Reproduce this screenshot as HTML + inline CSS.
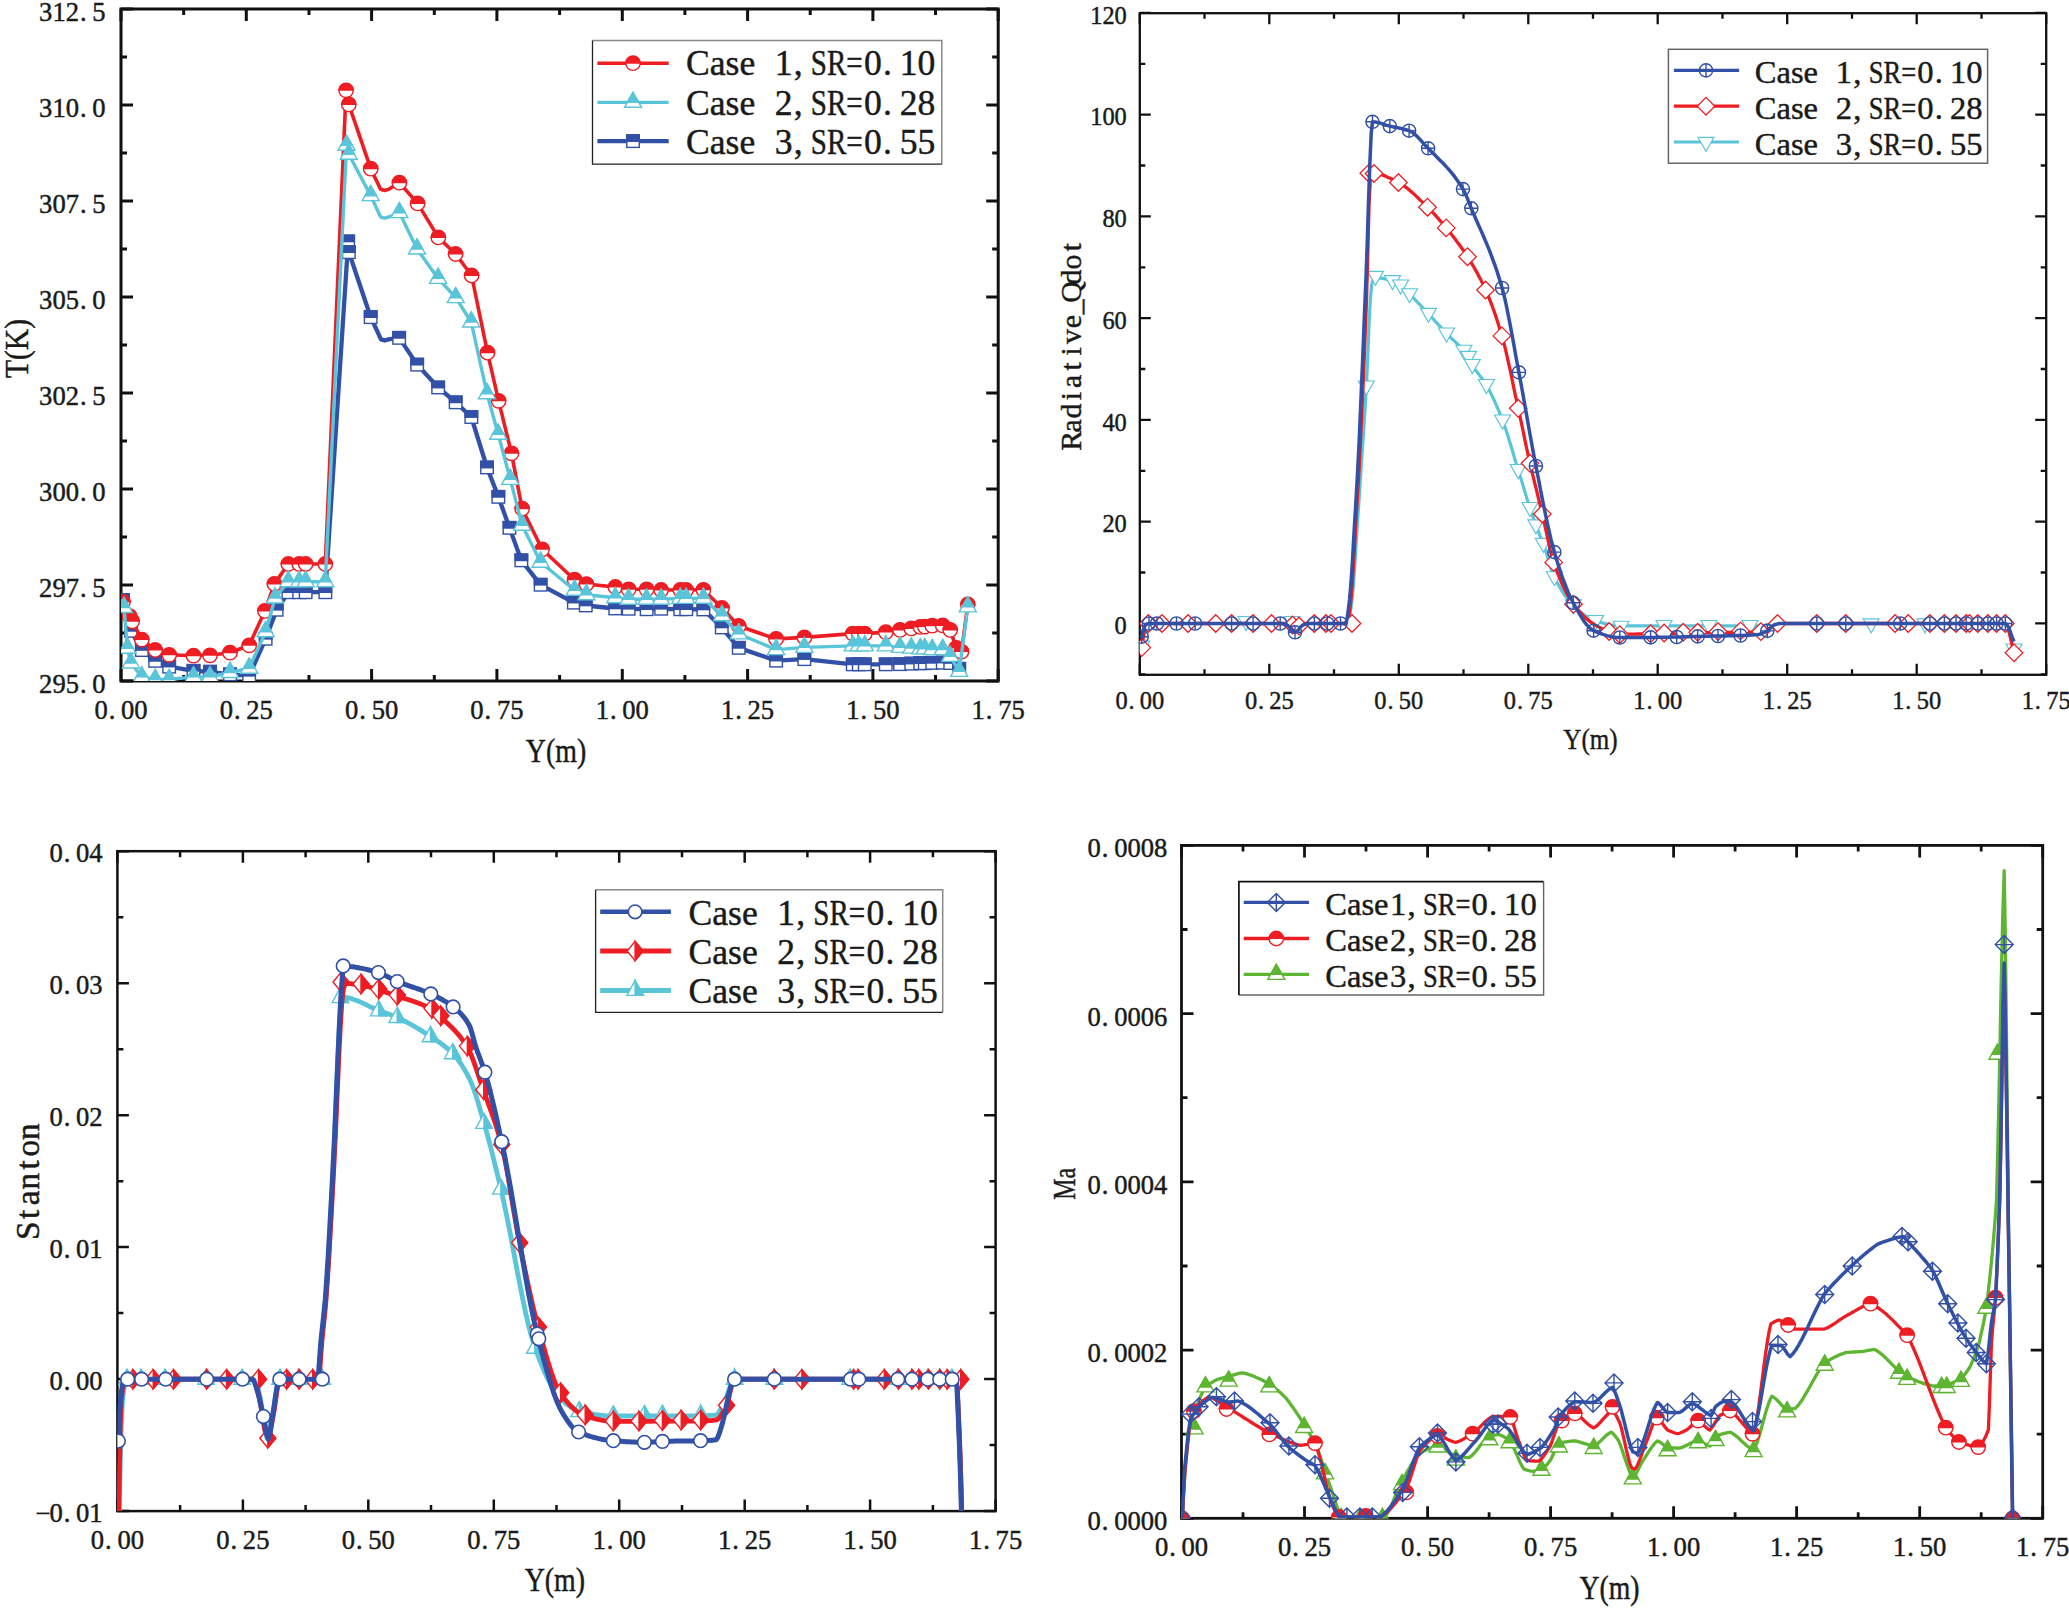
<!DOCTYPE html>
<html lang="en"><head><meta charset="utf-8"><title>Figure</title>
<style>html,body{margin:0;padding:0;background:#fff}svg{display:block}text{stroke:#1a1a1a;stroke-width:.45px}</style></head>
<body>
<svg width="2069" height="1623" viewBox="0 0 2069 1623" font-family='"Liberation Serif", serif' fill="#1a1a1a">
<rect width="2069" height="1623" fill="#fff"/>
<defs>
<clipPath id="c1"><rect x="121" y="9" width="877.2" height="672"/></clipPath>
<clipPath id="c2"><rect x="1139.8" y="13.2" width="906.4" height="661.6"/></clipPath>
<clipPath id="c3"><rect x="117.4" y="851.2" width="878.2" height="659.9"/></clipPath>
<clipPath id="c4"><rect x="1181.5" y="845.4" width="861.2" height="672.9"/></clipPath>
</defs>
<path d="M121,681 v-12 M121,9 v12 M183.7,681 v-6 M183.7,9 v6 M246.3,681 v-12 M246.3,9 v12 M309,681 v-6 M309,9 v6 M371.6,681 v-12 M371.6,9 v12 M434.3,681 v-6 M434.3,9 v6 M496.9,681 v-12 M496.9,9 v12 M559.6,681 v-6 M559.6,9 v6 M622.3,681 v-12 M622.3,9 v12 M684.9,681 v-6 M684.9,9 v6 M747.6,681 v-12 M747.6,9 v12 M810.2,681 v-6 M810.2,9 v6 M872.9,681 v-12 M872.9,9 v12 M935.5,681 v-6 M935.5,9 v6 M998.2,681 v-12 M998.2,9 v12 M121,681 h12 M998.2,681 h-12 M121,633 h6 M998.2,633 h-6 M121,585 h12 M998.2,585 h-12 M121,537 h6 M998.2,537 h-6 M121,489 h12 M998.2,489 h-12 M121,441 h6 M998.2,441 h-6 M121,393 h12 M998.2,393 h-12 M121,345 h6 M998.2,345 h-6 M121,297 h12 M998.2,297 h-12 M121,249 h6 M998.2,249 h-6 M121,201 h12 M998.2,201 h-12 M121,153 h6 M998.2,153 h-6 M121,105 h12 M998.2,105 h-12 M121,57 h6 M998.2,57 h-6 M121,9 h12 M998.2,9 h-12" stroke="#111" stroke-width="3" fill="none"/>
<rect x="121" y="9" width="877.2" height="672" fill="none" stroke="#111" stroke-width="3"/>
<text font-size="26.60" text-anchor="middle" x="101.05 111.96 127.65 140.95" y="718.60">0.00</text>
<text font-size="26.60" text-anchor="middle" x="226.36 237.27 252.96 266.26" y="718.60">0.25</text>
<text font-size="26.60" text-anchor="middle" x="351.68 362.58 378.28 391.58" y="718.60">0.50</text>
<text font-size="26.60" text-anchor="middle" x="476.99 487.90 503.59 516.89" y="718.60">0.75</text>
<text font-size="26.60" text-anchor="middle" x="602.31 613.21 628.91 642.21" y="718.60">1.00</text>
<text font-size="26.60" text-anchor="middle" x="727.62 738.53 754.22 767.52" y="718.60">1.25</text>
<text font-size="26.60" text-anchor="middle" x="852.94 863.84 879.54 892.84" y="718.60">1.50</text>
<text font-size="26.60" text-anchor="middle" x="978.25 989.16 1004.85 1018.15" y="718.60">1.75</text>
<text font-size="26.60" text-anchor="middle" x="45.75 59.05 72.35 83.26 98.95" y="693.00">295.0</text>
<text font-size="26.60" text-anchor="middle" x="45.75 59.05 72.35 83.26 98.95" y="597.00">297.5</text>
<text font-size="26.60" text-anchor="middle" x="45.75 59.05 72.35 83.26 98.95" y="501.00">300.0</text>
<text font-size="26.60" text-anchor="middle" x="45.75 59.05 72.35 83.26 98.95" y="405.00">302.5</text>
<text font-size="26.60" text-anchor="middle" x="45.75 59.05 72.35 83.26 98.95" y="309.00">305.0</text>
<text font-size="26.60" text-anchor="middle" x="45.75 59.05 72.35 83.26 98.95" y="213.00">307.5</text>
<text font-size="26.60" text-anchor="middle" x="45.75 59.05 72.35 83.26 98.95" y="117.00">310.0</text>
<text font-size="26.60" text-anchor="middle" x="45.75 59.05 72.35 83.26 98.95" y="21.00">312.5</text>
<g clip-path="url(#c1)">
<path d="M121,597 L123,600 L130.9,630.9 L141.8,650 L155.2,660.9 L169.2,666.6 L193.5,670.9 L210,671.8 L230,674.4 L249.2,675.7 L265.7,638.7 L276.7,609.8 L288.3,592.2 L299.2,592.2 L305.7,592.2 L325.3,592.2 L348.2,241.4 L348.9,252.2 L370.7,317.2 L381,339.4 L384.7,340.5 L388.4,339.4 L399.2,337.9 L417.2,364.6 L438.2,387.5 L455.7,402.3 L471.3,417 L487,467.5 L498.4,496.8 L509.5,527.9 L521.4,560.4 L540.6,584.8 L573.9,602.6 L585.7,605.5 L615.3,608.5 L628.6,608.8 L646.6,609.2 L661.1,608.8 L680.3,609.2 L686.2,609.2 L703.4,609.5 L721.7,627.5 L738.7,647.9 L776.1,660.6 L804.4,659.1 L852.8,664.4 L858.8,664.4 L864.8,664.4 L885.8,664.4 L900,664.1 L911.3,663.6 L920.3,663.2 L924.8,663.2 L932.2,662.9 L942.7,662.6 L950.2,663 L959.2,668.9" fill="none" stroke="#3150a6" stroke-width="4.3" stroke-linejoin="round" stroke-linecap="butt"/>
<rect x="116.8" y="593.8" width="12.5" height="12.5" fill="#fff" stroke="#3150a6" stroke-width="1.4"/>
<rect x="116" y="593" width="13.9" height="7.824999999999999" fill="#3150a6"/>
<rect x="124.7" y="624.6" width="12.5" height="12.5" fill="#fff" stroke="#3150a6" stroke-width="1.4"/>
<rect x="124" y="623.9" width="13.9" height="7.824999999999999" fill="#3150a6"/>
<rect x="135.6" y="643.8" width="12.5" height="12.5" fill="#fff" stroke="#3150a6" stroke-width="1.4"/>
<rect x="134.9" y="643" width="13.9" height="7.824999999999999" fill="#3150a6"/>
<rect x="148.9" y="654.6" width="12.5" height="12.5" fill="#fff" stroke="#3150a6" stroke-width="1.4"/>
<rect x="148.2" y="653.9" width="13.9" height="7.824999999999999" fill="#3150a6"/>
<rect x="162.9" y="660.4" width="12.5" height="12.5" fill="#fff" stroke="#3150a6" stroke-width="1.4"/>
<rect x="162.2" y="659.6" width="13.9" height="7.824999999999999" fill="#3150a6"/>
<rect x="187.2" y="664.6" width="12.5" height="12.5" fill="#fff" stroke="#3150a6" stroke-width="1.4"/>
<rect x="186.6" y="663.9" width="13.9" height="7.824999999999999" fill="#3150a6"/>
<rect x="203.8" y="665.5" width="12.5" height="12.5" fill="#fff" stroke="#3150a6" stroke-width="1.4"/>
<rect x="203.1" y="664.8" width="13.9" height="7.824999999999999" fill="#3150a6"/>
<rect x="223.8" y="668.1" width="12.5" height="12.5" fill="#fff" stroke="#3150a6" stroke-width="1.4"/>
<rect x="223.1" y="667.4" width="13.9" height="7.824999999999999" fill="#3150a6"/>
<rect x="242.9" y="669.5" width="12.5" height="12.5" fill="#fff" stroke="#3150a6" stroke-width="1.4"/>
<rect x="242.2" y="668.8" width="13.9" height="7.824999999999999" fill="#3150a6"/>
<rect x="259.4" y="632.5" width="12.5" height="12.5" fill="#fff" stroke="#3150a6" stroke-width="1.4"/>
<rect x="258.8" y="631.8" width="13.9" height="7.824999999999999" fill="#3150a6"/>
<rect x="270.4" y="603.5" width="12.5" height="12.5" fill="#fff" stroke="#3150a6" stroke-width="1.4"/>
<rect x="269.8" y="602.8" width="13.9" height="7.824999999999999" fill="#3150a6"/>
<rect x="282.1" y="586" width="12.5" height="12.5" fill="#fff" stroke="#3150a6" stroke-width="1.4"/>
<rect x="281.4" y="585.2" width="13.9" height="7.824999999999999" fill="#3150a6"/>
<rect x="292.9" y="586" width="12.5" height="12.5" fill="#fff" stroke="#3150a6" stroke-width="1.4"/>
<rect x="292.2" y="585.2" width="13.9" height="7.824999999999999" fill="#3150a6"/>
<rect x="299.4" y="586" width="12.5" height="12.5" fill="#fff" stroke="#3150a6" stroke-width="1.4"/>
<rect x="298.8" y="585.2" width="13.9" height="7.824999999999999" fill="#3150a6"/>
<rect x="319.1" y="586" width="12.5" height="12.5" fill="#fff" stroke="#3150a6" stroke-width="1.4"/>
<rect x="318.4" y="585.2" width="13.9" height="7.824999999999999" fill="#3150a6"/>
<rect x="341.9" y="235.2" width="12.5" height="12.5" fill="#fff" stroke="#3150a6" stroke-width="1.4"/>
<rect x="341.2" y="234.5" width="13.9" height="7.824999999999999" fill="#3150a6"/>
<rect x="342.6" y="245.9" width="12.5" height="12.5" fill="#fff" stroke="#3150a6" stroke-width="1.4"/>
<rect x="341.9" y="245.2" width="13.9" height="7.824999999999999" fill="#3150a6"/>
<rect x="364.4" y="310.9" width="12.5" height="12.5" fill="#fff" stroke="#3150a6" stroke-width="1.4"/>
<rect x="363.8" y="310.2" width="13.9" height="7.824999999999999" fill="#3150a6"/>
<rect x="392.9" y="331.6" width="12.5" height="12.5" fill="#fff" stroke="#3150a6" stroke-width="1.4"/>
<rect x="392.2" y="330.9" width="13.9" height="7.824999999999999" fill="#3150a6"/>
<rect x="410.9" y="358.4" width="12.5" height="12.5" fill="#fff" stroke="#3150a6" stroke-width="1.4"/>
<rect x="410.2" y="357.7" width="13.9" height="7.824999999999999" fill="#3150a6"/>
<rect x="431.9" y="381.2" width="12.5" height="12.5" fill="#fff" stroke="#3150a6" stroke-width="1.4"/>
<rect x="431.2" y="380.6" width="13.9" height="7.824999999999999" fill="#3150a6"/>
<rect x="449.4" y="396.1" width="12.5" height="12.5" fill="#fff" stroke="#3150a6" stroke-width="1.4"/>
<rect x="448.8" y="395.4" width="13.9" height="7.824999999999999" fill="#3150a6"/>
<rect x="465.1" y="410.8" width="12.5" height="12.5" fill="#fff" stroke="#3150a6" stroke-width="1.4"/>
<rect x="464.4" y="410.1" width="13.9" height="7.824999999999999" fill="#3150a6"/>
<rect x="480.8" y="461.2" width="12.5" height="12.5" fill="#fff" stroke="#3150a6" stroke-width="1.4"/>
<rect x="480.1" y="460.6" width="13.9" height="7.824999999999999" fill="#3150a6"/>
<rect x="492.1" y="490.6" width="12.5" height="12.5" fill="#fff" stroke="#3150a6" stroke-width="1.4"/>
<rect x="491.4" y="489.9" width="13.9" height="7.824999999999999" fill="#3150a6"/>
<rect x="503.2" y="521.6" width="12.5" height="12.5" fill="#fff" stroke="#3150a6" stroke-width="1.4"/>
<rect x="502.6" y="520.9" width="13.9" height="7.824999999999999" fill="#3150a6"/>
<rect x="515.1" y="554.1" width="12.5" height="12.5" fill="#fff" stroke="#3150a6" stroke-width="1.4"/>
<rect x="514.4" y="553.4" width="13.9" height="7.824999999999999" fill="#3150a6"/>
<rect x="534.4" y="578.5" width="12.5" height="12.5" fill="#fff" stroke="#3150a6" stroke-width="1.4"/>
<rect x="533.6" y="577.8" width="13.9" height="7.824999999999999" fill="#3150a6"/>
<rect x="567.6" y="596.4" width="12.5" height="12.5" fill="#fff" stroke="#3150a6" stroke-width="1.4"/>
<rect x="566.9" y="595.6" width="13.9" height="7.824999999999999" fill="#3150a6"/>
<rect x="579.5" y="599.2" width="12.5" height="12.5" fill="#fff" stroke="#3150a6" stroke-width="1.4"/>
<rect x="578.8" y="598.5" width="13.9" height="7.824999999999999" fill="#3150a6"/>
<rect x="609" y="602.2" width="12.5" height="12.5" fill="#fff" stroke="#3150a6" stroke-width="1.4"/>
<rect x="608.3" y="601.5" width="13.9" height="7.824999999999999" fill="#3150a6"/>
<rect x="622.4" y="602.5" width="12.5" height="12.5" fill="#fff" stroke="#3150a6" stroke-width="1.4"/>
<rect x="621.6" y="601.8" width="13.9" height="7.824999999999999" fill="#3150a6"/>
<rect x="640.4" y="603" width="12.5" height="12.5" fill="#fff" stroke="#3150a6" stroke-width="1.4"/>
<rect x="639.6" y="602.2" width="13.9" height="7.824999999999999" fill="#3150a6"/>
<rect x="654.9" y="602.5" width="12.5" height="12.5" fill="#fff" stroke="#3150a6" stroke-width="1.4"/>
<rect x="654.1" y="601.8" width="13.9" height="7.824999999999999" fill="#3150a6"/>
<rect x="674" y="603" width="12.5" height="12.5" fill="#fff" stroke="#3150a6" stroke-width="1.4"/>
<rect x="673.3" y="602.2" width="13.9" height="7.824999999999999" fill="#3150a6"/>
<rect x="680" y="603" width="12.5" height="12.5" fill="#fff" stroke="#3150a6" stroke-width="1.4"/>
<rect x="679.2" y="602.2" width="13.9" height="7.824999999999999" fill="#3150a6"/>
<rect x="697.1" y="603.2" width="12.5" height="12.5" fill="#fff" stroke="#3150a6" stroke-width="1.4"/>
<rect x="696.4" y="602.5" width="13.9" height="7.824999999999999" fill="#3150a6"/>
<rect x="715.5" y="621.2" width="12.5" height="12.5" fill="#fff" stroke="#3150a6" stroke-width="1.4"/>
<rect x="714.8" y="620.5" width="13.9" height="7.824999999999999" fill="#3150a6"/>
<rect x="732.5" y="641.6" width="12.5" height="12.5" fill="#fff" stroke="#3150a6" stroke-width="1.4"/>
<rect x="731.8" y="640.9" width="13.9" height="7.824999999999999" fill="#3150a6"/>
<rect x="769.9" y="654.4" width="12.5" height="12.5" fill="#fff" stroke="#3150a6" stroke-width="1.4"/>
<rect x="769.1" y="653.6" width="13.9" height="7.824999999999999" fill="#3150a6"/>
<rect x="798.1" y="652.9" width="12.5" height="12.5" fill="#fff" stroke="#3150a6" stroke-width="1.4"/>
<rect x="797.4" y="652.1" width="13.9" height="7.824999999999999" fill="#3150a6"/>
<rect x="846.5" y="658.1" width="12.5" height="12.5" fill="#fff" stroke="#3150a6" stroke-width="1.4"/>
<rect x="845.8" y="657.4" width="13.9" height="7.824999999999999" fill="#3150a6"/>
<rect x="852.5" y="658.1" width="12.5" height="12.5" fill="#fff" stroke="#3150a6" stroke-width="1.4"/>
<rect x="851.8" y="657.4" width="13.9" height="7.824999999999999" fill="#3150a6"/>
<rect x="858.5" y="658.1" width="12.5" height="12.5" fill="#fff" stroke="#3150a6" stroke-width="1.4"/>
<rect x="857.8" y="657.4" width="13.9" height="7.824999999999999" fill="#3150a6"/>
<rect x="879.5" y="658.1" width="12.5" height="12.5" fill="#fff" stroke="#3150a6" stroke-width="1.4"/>
<rect x="878.8" y="657.4" width="13.9" height="7.824999999999999" fill="#3150a6"/>
<rect x="893.8" y="657.9" width="12.5" height="12.5" fill="#fff" stroke="#3150a6" stroke-width="1.4"/>
<rect x="893" y="657.1" width="13.9" height="7.824999999999999" fill="#3150a6"/>
<rect x="905" y="657.4" width="12.5" height="12.5" fill="#fff" stroke="#3150a6" stroke-width="1.4"/>
<rect x="904.3" y="656.6" width="13.9" height="7.824999999999999" fill="#3150a6"/>
<rect x="914" y="657" width="12.5" height="12.5" fill="#fff" stroke="#3150a6" stroke-width="1.4"/>
<rect x="913.3" y="656.2" width="13.9" height="7.824999999999999" fill="#3150a6"/>
<rect x="918.5" y="657" width="12.5" height="12.5" fill="#fff" stroke="#3150a6" stroke-width="1.4"/>
<rect x="917.8" y="656.2" width="13.9" height="7.824999999999999" fill="#3150a6"/>
<rect x="926" y="656.6" width="12.5" height="12.5" fill="#fff" stroke="#3150a6" stroke-width="1.4"/>
<rect x="925.2" y="655.9" width="13.9" height="7.824999999999999" fill="#3150a6"/>
<rect x="936.5" y="656.4" width="12.5" height="12.5" fill="#fff" stroke="#3150a6" stroke-width="1.4"/>
<rect x="935.8" y="655.6" width="13.9" height="7.824999999999999" fill="#3150a6"/>
<rect x="944" y="656.8" width="12.5" height="12.5" fill="#fff" stroke="#3150a6" stroke-width="1.4"/>
<rect x="943.2" y="656" width="13.9" height="7.824999999999999" fill="#3150a6"/>
<rect x="953" y="662.6" width="12.5" height="12.5" fill="#fff" stroke="#3150a6" stroke-width="1.4"/>
<rect x="952.2" y="661.9" width="13.9" height="7.824999999999999" fill="#3150a6"/>
<path d="M121,597 L123,602 L129.6,616.1 L132.2,621.3 L141.8,639.6 L155.2,650 L169.2,654.8 L193.5,655.7 L210,655.3 L230,652.7 L249.2,645.3 L264.9,610.9 L274.4,583.9 L288.3,564 L299.2,564 L305.7,564 L325.3,564 L346.1,90.3 L348.8,104.4 L370.7,168.7 L380.6,189.3 L384.6,190.4 L388.7,189.3 L399.4,182.7 L417.6,203.4 L438.3,237.4 L455.6,254 L471.6,275.5 L487.5,352.7 L498.6,400.8 L511.5,453.3 L522.1,508.7 L542.1,549.3 L574.6,579.7 L586.4,584.1 L615.3,587 L628.6,589.3 L646.6,589.3 L661.1,590 L680.3,590 L686.2,590 L703.4,589.8 L722,608 L738.7,626 L776.1,638.9 L804.4,637.4 L852.8,633.6 L858.8,633.6 L864.8,633.6 L885.8,632.1 L900,629.9 L911.3,628.4 L920.3,626.9 L924.8,626.6 L932.2,625.7 L942.7,625.4 L950.2,629.9 L956.2,647.9 L961.5,651.6 L967.8,604.4" fill="none" stroke="#ee1d23" stroke-width="3.6" stroke-linejoin="round" stroke-linecap="butt"/>
<circle cx="123" cy="602" r="7.2" fill="#fff" stroke="#ee1d23" stroke-width="1.4"/>
<path d="M115.2,602.5 a7.8,7.8 0 0 1 15.6,0 z" fill="#ee1d23"/>
<circle cx="129.6" cy="616.1" r="7.2" fill="#fff" stroke="#ee1d23" stroke-width="1.4"/>
<path d="M121.8,616.6 a7.8,7.8 0 0 1 15.6,0 z" fill="#ee1d23"/>
<circle cx="132.2" cy="621.3" r="7.2" fill="#fff" stroke="#ee1d23" stroke-width="1.4"/>
<path d="M124.4,621.8 a7.8,7.8 0 0 1 15.6,0 z" fill="#ee1d23"/>
<circle cx="141.8" cy="639.6" r="7.2" fill="#fff" stroke="#ee1d23" stroke-width="1.4"/>
<path d="M134,640.1 a7.8,7.8 0 0 1 15.6,0 z" fill="#ee1d23"/>
<circle cx="155.2" cy="650" r="7.2" fill="#fff" stroke="#ee1d23" stroke-width="1.4"/>
<path d="M147.4,650.5 a7.8,7.8 0 0 1 15.6,0 z" fill="#ee1d23"/>
<circle cx="169.2" cy="654.8" r="7.2" fill="#fff" stroke="#ee1d23" stroke-width="1.4"/>
<path d="M161.4,655.3 a7.8,7.8 0 0 1 15.6,0 z" fill="#ee1d23"/>
<circle cx="193.5" cy="655.7" r="7.2" fill="#fff" stroke="#ee1d23" stroke-width="1.4"/>
<path d="M185.7,656.2 a7.8,7.8 0 0 1 15.6,0 z" fill="#ee1d23"/>
<circle cx="210" cy="655.3" r="7.2" fill="#fff" stroke="#ee1d23" stroke-width="1.4"/>
<path d="M202.2,655.8 a7.8,7.8 0 0 1 15.6,0 z" fill="#ee1d23"/>
<circle cx="230" cy="652.7" r="7.2" fill="#fff" stroke="#ee1d23" stroke-width="1.4"/>
<path d="M222.2,653.2 a7.8,7.8 0 0 1 15.6,0 z" fill="#ee1d23"/>
<circle cx="249.2" cy="645.3" r="7.2" fill="#fff" stroke="#ee1d23" stroke-width="1.4"/>
<path d="M241.4,645.8 a7.8,7.8 0 0 1 15.6,0 z" fill="#ee1d23"/>
<circle cx="264.9" cy="610.9" r="7.2" fill="#fff" stroke="#ee1d23" stroke-width="1.4"/>
<path d="M257.1,611.4 a7.8,7.8 0 0 1 15.6,0 z" fill="#ee1d23"/>
<circle cx="274.4" cy="583.9" r="7.2" fill="#fff" stroke="#ee1d23" stroke-width="1.4"/>
<path d="M266.6,584.4 a7.8,7.8 0 0 1 15.6,0 z" fill="#ee1d23"/>
<circle cx="288.3" cy="564" r="7.2" fill="#fff" stroke="#ee1d23" stroke-width="1.4"/>
<path d="M280.5,564.5 a7.8,7.8 0 0 1 15.6,0 z" fill="#ee1d23"/>
<circle cx="299.2" cy="564" r="7.2" fill="#fff" stroke="#ee1d23" stroke-width="1.4"/>
<path d="M291.4,564.5 a7.8,7.8 0 0 1 15.6,0 z" fill="#ee1d23"/>
<circle cx="305.7" cy="564" r="7.2" fill="#fff" stroke="#ee1d23" stroke-width="1.4"/>
<path d="M297.9,564.5 a7.8,7.8 0 0 1 15.6,0 z" fill="#ee1d23"/>
<circle cx="325.3" cy="564" r="7.2" fill="#fff" stroke="#ee1d23" stroke-width="1.4"/>
<path d="M317.5,564.5 a7.8,7.8 0 0 1 15.6,0 z" fill="#ee1d23"/>
<circle cx="346.1" cy="90.3" r="7.2" fill="#fff" stroke="#ee1d23" stroke-width="1.4"/>
<path d="M338.3,90.8 a7.8,7.8 0 0 1 15.6,0 z" fill="#ee1d23"/>
<circle cx="348.8" cy="104.4" r="7.2" fill="#fff" stroke="#ee1d23" stroke-width="1.4"/>
<path d="M341,104.9 a7.8,7.8 0 0 1 15.6,0 z" fill="#ee1d23"/>
<circle cx="370.7" cy="168.7" r="7.2" fill="#fff" stroke="#ee1d23" stroke-width="1.4"/>
<path d="M362.9,169.2 a7.8,7.8 0 0 1 15.6,0 z" fill="#ee1d23"/>
<circle cx="399.4" cy="182.7" r="7.2" fill="#fff" stroke="#ee1d23" stroke-width="1.4"/>
<path d="M391.6,183.2 a7.8,7.8 0 0 1 15.6,0 z" fill="#ee1d23"/>
<circle cx="417.6" cy="203.4" r="7.2" fill="#fff" stroke="#ee1d23" stroke-width="1.4"/>
<path d="M409.8,203.9 a7.8,7.8 0 0 1 15.6,0 z" fill="#ee1d23"/>
<circle cx="438.3" cy="237.4" r="7.2" fill="#fff" stroke="#ee1d23" stroke-width="1.4"/>
<path d="M430.5,237.9 a7.8,7.8 0 0 1 15.6,0 z" fill="#ee1d23"/>
<circle cx="455.6" cy="254" r="7.2" fill="#fff" stroke="#ee1d23" stroke-width="1.4"/>
<path d="M447.8,254.5 a7.8,7.8 0 0 1 15.6,0 z" fill="#ee1d23"/>
<circle cx="471.6" cy="275.5" r="7.2" fill="#fff" stroke="#ee1d23" stroke-width="1.4"/>
<path d="M463.8,276 a7.8,7.8 0 0 1 15.6,0 z" fill="#ee1d23"/>
<circle cx="487.5" cy="352.7" r="7.2" fill="#fff" stroke="#ee1d23" stroke-width="1.4"/>
<path d="M479.7,353.2 a7.8,7.8 0 0 1 15.6,0 z" fill="#ee1d23"/>
<circle cx="498.6" cy="400.8" r="7.2" fill="#fff" stroke="#ee1d23" stroke-width="1.4"/>
<path d="M490.8,401.3 a7.8,7.8 0 0 1 15.6,0 z" fill="#ee1d23"/>
<circle cx="511.5" cy="453.3" r="7.2" fill="#fff" stroke="#ee1d23" stroke-width="1.4"/>
<path d="M503.7,453.8 a7.8,7.8 0 0 1 15.6,0 z" fill="#ee1d23"/>
<circle cx="522.1" cy="508.7" r="7.2" fill="#fff" stroke="#ee1d23" stroke-width="1.4"/>
<path d="M514.3,509.2 a7.8,7.8 0 0 1 15.6,0 z" fill="#ee1d23"/>
<circle cx="542.1" cy="549.3" r="7.2" fill="#fff" stroke="#ee1d23" stroke-width="1.4"/>
<path d="M534.3,549.8 a7.8,7.8 0 0 1 15.6,0 z" fill="#ee1d23"/>
<circle cx="574.6" cy="579.7" r="7.2" fill="#fff" stroke="#ee1d23" stroke-width="1.4"/>
<path d="M566.8,580.2 a7.8,7.8 0 0 1 15.6,0 z" fill="#ee1d23"/>
<circle cx="586.4" cy="584.1" r="7.2" fill="#fff" stroke="#ee1d23" stroke-width="1.4"/>
<path d="M578.6,584.6 a7.8,7.8 0 0 1 15.6,0 z" fill="#ee1d23"/>
<circle cx="615.3" cy="587" r="7.2" fill="#fff" stroke="#ee1d23" stroke-width="1.4"/>
<path d="M607.5,587.5 a7.8,7.8 0 0 1 15.6,0 z" fill="#ee1d23"/>
<circle cx="628.6" cy="589.3" r="7.2" fill="#fff" stroke="#ee1d23" stroke-width="1.4"/>
<path d="M620.8,589.8 a7.8,7.8 0 0 1 15.6,0 z" fill="#ee1d23"/>
<circle cx="646.6" cy="589.3" r="7.2" fill="#fff" stroke="#ee1d23" stroke-width="1.4"/>
<path d="M638.8,589.8 a7.8,7.8 0 0 1 15.6,0 z" fill="#ee1d23"/>
<circle cx="661.1" cy="590" r="7.2" fill="#fff" stroke="#ee1d23" stroke-width="1.4"/>
<path d="M653.3,590.5 a7.8,7.8 0 0 1 15.6,0 z" fill="#ee1d23"/>
<circle cx="680.3" cy="590" r="7.2" fill="#fff" stroke="#ee1d23" stroke-width="1.4"/>
<path d="M672.5,590.5 a7.8,7.8 0 0 1 15.6,0 z" fill="#ee1d23"/>
<circle cx="686.2" cy="590" r="7.2" fill="#fff" stroke="#ee1d23" stroke-width="1.4"/>
<path d="M678.4,590.5 a7.8,7.8 0 0 1 15.6,0 z" fill="#ee1d23"/>
<circle cx="703.4" cy="589.8" r="7.2" fill="#fff" stroke="#ee1d23" stroke-width="1.4"/>
<path d="M695.6,590.3 a7.8,7.8 0 0 1 15.6,0 z" fill="#ee1d23"/>
<circle cx="722" cy="608" r="7.2" fill="#fff" stroke="#ee1d23" stroke-width="1.4"/>
<path d="M714.2,608.5 a7.8,7.8 0 0 1 15.6,0 z" fill="#ee1d23"/>
<circle cx="738.7" cy="626" r="7.2" fill="#fff" stroke="#ee1d23" stroke-width="1.4"/>
<path d="M730.9,626.5 a7.8,7.8 0 0 1 15.6,0 z" fill="#ee1d23"/>
<circle cx="776.1" cy="638.9" r="7.2" fill="#fff" stroke="#ee1d23" stroke-width="1.4"/>
<path d="M768.3,639.4 a7.8,7.8 0 0 1 15.6,0 z" fill="#ee1d23"/>
<circle cx="804.4" cy="637.4" r="7.2" fill="#fff" stroke="#ee1d23" stroke-width="1.4"/>
<path d="M796.6,637.9 a7.8,7.8 0 0 1 15.6,0 z" fill="#ee1d23"/>
<circle cx="852.8" cy="633.6" r="7.2" fill="#fff" stroke="#ee1d23" stroke-width="1.4"/>
<path d="M845,634.1 a7.8,7.8 0 0 1 15.6,0 z" fill="#ee1d23"/>
<circle cx="858.8" cy="633.6" r="7.2" fill="#fff" stroke="#ee1d23" stroke-width="1.4"/>
<path d="M851,634.1 a7.8,7.8 0 0 1 15.6,0 z" fill="#ee1d23"/>
<circle cx="864.8" cy="633.6" r="7.2" fill="#fff" stroke="#ee1d23" stroke-width="1.4"/>
<path d="M857,634.1 a7.8,7.8 0 0 1 15.6,0 z" fill="#ee1d23"/>
<circle cx="885.8" cy="632.1" r="7.2" fill="#fff" stroke="#ee1d23" stroke-width="1.4"/>
<path d="M878,632.6 a7.8,7.8 0 0 1 15.6,0 z" fill="#ee1d23"/>
<circle cx="900" cy="629.9" r="7.2" fill="#fff" stroke="#ee1d23" stroke-width="1.4"/>
<path d="M892.2,630.4 a7.8,7.8 0 0 1 15.6,0 z" fill="#ee1d23"/>
<circle cx="911.3" cy="628.4" r="7.2" fill="#fff" stroke="#ee1d23" stroke-width="1.4"/>
<path d="M903.5,628.9 a7.8,7.8 0 0 1 15.6,0 z" fill="#ee1d23"/>
<circle cx="920.3" cy="626.9" r="7.2" fill="#fff" stroke="#ee1d23" stroke-width="1.4"/>
<path d="M912.5,627.4 a7.8,7.8 0 0 1 15.6,0 z" fill="#ee1d23"/>
<circle cx="924.8" cy="626.6" r="7.2" fill="#fff" stroke="#ee1d23" stroke-width="1.4"/>
<path d="M917,627.1 a7.8,7.8 0 0 1 15.6,0 z" fill="#ee1d23"/>
<circle cx="932.2" cy="625.7" r="7.2" fill="#fff" stroke="#ee1d23" stroke-width="1.4"/>
<path d="M924.4,626.2 a7.8,7.8 0 0 1 15.6,0 z" fill="#ee1d23"/>
<circle cx="942.7" cy="625.4" r="7.2" fill="#fff" stroke="#ee1d23" stroke-width="1.4"/>
<path d="M934.9,625.9 a7.8,7.8 0 0 1 15.6,0 z" fill="#ee1d23"/>
<circle cx="950.2" cy="629.9" r="7.2" fill="#fff" stroke="#ee1d23" stroke-width="1.4"/>
<path d="M942.4,630.4 a7.8,7.8 0 0 1 15.6,0 z" fill="#ee1d23"/>
<circle cx="956.2" cy="647.9" r="7.2" fill="#fff" stroke="#ee1d23" stroke-width="1.4"/>
<path d="M948.4,648.4 a7.8,7.8 0 0 1 15.6,0 z" fill="#ee1d23"/>
<circle cx="961.5" cy="651.6" r="7.2" fill="#fff" stroke="#ee1d23" stroke-width="1.4"/>
<path d="M953.7,652.1 a7.8,7.8 0 0 1 15.6,0 z" fill="#ee1d23"/>
<circle cx="967.8" cy="604.4" r="7.2" fill="#fff" stroke="#ee1d23" stroke-width="1.4"/>
<path d="M960,604.9 a7.8,7.8 0 0 1 15.6,0 z" fill="#ee1d23"/>
<path d="M121,599.5 L124,607.5 L127.4,648.2 L130.9,663 L141.8,676.9 L155.2,679.5 L169.2,679.5 L193.5,676.9 L210,676.9 L230,672.5 L249.2,668.2 L265.7,631.7 L275,598 L288.3,581.7 L299.2,581.7 L305.7,581.7 L325.3,581.7 L346.6,145.3 L348.8,154.2 L370.7,195.6 L380.6,217 L384.6,218.1 L388.7,217 L399.4,212.6 L417,249 L438.1,278.4 L455.7,297.6 L471.2,322 L487,393.7 L498.2,434.3 L510.3,479.4 L522.1,525.2 L540.6,562.2 L574.6,590.3 L586.4,594.7 L615.3,597.7 L628.6,599.2 L646.6,599.2 L661.1,599.2 L680.3,598.4 L686.2,598.4 L703.4,598.2 L722,615.7 L738.7,633.9 L776.1,649.6 L804.4,647.4 L852.8,645.9 L858.8,645.9 L864.8,645.9 L885.8,645.9 L900,647.4 L911.3,648.1 L920.3,648.9 L924.8,648.9 L932.2,649.6 L942.7,649.6 L950.2,656.4 L959.2,671.4 L967.8,606.9" fill="none" stroke="#5ac4d9" stroke-width="3.4" stroke-linejoin="round" stroke-linecap="butt"/>
<path d="M124,597.5 L115.5,612.5 L132.5,612.5 z" fill="#fff" stroke="#5ac4d9" stroke-width="1.4"/>
<path d="M124,597.5 L118.3,607.5 L129.7,607.5 z" fill="#5ac4d9" stroke="#5ac4d9" stroke-width="1.4"/>
<path d="M127.4,638.2 L118.9,653.2 L135.9,653.2 z" fill="#fff" stroke="#5ac4d9" stroke-width="1.4"/>
<path d="M127.4,638.2 L121.7,648.2 L133.1,648.2 z" fill="#5ac4d9" stroke="#5ac4d9" stroke-width="1.4"/>
<path d="M130.9,653 L122.4,668 L139.4,668 z" fill="#fff" stroke="#5ac4d9" stroke-width="1.4"/>
<path d="M130.9,653 L125.2,663 L136.6,663 z" fill="#5ac4d9" stroke="#5ac4d9" stroke-width="1.4"/>
<path d="M141.8,666.9 L133.3,681.9 L150.3,681.9 z" fill="#fff" stroke="#5ac4d9" stroke-width="1.4"/>
<path d="M141.8,666.9 L136.1,676.9 L147.5,676.9 z" fill="#5ac4d9" stroke="#5ac4d9" stroke-width="1.4"/>
<path d="M155.2,669.5 L146.7,684.5 L163.7,684.5 z" fill="#fff" stroke="#5ac4d9" stroke-width="1.4"/>
<path d="M155.2,669.5 L149.5,679.5 L160.9,679.5 z" fill="#5ac4d9" stroke="#5ac4d9" stroke-width="1.4"/>
<path d="M169.2,669.5 L160.7,684.5 L177.7,684.5 z" fill="#fff" stroke="#5ac4d9" stroke-width="1.4"/>
<path d="M169.2,669.5 L163.5,679.5 L174.9,679.5 z" fill="#5ac4d9" stroke="#5ac4d9" stroke-width="1.4"/>
<path d="M193.5,666.9 L185,681.9 L202,681.9 z" fill="#fff" stroke="#5ac4d9" stroke-width="1.4"/>
<path d="M193.5,666.9 L187.8,676.9 L199.2,676.9 z" fill="#5ac4d9" stroke="#5ac4d9" stroke-width="1.4"/>
<path d="M210,666.9 L201.5,681.9 L218.5,681.9 z" fill="#fff" stroke="#5ac4d9" stroke-width="1.4"/>
<path d="M210,666.9 L204.3,676.9 L215.7,676.9 z" fill="#5ac4d9" stroke="#5ac4d9" stroke-width="1.4"/>
<path d="M230,662.5 L221.5,677.5 L238.5,677.5 z" fill="#fff" stroke="#5ac4d9" stroke-width="1.4"/>
<path d="M230,662.5 L224.3,672.5 L235.7,672.5 z" fill="#5ac4d9" stroke="#5ac4d9" stroke-width="1.4"/>
<path d="M249.2,658.2 L240.7,673.2 L257.7,673.2 z" fill="#fff" stroke="#5ac4d9" stroke-width="1.4"/>
<path d="M249.2,658.2 L243.5,668.2 L254.9,668.2 z" fill="#5ac4d9" stroke="#5ac4d9" stroke-width="1.4"/>
<path d="M265.7,621.7 L257.2,636.7 L274.2,636.7 z" fill="#fff" stroke="#5ac4d9" stroke-width="1.4"/>
<path d="M265.7,621.7 L260,631.8 L271.4,631.8 z" fill="#5ac4d9" stroke="#5ac4d9" stroke-width="1.4"/>
<path d="M275,588 L266.5,603 L283.5,603 z" fill="#fff" stroke="#5ac4d9" stroke-width="1.4"/>
<path d="M275,588 L269.3,598 L280.7,598 z" fill="#5ac4d9" stroke="#5ac4d9" stroke-width="1.4"/>
<path d="M288.3,571.7 L279.8,586.7 L296.8,586.7 z" fill="#fff" stroke="#5ac4d9" stroke-width="1.4"/>
<path d="M288.3,571.7 L282.6,581.8 L294,581.8 z" fill="#5ac4d9" stroke="#5ac4d9" stroke-width="1.4"/>
<path d="M299.2,571.7 L290.7,586.7 L307.7,586.7 z" fill="#fff" stroke="#5ac4d9" stroke-width="1.4"/>
<path d="M299.2,571.7 L293.5,581.8 L304.9,581.8 z" fill="#5ac4d9" stroke="#5ac4d9" stroke-width="1.4"/>
<path d="M305.7,571.7 L297.2,586.7 L314.2,586.7 z" fill="#fff" stroke="#5ac4d9" stroke-width="1.4"/>
<path d="M305.7,571.7 L300,581.8 L311.4,581.8 z" fill="#5ac4d9" stroke="#5ac4d9" stroke-width="1.4"/>
<path d="M325.3,571.7 L316.8,586.7 L333.8,586.7 z" fill="#fff" stroke="#5ac4d9" stroke-width="1.4"/>
<path d="M325.3,571.7 L319.6,581.8 L331,581.8 z" fill="#5ac4d9" stroke="#5ac4d9" stroke-width="1.4"/>
<path d="M346.6,135.3 L338.1,150.3 L355.1,150.3 z" fill="#fff" stroke="#5ac4d9" stroke-width="1.4"/>
<path d="M346.6,135.3 L340.9,145.4 L352.3,145.4 z" fill="#5ac4d9" stroke="#5ac4d9" stroke-width="1.4"/>
<path d="M348.8,144.2 L340.3,159.2 L357.3,159.2 z" fill="#fff" stroke="#5ac4d9" stroke-width="1.4"/>
<path d="M348.8,144.2 L343.1,154.2 L354.5,154.2 z" fill="#5ac4d9" stroke="#5ac4d9" stroke-width="1.4"/>
<path d="M370.7,185.6 L362.2,200.6 L379.2,200.6 z" fill="#fff" stroke="#5ac4d9" stroke-width="1.4"/>
<path d="M370.7,185.6 L365,195.7 L376.4,195.7 z" fill="#5ac4d9" stroke="#5ac4d9" stroke-width="1.4"/>
<path d="M399.4,202.6 L390.9,217.6 L407.9,217.6 z" fill="#fff" stroke="#5ac4d9" stroke-width="1.4"/>
<path d="M399.4,202.6 L393.7,212.7 L405.1,212.7 z" fill="#5ac4d9" stroke="#5ac4d9" stroke-width="1.4"/>
<path d="M417,239 L408.5,254 L425.5,254 z" fill="#fff" stroke="#5ac4d9" stroke-width="1.4"/>
<path d="M417,239 L411.3,249.1 L422.7,249.1 z" fill="#5ac4d9" stroke="#5ac4d9" stroke-width="1.4"/>
<path d="M438.1,268.4 L429.6,283.4 L446.6,283.4 z" fill="#fff" stroke="#5ac4d9" stroke-width="1.4"/>
<path d="M438.1,268.4 L432.4,278.4 L443.8,278.4 z" fill="#5ac4d9" stroke="#5ac4d9" stroke-width="1.4"/>
<path d="M455.7,287.6 L447.2,302.6 L464.2,302.6 z" fill="#fff" stroke="#5ac4d9" stroke-width="1.4"/>
<path d="M455.7,287.6 L450,297.7 L461.4,297.7 z" fill="#5ac4d9" stroke="#5ac4d9" stroke-width="1.4"/>
<path d="M471.2,312 L462.7,327 L479.7,327 z" fill="#fff" stroke="#5ac4d9" stroke-width="1.4"/>
<path d="M471.2,312 L465.5,322.1 L476.9,322.1 z" fill="#5ac4d9" stroke="#5ac4d9" stroke-width="1.4"/>
<path d="M487,383.7 L478.5,398.7 L495.5,398.7 z" fill="#fff" stroke="#5ac4d9" stroke-width="1.4"/>
<path d="M487,383.7 L481.3,393.8 L492.7,393.8 z" fill="#5ac4d9" stroke="#5ac4d9" stroke-width="1.4"/>
<path d="M498.2,424.3 L489.7,439.3 L506.7,439.3 z" fill="#fff" stroke="#5ac4d9" stroke-width="1.4"/>
<path d="M498.2,424.3 L492.5,434.4 L503.9,434.4 z" fill="#5ac4d9" stroke="#5ac4d9" stroke-width="1.4"/>
<path d="M510.3,469.4 L501.8,484.4 L518.8,484.4 z" fill="#fff" stroke="#5ac4d9" stroke-width="1.4"/>
<path d="M510.3,469.4 L504.6,479.4 L516,479.4 z" fill="#5ac4d9" stroke="#5ac4d9" stroke-width="1.4"/>
<path d="M522.1,515.2 L513.6,530.2 L530.6,530.2 z" fill="#fff" stroke="#5ac4d9" stroke-width="1.4"/>
<path d="M522.1,515.2 L516.4,525.2 L527.8,525.2 z" fill="#5ac4d9" stroke="#5ac4d9" stroke-width="1.4"/>
<path d="M540.6,552.2 L532.1,567.2 L549.1,567.2 z" fill="#fff" stroke="#5ac4d9" stroke-width="1.4"/>
<path d="M540.6,552.2 L534.9,562.2 L546.3,562.2 z" fill="#5ac4d9" stroke="#5ac4d9" stroke-width="1.4"/>
<path d="M574.6,580.3 L566.1,595.3 L583.1,595.3 z" fill="#fff" stroke="#5ac4d9" stroke-width="1.4"/>
<path d="M574.6,580.3 L568.9,590.3 L580.3,590.3 z" fill="#5ac4d9" stroke="#5ac4d9" stroke-width="1.4"/>
<path d="M586.4,584.7 L577.9,599.7 L594.9,599.7 z" fill="#fff" stroke="#5ac4d9" stroke-width="1.4"/>
<path d="M586.4,584.7 L580.7,594.8 L592.1,594.8 z" fill="#5ac4d9" stroke="#5ac4d9" stroke-width="1.4"/>
<path d="M615.3,587.7 L606.8,602.7 L623.8,602.7 z" fill="#fff" stroke="#5ac4d9" stroke-width="1.4"/>
<path d="M615.3,587.7 L609.6,597.8 L621,597.8 z" fill="#5ac4d9" stroke="#5ac4d9" stroke-width="1.4"/>
<path d="M628.6,589.2 L620.1,604.2 L637.1,604.2 z" fill="#fff" stroke="#5ac4d9" stroke-width="1.4"/>
<path d="M628.6,589.2 L622.9,599.2 L634.3,599.2 z" fill="#5ac4d9" stroke="#5ac4d9" stroke-width="1.4"/>
<path d="M646.6,589.2 L638.1,604.2 L655.1,604.2 z" fill="#fff" stroke="#5ac4d9" stroke-width="1.4"/>
<path d="M646.6,589.2 L640.9,599.2 L652.3,599.2 z" fill="#5ac4d9" stroke="#5ac4d9" stroke-width="1.4"/>
<path d="M661.1,589.2 L652.6,604.2 L669.6,604.2 z" fill="#fff" stroke="#5ac4d9" stroke-width="1.4"/>
<path d="M661.1,589.2 L655.4,599.2 L666.8,599.2 z" fill="#5ac4d9" stroke="#5ac4d9" stroke-width="1.4"/>
<path d="M680.3,588.4 L671.8,603.4 L688.8,603.4 z" fill="#fff" stroke="#5ac4d9" stroke-width="1.4"/>
<path d="M680.3,588.4 L674.6,598.4 L686,598.4 z" fill="#5ac4d9" stroke="#5ac4d9" stroke-width="1.4"/>
<path d="M686.2,588.4 L677.7,603.4 L694.7,603.4 z" fill="#fff" stroke="#5ac4d9" stroke-width="1.4"/>
<path d="M686.2,588.4 L680.5,598.4 L691.9,598.4 z" fill="#5ac4d9" stroke="#5ac4d9" stroke-width="1.4"/>
<path d="M703.4,588.2 L694.9,603.2 L711.9,603.2 z" fill="#fff" stroke="#5ac4d9" stroke-width="1.4"/>
<path d="M703.4,588.2 L697.7,598.2 L709.1,598.2 z" fill="#5ac4d9" stroke="#5ac4d9" stroke-width="1.4"/>
<path d="M722,605.7 L713.5,620.7 L730.5,620.7 z" fill="#fff" stroke="#5ac4d9" stroke-width="1.4"/>
<path d="M722,605.7 L716.3,615.8 L727.7,615.8 z" fill="#5ac4d9" stroke="#5ac4d9" stroke-width="1.4"/>
<path d="M738.7,623.9 L730.2,638.9 L747.2,638.9 z" fill="#fff" stroke="#5ac4d9" stroke-width="1.4"/>
<path d="M738.7,623.9 L733,633.9 L744.4,633.9 z" fill="#5ac4d9" stroke="#5ac4d9" stroke-width="1.4"/>
<path d="M776.1,639.6 L767.6,654.6 L784.6,654.6 z" fill="#fff" stroke="#5ac4d9" stroke-width="1.4"/>
<path d="M776.1,639.6 L770.4,649.6 L781.8,649.6 z" fill="#5ac4d9" stroke="#5ac4d9" stroke-width="1.4"/>
<path d="M804.4,637.4 L795.9,652.4 L812.9,652.4 z" fill="#fff" stroke="#5ac4d9" stroke-width="1.4"/>
<path d="M804.4,637.4 L798.7,647.4 L810.1,647.4 z" fill="#5ac4d9" stroke="#5ac4d9" stroke-width="1.4"/>
<path d="M852.8,635.9 L844.3,650.9 L861.3,650.9 z" fill="#fff" stroke="#5ac4d9" stroke-width="1.4"/>
<path d="M852.8,635.9 L847.1,645.9 L858.5,645.9 z" fill="#5ac4d9" stroke="#5ac4d9" stroke-width="1.4"/>
<path d="M858.8,635.9 L850.3,650.9 L867.3,650.9 z" fill="#fff" stroke="#5ac4d9" stroke-width="1.4"/>
<path d="M858.8,635.9 L853.1,645.9 L864.5,645.9 z" fill="#5ac4d9" stroke="#5ac4d9" stroke-width="1.4"/>
<path d="M864.8,635.9 L856.3,650.9 L873.3,650.9 z" fill="#fff" stroke="#5ac4d9" stroke-width="1.4"/>
<path d="M864.8,635.9 L859.1,645.9 L870.5,645.9 z" fill="#5ac4d9" stroke="#5ac4d9" stroke-width="1.4"/>
<path d="M885.8,635.9 L877.3,650.9 L894.3,650.9 z" fill="#fff" stroke="#5ac4d9" stroke-width="1.4"/>
<path d="M885.8,635.9 L880.1,645.9 L891.5,645.9 z" fill="#5ac4d9" stroke="#5ac4d9" stroke-width="1.4"/>
<path d="M900,637.4 L891.5,652.4 L908.5,652.4 z" fill="#fff" stroke="#5ac4d9" stroke-width="1.4"/>
<path d="M900,637.4 L894.3,647.4 L905.7,647.4 z" fill="#5ac4d9" stroke="#5ac4d9" stroke-width="1.4"/>
<path d="M911.3,638.1 L902.8,653.1 L919.8,653.1 z" fill="#fff" stroke="#5ac4d9" stroke-width="1.4"/>
<path d="M911.3,638.1 L905.6,648.1 L917,648.1 z" fill="#5ac4d9" stroke="#5ac4d9" stroke-width="1.4"/>
<path d="M920.3,638.9 L911.8,653.9 L928.8,653.9 z" fill="#fff" stroke="#5ac4d9" stroke-width="1.4"/>
<path d="M920.3,638.9 L914.6,648.9 L926,648.9 z" fill="#5ac4d9" stroke="#5ac4d9" stroke-width="1.4"/>
<path d="M924.8,638.9 L916.3,653.9 L933.3,653.9 z" fill="#fff" stroke="#5ac4d9" stroke-width="1.4"/>
<path d="M924.8,638.9 L919.1,648.9 L930.5,648.9 z" fill="#5ac4d9" stroke="#5ac4d9" stroke-width="1.4"/>
<path d="M932.2,639.6 L923.7,654.6 L940.7,654.6 z" fill="#fff" stroke="#5ac4d9" stroke-width="1.4"/>
<path d="M932.2,639.6 L926.5,649.6 L937.9,649.6 z" fill="#5ac4d9" stroke="#5ac4d9" stroke-width="1.4"/>
<path d="M942.7,639.6 L934.2,654.6 L951.2,654.6 z" fill="#fff" stroke="#5ac4d9" stroke-width="1.4"/>
<path d="M942.7,639.6 L937,649.6 L948.4,649.6 z" fill="#5ac4d9" stroke="#5ac4d9" stroke-width="1.4"/>
<path d="M950.2,646.4 L941.7,661.4 L958.7,661.4 z" fill="#fff" stroke="#5ac4d9" stroke-width="1.4"/>
<path d="M950.2,646.4 L944.5,656.4 L955.9,656.4 z" fill="#5ac4d9" stroke="#5ac4d9" stroke-width="1.4"/>
<path d="M959.2,661.4 L950.7,676.4 L967.7,676.4 z" fill="#fff" stroke="#5ac4d9" stroke-width="1.4"/>
<path d="M959.2,661.4 L953.5,671.4 L964.9,671.4 z" fill="#5ac4d9" stroke="#5ac4d9" stroke-width="1.4"/>
<path d="M967.8,596.9 L959.3,611.9 L976.3,611.9 z" fill="#fff" stroke="#5ac4d9" stroke-width="1.4"/>
<path d="M967.8,596.9 L962.1,606.9 L973.5,606.9 z" fill="#5ac4d9" stroke="#5ac4d9" stroke-width="1.4"/>
</g>
<text font-size="33.30" text-anchor="middle" y="761.50"><tspan x="525.77" text-anchor="start" textLength="60.42" lengthAdjust="spacingAndGlyphs">Y(m)</tspan></text>
<text transform="translate(28.10,378.20) rotate(-90)" font-size="33.30" text-anchor="middle" y="0"><tspan x="0.17" text-anchor="start" textLength="59.10" lengthAdjust="spacingAndGlyphs">T(K)</tspan></text>
<rect x="592.5" y="40.6" width="349.3" height="123.6" fill="#fff" stroke="none"/>
<path d="M592.5,40.6 H941.8 V164.2" fill="none" stroke="#888" stroke-width="1.5"/><path d="M592.5,40.6 V164.2 H941.8" fill="none" stroke="#222" stroke-width="1.3"/>
<path d="M597.4,63.2 H668.7" stroke="#ee1d23" stroke-width="3.4"/>
<circle cx="633" cy="63.2" r="7.2" fill="#fff" stroke="#ee1d23" stroke-width="1.4"/>
<path d="M625.2,63.7 a7.8,7.8 0 0 1 15.6,0 z" fill="#ee1d23"/>
<text font-size="35.60" text-anchor="middle" y="75.10"><tspan x="686.04" text-anchor="start" textLength="69.26" lengthAdjust="spacingAndGlyphs">Case</tspan><tspan x="765.83 783.67 798.32"> 1,</tspan><tspan x="810.81" text-anchor="start" textLength="51.94" lengthAdjust="spacingAndGlyphs">SR=</tspan><tspan x="872.92 887.57 908.62 926.48">0.10</tspan></text>
<path d="M597.4,102.3 H668.7" stroke="#5ac4d9" stroke-width="3.3"/>
<path d="M633,92.3 L624.5,107.3 L641.5,107.3 z" fill="#fff" stroke="#5ac4d9" stroke-width="1.4"/>
<path d="M633,92.3 L627.3,102.3 L638.7,102.3 z" fill="#5ac4d9" stroke="#5ac4d9" stroke-width="1.4"/>
<text font-size="35.60" text-anchor="middle" y="114.60"><tspan x="686.04" text-anchor="start" textLength="69.26" lengthAdjust="spacingAndGlyphs">Case</tspan><tspan x="765.83 783.67 798.32"> 2,</tspan><tspan x="810.81" text-anchor="start" textLength="51.94" lengthAdjust="spacingAndGlyphs">SR=</tspan><tspan x="872.92 887.57 908.62 926.48">0.28</tspan></text>
<path d="M597.4,141.2 H668.7" stroke="#3150a6" stroke-width="4.3"/>
<rect x="626.8" y="134.9" width="12.5" height="12.5" fill="#fff" stroke="#3150a6" stroke-width="1.4"/>
<rect x="626" y="134.2" width="13.9" height="7.824999999999999" fill="#3150a6"/>
<text font-size="35.60" text-anchor="middle" y="153.70"><tspan x="686.04" text-anchor="start" textLength="69.26" lengthAdjust="spacingAndGlyphs">Case</tspan><tspan x="765.83 783.67 798.32"> 3,</tspan><tspan x="810.81" text-anchor="start" textLength="51.94" lengthAdjust="spacingAndGlyphs">SR=</tspan><tspan x="872.92 887.57 908.62 926.48">0.55</tspan></text>
<path d="M1139.8,674.8 v-11 M1139.8,13.2 v11 M1204.5,674.8 v-5.5 M1204.5,13.2 v5.5 M1269.3,674.8 v-11 M1269.3,13.2 v11 M1334,674.8 v-5.5 M1334,13.2 v5.5 M1398.8,674.8 v-11 M1398.8,13.2 v11 M1463.5,674.8 v-5.5 M1463.5,13.2 v5.5 M1528.3,674.8 v-11 M1528.3,13.2 v11 M1593,674.8 v-5.5 M1593,13.2 v5.5 M1657.7,674.8 v-11 M1657.7,13.2 v11 M1722.5,674.8 v-5.5 M1722.5,13.2 v5.5 M1787.2,674.8 v-11 M1787.2,13.2 v11 M1852,674.8 v-5.5 M1852,13.2 v5.5 M1916.7,674.8 v-11 M1916.7,13.2 v11 M1981.5,674.8 v-5.5 M1981.5,13.2 v5.5 M2046.2,674.8 v-11 M2046.2,13.2 v11 M1139.8,674.3 h5.5 M2046.2,674.3 h-5.5 M1139.8,623.4 h11 M2046.2,623.4 h-11 M1139.8,572.5 h5.5 M2046.2,572.5 h-5.5 M1139.8,521.6 h11 M2046.2,521.6 h-11 M1139.8,470.8 h5.5 M2046.2,470.8 h-5.5 M1139.8,419.9 h11 M2046.2,419.9 h-11 M1139.8,369 h5.5 M2046.2,369 h-5.5 M1139.8,318.1 h11 M2046.2,318.1 h-11 M1139.8,267.3 h5.5 M2046.2,267.3 h-5.5 M1139.8,216.4 h11 M2046.2,216.4 h-11 M1139.8,165.5 h5.5 M2046.2,165.5 h-5.5 M1139.8,114.6 h11 M2046.2,114.6 h-11 M1139.8,63.8 h5.5 M2046.2,63.8 h-5.5 M1139.8,12.9 h11 M2046.2,12.9 h-11" stroke="#111" stroke-width="2.3" fill="none"/>
<rect x="1139.8" y="13.2" width="906.4" height="661.6" fill="none" stroke="#111" stroke-width="2.3"/>
<text font-size="24.40" text-anchor="middle" x="1121.50 1131.50 1145.90 1158.10" y="708.50">0.00</text>
<text font-size="24.40" text-anchor="middle" x="1250.99 1260.99 1275.39 1287.59" y="708.50">0.25</text>
<text font-size="24.40" text-anchor="middle" x="1380.47 1390.48 1404.87 1417.07" y="708.50">0.50</text>
<text font-size="24.40" text-anchor="middle" x="1509.96 1519.96 1534.36 1546.56" y="708.50">0.75</text>
<text font-size="24.40" text-anchor="middle" x="1639.44 1649.45 1663.84 1676.04" y="708.50">1.00</text>
<text font-size="24.40" text-anchor="middle" x="1768.93 1778.93 1793.33 1805.53" y="708.50">1.25</text>
<text font-size="24.40" text-anchor="middle" x="1898.41 1908.42 1922.81 1935.01" y="708.50">1.50</text>
<text font-size="24.40" text-anchor="middle" x="2027.90 2037.90 2052.30 2064.50" y="708.50">1.75</text>
<text font-size="24.40" text-anchor="middle" x="1120.70" y="634.00">0</text>
<text font-size="24.40" text-anchor="middle" x="1108.50 1120.70" y="532.25">20</text>
<text font-size="24.40" text-anchor="middle" x="1108.50 1120.70" y="430.50">40</text>
<text font-size="24.40" text-anchor="middle" x="1108.50 1120.70" y="328.75">60</text>
<text font-size="24.40" text-anchor="middle" x="1108.50 1120.70" y="227.00">80</text>
<text font-size="24.40" text-anchor="middle" x="1096.30 1108.50 1120.70" y="125.25">100</text>
<text font-size="24.40" text-anchor="middle" x="1096.30 1108.50 1120.70" y="23.50">120</text>
<g clip-path="url(#c2)">
<path d="M1141.7,648 L1142.9,639.7 L1144.1,632.6 L1145.3,627.4 L1146.5,625 L1147.5,624.4 L1148.5,623.9 L1149.5,623.6 L1150.5,623.5 L1166.9,623.5 L1183.3,623.5 L1199.8,623.5 L1216.2,623.5 L1232.6,623.5 L1249,623.5 L1265.4,623.5 L1281.8,623.5 L1298.2,623.5 L1314.7,623.5 L1331.1,623.5 L1347.5,623.5 L1348.6,621.4 L1349.8,616 L1350.9,608.4 L1352,600 L1353.4,585.3 L1354.8,564.8 L1356.3,541.8 L1357.7,519.5 L1358.8,503.3 L1359.9,486.7 L1361,470 L1362.3,450.1 L1363.7,430.3 L1365,409.9 L1366.3,388 L1367.6,360.1 L1368.9,327.9 L1370.3,300 L1371.6,285 L1372.6,281.2 L1373.5,278.5 L1374.5,277.5 L1376.1,277.5 L1377.8,277.7 L1379.4,277.8 L1381,278.1 L1382.7,278.4 L1384.3,278.7 L1386,279.1 L1387.6,279.6 L1389.2,280 L1390.9,280.5 L1392.5,281 L1393.8,281.5 L1395.2,282.1 L1396.5,282.8 L1397.9,283.7 L1399.2,284.6 L1400.6,285.5 L1402.1,286.7 L1403.6,288 L1405,289.5 L1406.5,291.1 L1408,292.7 L1409.5,294.2 L1411.2,295.9 L1413,297.7 L1414.7,299.4 L1416.4,301.2 L1418.1,303 L1419.9,304.7 L1421.6,306.5 L1423.3,308.3 L1425,310.1 L1426.8,312 L1428.5,313.8 L1430.1,315.6 L1431.8,317.3 L1433.4,319.1 L1435,321 L1436.7,322.8 L1438.3,324.6 L1440,326.4 L1441.6,328.2 L1443.2,330 L1444.9,331.8 L1446.5,333.5 L1448.2,335.3 L1450,336.9 L1451.7,338.6 L1453.5,340.2 L1455.2,341.8 L1456.9,343.4 L1458.7,345.1 L1460.4,346.9 L1462.2,348.7 L1463.9,350.7 L1465.1,352.1 L1466.2,353.6 L1467.4,355.2 L1468.6,357 L1469.8,359.5 L1471.1,362.4 L1472.3,365 L1473.9,367.6 L1475.4,370 L1477,372.1 L1478.6,374.1 L1480.1,376.1 L1481.7,378.1 L1483.3,380.2 L1484.8,382.5 L1486.4,385 L1488,387.9 L1489.6,390.9 L1491.3,394.1 L1492.9,397.5 L1494.5,401 L1496.1,404.6 L1497.7,408.4 L1499.4,412.3 L1501,416.4 L1502.6,420.5 L1504.3,425.2 L1506.1,430.3 L1507.8,435.6 L1509.5,441.2 L1511.3,447 L1513,452.8 L1514.7,458.6 L1516.5,464.4 L1518.2,470 L1519.9,475.4 L1521.6,480.9 L1523.3,486.4 L1524.9,491.9 L1526.6,497.4 L1528.3,502.8 L1530,508 L1531.5,512.5 L1533,517 L1534.4,521.3 L1535.9,525.4 L1537.4,529.3 L1538.9,532.9 L1540.3,536.5 L1541.8,540.1 L1543.3,544 L1544.9,548.6 L1546.5,553.7 L1548.1,558.9 L1549.6,564.1 L1551.2,569.1 L1552.8,573.5 L1554.4,577.2 L1556.1,580.6 L1557.8,583.9 L1559.6,586.9 L1561.3,589.8 L1563,592.5 L1564.7,595.1 L1566.4,597.4 L1568.1,599.6 L1569.9,601.7 L1571.6,603.6 L1573.3,605.3 L1575.2,607.1 L1577,608.8 L1578.9,610.5 L1580.7,612.1 L1582.6,613.6 L1584.4,615 L1586.3,616.3 L1588.2,617.5 L1590,618.6 L1591.9,619.6 L1593.7,620.4 L1595.6,621 L1597.7,621.6 L1599.8,622.2 L1601.9,622.8 L1604.1,623.4 L1606.2,623.9 L1608.3,624.4 L1610.4,624.8 L1612.5,625.1 L1614.7,625.4 L1616.8,625.6 L1618.9,625.8 L1621,625.8 L1623.4,625.8 L1625.8,625.8 L1628.2,625.8 L1630.7,625.8 L1633.1,625.8 L1635.5,625.8 L1637.9,625.8 L1640.3,625.8 L1642.8,625.8 L1645.2,625.8 L1647.6,625.8 L1650,625.8 L1659.2,625.8 L1668.3,625.8 L1677.5,625.8 L1686.7,625.8 L1695.8,625.8 L1705,625.8 L1714.2,625.8 L1723.3,625.8 L1732.5,625.8 L1741.7,625.8 L1750.8,625.8 L1760,625.8 L1761.7,625.7 L1763.3,625.5 L1765,625.2 L1766.7,624.8 L1768.3,624.5 L1770,624.1 L1771.7,623.8 L1773.3,623.6 L1775,623.5 L1794.2,623.5 L1813.4,623.5 L1832.6,623.5 L1851.8,623.5 L1871,623.5 L1890.2,623.5 L1909.3,623.5 L1928.5,623.5 L1947.7,623.5 L1966.9,623.5 L1986.1,623.5 L2005.3,623.5 L2006.8,624.9 L2008.2,628.5 L2009.7,633.7 L2011.1,639.6 L2012.5,645.7 L2014,651" fill="none" stroke="#5ac4d9" stroke-width="3.2" stroke-linejoin="round" stroke-linecap="butt"/>
<path d="M1133.7,641 L1149.7,641 L1141.7,655 z" fill="#fff" stroke="#5ac4d9" stroke-width="1.15"/>
<path d="M1238,616.5 L1254,616.5 L1246,630.5 z" fill="#fff" stroke="#5ac4d9" stroke-width="1.15"/>
<path d="M1284,616.5 L1300,616.5 L1292,630.5 z" fill="#fff" stroke="#5ac4d9" stroke-width="1.15"/>
<path d="M1358.3,381 L1374.3,381 L1366.3,395 z" fill="#fff" stroke="#5ac4d9" stroke-width="1.15"/>
<path d="M1367.5,271.4 L1383.5,271.4 L1375.5,285.4 z" fill="#fff" stroke="#5ac4d9" stroke-width="1.15"/>
<path d="M1384.5,275.6 L1400.5,275.6 L1392.5,289.6 z" fill="#fff" stroke="#5ac4d9" stroke-width="1.15"/>
<path d="M1392.6,280 L1408.6,280 L1400.6,294 z" fill="#fff" stroke="#5ac4d9" stroke-width="1.15"/>
<path d="M1401.5,288.7 L1417.5,288.7 L1409.5,302.7 z" fill="#fff" stroke="#5ac4d9" stroke-width="1.15"/>
<path d="M1420.5,308.3 L1436.5,308.3 L1428.5,322.3 z" fill="#fff" stroke="#5ac4d9" stroke-width="1.15"/>
<path d="M1438.5,328 L1454.5,328 L1446.5,342 z" fill="#fff" stroke="#5ac4d9" stroke-width="1.15"/>
<path d="M1455.9,345.2 L1471.9,345.2 L1463.9,359.2 z" fill="#fff" stroke="#5ac4d9" stroke-width="1.15"/>
<path d="M1460.6,351.4 L1476.6,351.4 L1468.6,365.4 z" fill="#fff" stroke="#5ac4d9" stroke-width="1.15"/>
<path d="M1464.3,359.5 L1480.3,359.5 L1472.3,373.5 z" fill="#fff" stroke="#5ac4d9" stroke-width="1.15"/>
<path d="M1478.4,379.5 L1494.4,379.5 L1486.4,393.5 z" fill="#fff" stroke="#5ac4d9" stroke-width="1.15"/>
<path d="M1494.6,415 L1510.6,415 L1502.6,429 z" fill="#fff" stroke="#5ac4d9" stroke-width="1.15"/>
<path d="M1510.2,464.5 L1526.2,464.5 L1518.2,478.5 z" fill="#fff" stroke="#5ac4d9" stroke-width="1.15"/>
<path d="M1522,502.5 L1538,502.5 L1530,516.5 z" fill="#fff" stroke="#5ac4d9" stroke-width="1.15"/>
<path d="M1527.9,519.9 L1543.9,519.9 L1535.9,533.9 z" fill="#fff" stroke="#5ac4d9" stroke-width="1.15"/>
<path d="M1535.3,538.4 L1551.3,538.4 L1543.3,552.4 z" fill="#fff" stroke="#5ac4d9" stroke-width="1.15"/>
<path d="M1546.4,571.7 L1562.4,571.7 L1554.4,585.7 z" fill="#fff" stroke="#5ac4d9" stroke-width="1.15"/>
<path d="M1565.3,599.8 L1581.3,599.8 L1573.3,613.8 z" fill="#fff" stroke="#5ac4d9" stroke-width="1.15"/>
<path d="M1587.6,615.5 L1603.6,615.5 L1595.6,629.5 z" fill="#fff" stroke="#5ac4d9" stroke-width="1.15"/>
<path d="M1613,621.2 L1629,621.2 L1621,635.2 z" fill="#fff" stroke="#5ac4d9" stroke-width="1.15"/>
<path d="M1656,620.5 L1672,620.5 L1664,634.5 z" fill="#fff" stroke="#5ac4d9" stroke-width="1.15"/>
<path d="M1701,620.5 L1717,620.5 L1709,634.5 z" fill="#fff" stroke="#5ac4d9" stroke-width="1.15"/>
<path d="M1742,620.5 L1758,620.5 L1750,634.5 z" fill="#fff" stroke="#5ac4d9" stroke-width="1.15"/>
<path d="M1863.2,618.8 L1879.2,618.8 L1871.2,632.8 z" fill="#fff" stroke="#5ac4d9" stroke-width="1.15"/>
<path d="M1916.9,618.8 L1932.9,618.8 L1924.9,632.8 z" fill="#fff" stroke="#5ac4d9" stroke-width="1.15"/>
<path d="M2006,644 L2022,644 L2014,658 z" fill="#fff" stroke="#5ac4d9" stroke-width="1.15"/>
<path d="M1141.7,647.6 L1142.9,639.4 L1144.1,632.5 L1145.3,627.4 L1146.5,625 L1147.5,624.4 L1148.5,623.9 L1149.5,623.6 L1150.5,623.5 L1166.9,623.5 L1183.2,623.5 L1199.6,623.5 L1216,623.5 L1232.4,623.5 L1248.8,623.5 L1265.1,623.5 L1281.5,623.5 L1297.9,623.5 L1314.2,623.5 L1330.6,623.5 L1347,623.5 L1348,621.4 L1349,616 L1350,608.4 L1351,600 L1352.2,585.3 L1353.5,564.7 L1354.8,541.6 L1356,519.5 L1357,503.6 L1358,487.5 L1359,470 L1360.5,440.8 L1362,409.3 L1363.5,375.4 L1365,339 L1366.5,300 L1367.8,254.7 L1369,205.4 L1370.3,180 L1371.5,176.5 L1372.8,174.3 L1374,173.5 L1376,173.6 L1378.1,173.9 L1380.1,174.3 L1382.1,174.9 L1384.2,175.6 L1386.2,176.4 L1388.2,177.4 L1390.3,178.3 L1392.3,179.3 L1394.3,180.4 L1396.4,181.5 L1398.4,182.5 L1400.8,183.8 L1403.2,185.4 L1405.7,187.1 L1408.1,189 L1410.5,191 L1413,193.2 L1415.4,195.4 L1417.8,197.7 L1420.2,200.1 L1422.7,202.4 L1425.1,204.8 L1427.5,207.2 L1429.2,208.9 L1430.9,210.6 L1432.6,212.4 L1434.3,214.2 L1436,216 L1437.7,217.9 L1439.4,219.9 L1441.1,221.8 L1442.8,223.8 L1444.5,225.8 L1446.2,227.9 L1448,230.1 L1449.8,232.3 L1451.5,234.5 L1453.3,236.7 L1455.1,239 L1456.8,241.4 L1458.6,243.8 L1460.4,246.2 L1462.2,248.7 L1464,251.3 L1465.7,254 L1467.5,256.7 L1469.1,259.3 L1470.8,262 L1472.4,264.7 L1474.1,267.5 L1475.7,270.4 L1477.4,273.3 L1479,276.4 L1480.7,279.6 L1482.3,282.9 L1484,286.4 L1485.6,290 L1487.2,293.7 L1488.9,297.6 L1490.5,301.7 L1492.1,306 L1493.8,310.5 L1495.4,315.1 L1497,320 L1498.6,325.1 L1500.3,330.4 L1501.9,335.9 L1503.5,341.8 L1505.2,348.2 L1506.8,355.1 L1508.4,362.3 L1510.1,369.8 L1511.7,377.5 L1513.3,385.3 L1514.9,393.1 L1516.6,400.8 L1518.2,408.3 L1519.9,416.1 L1521.6,424 L1523.3,432 L1524.9,440.1 L1526.6,448 L1528.3,455.8 L1530,463.3 L1531.5,469.9 L1533.1,476.4 L1534.6,482.7 L1536.2,488.9 L1537.7,495.2 L1539.2,501.4 L1540.8,507.6 L1542.3,514 L1543.9,521.1 L1545.6,528.6 L1547.2,536.2 L1548.8,543.7 L1550.4,550.7 L1552.1,557.1 L1553.7,562.4 L1555.5,567.5 L1557.3,572.4 L1559.1,576.9 L1560.9,581.2 L1562.7,585.3 L1564.5,589.1 L1566.3,592.6 L1568.1,595.9 L1569.9,599 L1571.7,601.8 L1573.5,604.3 L1575.2,606.5 L1576.8,608.6 L1578.5,610.6 L1580.2,612.4 L1581.9,614.2 L1583.5,615.9 L1585.2,617.5 L1586.9,619 L1588.6,620.4 L1590.2,621.7 L1591.9,622.9 L1593.6,624 L1595.3,625.1 L1597,626.1 L1598.8,627 L1600.5,627.9 L1602.2,628.8 L1603.9,629.5 L1605.7,630.3 L1607.4,630.9 L1609.1,631.5 L1610.6,632 L1612.2,632.5 L1613.7,633 L1615.2,633.5 L1616.7,633.9 L1618.3,634.1 L1619.8,634.2 L1622.4,634.2 L1624.9,634.2 L1627.5,634.2 L1630.1,634.1 L1632.6,634.1 L1635.2,634.1 L1637.8,634 L1640.3,634 L1642.9,633.9 L1645.5,633.9 L1648,633.8 L1650.6,633.8 L1654.5,633.7 L1658.4,633.7 L1662.4,633.6 L1666.3,633.5 L1670.2,633.4 L1674.2,633.3 L1678.1,633.2 L1682,633.1 L1685.9,633 L1689.8,632.9 L1693.8,632.9 L1697.7,632.8 L1701.3,632.8 L1704.8,632.7 L1708.4,632.7 L1712,632.6 L1715.5,632.6 L1719.1,632.6 L1722.7,632.5 L1726.2,632.5 L1729.8,632.5 L1733.4,632.4 L1736.9,632.4 L1740.5,632.3 L1742.2,632.3 L1743.9,632.2 L1745.6,632.2 L1747.3,632.2 L1749,632.1 L1750.7,632.1 L1752.3,632 L1754,632 L1755.7,631.9 L1757.4,631.8 L1759.1,631.7 L1760.8,631.6 L1762.2,631.4 L1763.5,631 L1764.9,630.4 L1766.3,629.8 L1767.6,629.2 L1769,628.5 L1770.4,627.7 L1771.8,626.6 L1773.2,625.5 L1774.7,624.5 L1776.1,623.8 L1777.5,623.5 L1796.5,623.5 L1815.5,623.5 L1834.5,623.5 L1853.4,623.5 L1872.4,623.5 L1891.4,623.5 L1910.4,623.5 L1929.4,623.5 L1948.3,623.5 L1967.3,623.5 L1986.3,623.5 L2005.3,623.5 L2006.8,625 L2008.2,628.8 L2009.7,634.4 L2011.1,640.7 L2012.5,647.1 L2014,652.8" fill="none" stroke="#ee1d23" stroke-width="3.3" stroke-linejoin="round" stroke-linecap="butt"/>
<path d="M1141.7,638.8 L1150.5,647.6 L1141.7,656.4 L1132.9,647.6 z" fill="#fff" stroke="#ee1d23" stroke-width="1.25"/>
<path d="M1148.3,614.7 L1157.1,623.5 L1148.3,632.3 L1139.5,623.5 z" fill="#fff" stroke="#ee1d23" stroke-width="1.25"/>
<path d="M1162,614.7 L1170.8,623.5 L1162,632.3 L1153.2,623.5 z" fill="#fff" stroke="#ee1d23" stroke-width="1.25"/>
<path d="M1188.1,614.7 L1196.9,623.5 L1188.1,632.3 L1179.3,623.5 z" fill="#fff" stroke="#ee1d23" stroke-width="1.25"/>
<path d="M1215.7,614.7 L1224.5,623.5 L1215.7,632.3 L1206.9,623.5 z" fill="#fff" stroke="#ee1d23" stroke-width="1.25"/>
<path d="M1231.6,614.7 L1240.4,623.5 L1231.6,632.3 L1222.8,623.5 z" fill="#fff" stroke="#ee1d23" stroke-width="1.25"/>
<path d="M1253.1,614.7 L1261.9,623.5 L1253.1,632.3 L1244.3,623.5 z" fill="#fff" stroke="#ee1d23" stroke-width="1.25"/>
<path d="M1271.5,614.7 L1280.3,623.5 L1271.5,632.3 L1262.7,623.5 z" fill="#fff" stroke="#ee1d23" stroke-width="1.25"/>
<path d="M1292.5,616.2 L1301.3,625 L1292.5,633.8 L1283.7,625 z" fill="#fff" stroke="#ee1d23" stroke-width="1.25"/>
<path d="M1299,617.2 L1307.8,626 L1299,634.8 L1290.2,626 z" fill="#fff" stroke="#ee1d23" stroke-width="1.25"/>
<path d="M1314.3,614.7 L1323.1,623.5 L1314.3,632.3 L1305.5,623.5 z" fill="#fff" stroke="#ee1d23" stroke-width="1.25"/>
<path d="M1325.9,614.7 L1334.7,623.5 L1325.9,632.3 L1317.1,623.5 z" fill="#fff" stroke="#ee1d23" stroke-width="1.25"/>
<path d="M1331,614.7 L1339.8,623.5 L1331,632.3 L1322.2,623.5 z" fill="#fff" stroke="#ee1d23" stroke-width="1.25"/>
<path d="M1352,614.7 L1360.8,623.5 L1352,632.3 L1343.2,623.5 z" fill="#fff" stroke="#ee1d23" stroke-width="1.25"/>
<path d="M1368.8,164.4 L1377.6,173.2 L1368.8,182 L1360,173.2 z" fill="#fff" stroke="#ee1d23" stroke-width="1.25"/>
<path d="M1374,164.7 L1382.8,173.5 L1374,182.3 L1365.2,173.5 z" fill="#fff" stroke="#ee1d23" stroke-width="1.25"/>
<path d="M1398.4,173.7 L1407.2,182.5 L1398.4,191.3 L1389.6,182.5 z" fill="#fff" stroke="#ee1d23" stroke-width="1.25"/>
<path d="M1427.5,198.4 L1436.3,207.2 L1427.5,216 L1418.7,207.2 z" fill="#fff" stroke="#ee1d23" stroke-width="1.25"/>
<path d="M1446.2,219.1 L1455,227.9 L1446.2,236.7 L1437.4,227.9 z" fill="#fff" stroke="#ee1d23" stroke-width="1.25"/>
<path d="M1467.5,247.9 L1476.3,256.7 L1467.5,265.5 L1458.7,256.7 z" fill="#fff" stroke="#ee1d23" stroke-width="1.25"/>
<path d="M1485.6,281.2 L1494.4,290 L1485.6,298.8 L1476.8,290 z" fill="#fff" stroke="#ee1d23" stroke-width="1.25"/>
<path d="M1501.9,327.1 L1510.7,335.9 L1501.9,344.7 L1493.1,335.9 z" fill="#fff" stroke="#ee1d23" stroke-width="1.25"/>
<path d="M1518.2,399.5 L1527,408.3 L1518.2,417.1 L1509.4,408.3 z" fill="#fff" stroke="#ee1d23" stroke-width="1.25"/>
<path d="M1530,454.5 L1538.8,463.3 L1530,472.1 L1521.2,463.3 z" fill="#fff" stroke="#ee1d23" stroke-width="1.25"/>
<path d="M1542.3,505.2 L1551.1,514 L1542.3,522.8 L1533.5,514 z" fill="#fff" stroke="#ee1d23" stroke-width="1.25"/>
<path d="M1553.7,553.6 L1562.5,562.4 L1553.7,571.2 L1544.9,562.4 z" fill="#fff" stroke="#ee1d23" stroke-width="1.25"/>
<path d="M1573.5,595.5 L1582.3,604.3 L1573.5,613.1 L1564.7,604.3 z" fill="#fff" stroke="#ee1d23" stroke-width="1.25"/>
<path d="M1609.1,622.7 L1617.9,631.5 L1609.1,640.3 L1600.3,631.5 z" fill="#fff" stroke="#ee1d23" stroke-width="1.25"/>
<path d="M1619.8,625.9 L1628.6,634.7 L1619.8,643.5 L1611,634.7 z" fill="#fff" stroke="#ee1d23" stroke-width="1.25"/>
<path d="M1650.6,625 L1659.4,633.8 L1650.6,642.6 L1641.8,633.8 z" fill="#fff" stroke="#ee1d23" stroke-width="1.25"/>
<path d="M1664.1,624.2 L1672.9,633 L1664.1,641.8 L1655.3,633 z" fill="#fff" stroke="#ee1d23" stroke-width="1.25"/>
<path d="M1683.2,623.5 L1692,632.3 L1683.2,641.1 L1674.4,632.3 z" fill="#fff" stroke="#ee1d23" stroke-width="1.25"/>
<path d="M1697.7,623.5 L1706.5,632.3 L1697.7,641.1 L1688.9,632.3 z" fill="#fff" stroke="#ee1d23" stroke-width="1.25"/>
<path d="M1718,622.8 L1726.8,631.6 L1718,640.4 L1709.2,631.6 z" fill="#fff" stroke="#ee1d23" stroke-width="1.25"/>
<path d="M1740.5,622.1 L1749.3,630.9 L1740.5,639.7 L1731.7,630.9 z" fill="#fff" stroke="#ee1d23" stroke-width="1.25"/>
<path d="M1760.8,622.8 L1769.6,631.6 L1760.8,640.4 L1752,631.6 z" fill="#fff" stroke="#ee1d23" stroke-width="1.25"/>
<path d="M1777.5,614.7 L1786.3,623.5 L1777.5,632.3 L1768.7,623.5 z" fill="#fff" stroke="#ee1d23" stroke-width="1.25"/>
<path d="M1816.8,614.7 L1825.6,623.5 L1816.8,632.3 L1808,623.5 z" fill="#fff" stroke="#ee1d23" stroke-width="1.25"/>
<path d="M1845.8,614.7 L1854.6,623.5 L1845.8,632.3 L1837,623.5 z" fill="#fff" stroke="#ee1d23" stroke-width="1.25"/>
<path d="M1895.1,614.7 L1903.9,623.5 L1895.1,632.3 L1886.3,623.5 z" fill="#fff" stroke="#ee1d23" stroke-width="1.25"/>
<path d="M1908.2,614.7 L1917,623.5 L1908.2,632.3 L1899.4,623.5 z" fill="#fff" stroke="#ee1d23" stroke-width="1.25"/>
<path d="M1929.9,614.7 L1938.7,623.5 L1929.9,632.3 L1921.1,623.5 z" fill="#fff" stroke="#ee1d23" stroke-width="1.25"/>
<path d="M1944.4,614.7 L1953.2,623.5 L1944.4,632.3 L1935.6,623.5 z" fill="#fff" stroke="#ee1d23" stroke-width="1.25"/>
<path d="M1956,614.7 L1964.8,623.5 L1956,632.3 L1947.2,623.5 z" fill="#fff" stroke="#ee1d23" stroke-width="1.25"/>
<path d="M1966.2,614.7 L1975,623.5 L1966.2,632.3 L1957.4,623.5 z" fill="#fff" stroke="#ee1d23" stroke-width="1.25"/>
<path d="M1969.5,614.7 L1978.3,623.5 L1969.5,632.3 L1960.7,623.5 z" fill="#fff" stroke="#ee1d23" stroke-width="1.25"/>
<path d="M1977.8,614.7 L1986.6,623.5 L1977.8,632.3 L1969,623.5 z" fill="#fff" stroke="#ee1d23" stroke-width="1.25"/>
<path d="M1987.9,614.7 L1996.7,623.5 L1987.9,632.3 L1979.1,623.5 z" fill="#fff" stroke="#ee1d23" stroke-width="1.25"/>
<path d="M1996.6,614.7 L2005.4,623.5 L1996.6,632.3 L1987.8,623.5 z" fill="#fff" stroke="#ee1d23" stroke-width="1.25"/>
<path d="M2005.3,614.7 L2014.1,623.5 L2005.3,632.3 L1996.5,623.5 z" fill="#fff" stroke="#ee1d23" stroke-width="1.25"/>
<path d="M2014,644 L2022.8,652.8 L2014,661.6 L2005.2,652.8 z" fill="#fff" stroke="#ee1d23" stroke-width="1.25"/>
<path d="M1141.7,636.7 L1142.8,632.4 L1143.8,628.6 L1144.9,625.8 L1146,624.5 L1147,624.1 L1148,623.8 L1149,623.6 L1150,623.5 L1160.8,623.5 L1171.7,623.5 L1182.5,623.5 L1193.4,623.5 L1204.2,623.5 L1215.1,623.5 L1226,623.5 L1236.8,623.5 L1247.7,623.5 L1258.5,623.5 L1269.4,623.5 L1280.2,623.5 L1281.6,623.6 L1282.9,623.8 L1284.3,624.1 L1285.6,624.5 L1287,625 L1288.3,625.9 L1289.7,627.3 L1291,629 L1292.3,630.6 L1293.7,631.8 L1295,632.3 L1296.3,631.8 L1297.7,630.6 L1299,629 L1300.3,627.3 L1301.7,625.9 L1303,625 L1304.4,624.5 L1305.8,624.1 L1307.2,623.8 L1308.6,623.6 L1310,623.5 L1313,623.5 L1315.9,623.5 L1318.9,623.5 L1321.8,623.5 L1324.8,623.5 L1327.8,623.5 L1330.7,623.5 L1333.7,623.5 L1336.6,623.5 L1339.6,623.5 L1342.5,623.5 L1345.5,623.5 L1346.5,621.4 L1347.5,615.9 L1348.5,608.3 L1349.5,600 L1350.8,585.3 L1352.2,565 L1353.5,542.1 L1354.8,519.5 L1355.8,503.8 L1356.7,487.6 L1357.7,470 L1359.1,442.2 L1360.4,411.7 L1361.8,379.5 L1363.2,346.2 L1364.5,312.8 L1365.9,280 L1367.2,243.6 L1368.5,201.9 L1369.9,162.5 L1371.2,133.3 L1372.5,121.8 L1374.2,121.9 L1376,122.1 L1377.7,122.5 L1379.4,122.9 L1381.2,123.4 L1382.9,124 L1384.6,124.6 L1386.3,125.1 L1388.1,125.6 L1389.8,126.1 L1391.6,126.5 L1393.3,126.9 L1395.1,127.2 L1396.8,127.6 L1398.6,127.9 L1400.3,128.3 L1402.1,128.6 L1403.8,129.1 L1405.6,129.5 L1407.3,130.1 L1409.1,130.7 L1410.8,131.5 L1412.6,132.6 L1414.3,133.9 L1416,135.4 L1417.7,137.1 L1419.5,138.9 L1421.2,140.8 L1422.9,142.7 L1424.6,144.6 L1426.4,146.5 L1428.1,148.3 L1431,151.2 L1433.9,154.1 L1436.8,157 L1439.7,159.9 L1442.6,162.8 L1445.5,165.9 L1448.5,169.1 L1451.4,172.6 L1454.3,176.2 L1457.2,180.2 L1460.1,184.5 L1463,189.1 L1464.4,191.7 L1465.8,194.6 L1467.2,197.9 L1468.5,201.4 L1469.9,204.9 L1471.3,208.3 L1473.9,214.4 L1476.4,220.3 L1479,226.1 L1481.6,231.9 L1484.1,237.8 L1486.7,243.9 L1489.3,250.2 L1491.8,256.8 L1494.4,263.8 L1497,271.2 L1499.5,279.3 L1502.1,288 L1503.8,294.4 L1505.5,301.5 L1507.1,309.4 L1508.8,317.8 L1510.5,326.6 L1512.2,335.7 L1513.9,344.9 L1515.5,354.2 L1517.2,363.4 L1518.9,372.4 L1520.6,381.5 L1522.3,390.8 L1524,400.3 L1525.7,410 L1527.4,419.6 L1529.1,429.3 L1530.8,438.8 L1532.5,448.1 L1534.2,457.2 L1535.9,466 L1537.6,474.5 L1539.3,483.2 L1540.9,491.8 L1542.6,500.3 L1544.3,508.7 L1546,516.9 L1547.7,524.8 L1549.4,532.3 L1551,539.4 L1552.7,546 L1554.4,552.1 L1556.1,557.9 L1557.8,563.4 L1559.5,568.8 L1561.2,573.9 L1562.9,578.8 L1564.7,583.5 L1566.4,587.9 L1568.1,592.1 L1569.8,595.9 L1571.5,599.5 L1573.2,602.8 L1574.9,605.9 L1576.6,609 L1578.3,612 L1580,614.9 L1581.7,617.6 L1583.4,620.3 L1585.1,622.7 L1586.8,624.9 L1588.5,626.8 L1590.2,628.4 L1591.9,629.7 L1593.6,630.7 L1595.8,631.7 L1598,632.6 L1600.1,633.4 L1602.3,634.2 L1604.5,634.9 L1606.7,635.6 L1608.9,636.1 L1611.1,636.6 L1613.2,637 L1615.4,637.3 L1617.6,637.4 L1619.8,637.5 L1622.4,637.5 L1624.9,637.5 L1627.5,637.5 L1630.1,637.5 L1632.6,637.5 L1635.2,637.5 L1637.8,637.5 L1640.3,637.5 L1642.9,637.4 L1645.5,637.4 L1648,637.4 L1650.6,637.4 L1652.8,637.4 L1654.9,637.4 L1657.1,637.3 L1659.3,637.3 L1661.5,637.3 L1663.7,637.2 L1665.8,637.2 L1668,637.2 L1670.2,637.1 L1672.3,637.1 L1674.5,637 L1676.7,637 L1678.5,637 L1680.2,636.9 L1682,636.9 L1683.7,636.8 L1685.5,636.8 L1687.2,636.7 L1689,636.7 L1690.7,636.6 L1692.5,636.5 L1694.2,636.5 L1696,636.4 L1697.7,636.4 L1699.4,636.4 L1701.1,636.3 L1702.8,636.3 L1704.5,636.3 L1706.2,636.2 L1707.8,636.2 L1709.5,636.2 L1711.2,636.1 L1712.9,636.1 L1714.6,636.1 L1716.3,636 L1718,636 L1719.9,636 L1721.8,635.9 L1723.6,635.9 L1725.5,635.9 L1727.4,635.8 L1729.2,635.8 L1731.1,635.7 L1733,635.7 L1734.9,635.7 L1736.8,635.6 L1738.6,635.6 L1740.5,635.5 L1742.2,635.4 L1744,635.4 L1745.8,635.3 L1747.5,635.2 L1749.2,635.2 L1751,635.1 L1752.8,635 L1754.5,634.8 L1756.2,634.7 L1758,634.5 L1759.5,634.2 L1761.1,633.8 L1762.7,633.2 L1764.2,632.5 L1765.8,631.7 L1767.3,630.9 L1768.6,629.9 L1770,628.5 L1771.3,627.1 L1772.7,625.8 L1774,625 L1775.4,624.5 L1776.8,624.1 L1778.2,623.8 L1779.6,623.6 L1781,623.5 L1799.7,623.5 L1818.4,623.5 L1837.1,623.5 L1855.8,623.5 L1874.5,623.5 L1893.2,623.5 L1911.8,623.5 L1930.5,623.5 L1949.2,623.5 L1967.9,623.5 L1986.6,623.5 L2005.3,623.5 L2006.8,624.4 L2008.2,626.8 L2009.7,630.2 L2011.1,634.1 L2012.5,638 L2014,641.5" fill="none" stroke="#3150a6" stroke-width="3.5" stroke-linejoin="round" stroke-linecap="butt"/>
<circle cx="1141.7" cy="636.7" r="6.6" fill="none" stroke="#3150a6" stroke-width="1.4"/>
<path d="M1135.1,636.7 h13.2 M1141.7,630.1 v13.2" stroke="#3150a6" stroke-width="1.4" fill="none"/>
<circle cx="1149" cy="623.5" r="6.6" fill="none" stroke="#3150a6" stroke-width="1.4"/>
<path d="M1142.4,623.5 h13.2 M1149,616.9 v13.2" stroke="#3150a6" stroke-width="1.4" fill="none"/>
<circle cx="1157" cy="623.5" r="6.6" fill="none" stroke="#3150a6" stroke-width="1.4"/>
<path d="M1150.4,623.5 h13.2 M1157,616.9 v13.2" stroke="#3150a6" stroke-width="1.4" fill="none"/>
<circle cx="1176.5" cy="623.5" r="6.6" fill="none" stroke="#3150a6" stroke-width="1.4"/>
<path d="M1169.9,623.5 h13.2 M1176.5,616.9 v13.2" stroke="#3150a6" stroke-width="1.4" fill="none"/>
<circle cx="1195.1" cy="623.5" r="6.6" fill="none" stroke="#3150a6" stroke-width="1.4"/>
<path d="M1188.5,623.5 h13.2 M1195.1,616.9 v13.2" stroke="#3150a6" stroke-width="1.4" fill="none"/>
<circle cx="1231.6" cy="623.5" r="6.6" fill="none" stroke="#3150a6" stroke-width="1.4"/>
<path d="M1225,623.5 h13.2 M1231.6,616.9 v13.2" stroke="#3150a6" stroke-width="1.4" fill="none"/>
<circle cx="1253.1" cy="623.5" r="6.6" fill="none" stroke="#3150a6" stroke-width="1.4"/>
<path d="M1246.5,623.5 h13.2 M1253.1,616.9 v13.2" stroke="#3150a6" stroke-width="1.4" fill="none"/>
<circle cx="1280.2" cy="623.5" r="6.6" fill="none" stroke="#3150a6" stroke-width="1.4"/>
<path d="M1273.6,623.5 h13.2 M1280.2,616.9 v13.2" stroke="#3150a6" stroke-width="1.4" fill="none"/>
<circle cx="1295" cy="632.3" r="6.6" fill="none" stroke="#3150a6" stroke-width="1.4"/>
<path d="M1288.4,632.3 h13.2 M1295,625.7 v13.2" stroke="#3150a6" stroke-width="1.4" fill="none"/>
<circle cx="1314.3" cy="623.5" r="6.6" fill="none" stroke="#3150a6" stroke-width="1.4"/>
<path d="M1307.7,623.5 h13.2 M1314.3,616.9 v13.2" stroke="#3150a6" stroke-width="1.4" fill="none"/>
<circle cx="1327.3" cy="623.5" r="6.6" fill="none" stroke="#3150a6" stroke-width="1.4"/>
<path d="M1320.7,623.5 h13.2 M1327.3,616.9 v13.2" stroke="#3150a6" stroke-width="1.4" fill="none"/>
<circle cx="1340.5" cy="623.5" r="6.6" fill="none" stroke="#3150a6" stroke-width="1.4"/>
<path d="M1333.9,623.5 h13.2 M1340.5,616.9 v13.2" stroke="#3150a6" stroke-width="1.4" fill="none"/>
<circle cx="1372.5" cy="121.8" r="6.6" fill="none" stroke="#3150a6" stroke-width="1.4"/>
<path d="M1365.9,121.8 h13.2 M1372.5,115.2 v13.2" stroke="#3150a6" stroke-width="1.4" fill="none"/>
<circle cx="1389.8" cy="126.1" r="6.6" fill="none" stroke="#3150a6" stroke-width="1.4"/>
<path d="M1383.2,126.1 h13.2 M1389.8,119.5 v13.2" stroke="#3150a6" stroke-width="1.4" fill="none"/>
<circle cx="1409.1" cy="130.7" r="6.6" fill="none" stroke="#3150a6" stroke-width="1.4"/>
<path d="M1402.5,130.7 h13.2 M1409.1,124.1 v13.2" stroke="#3150a6" stroke-width="1.4" fill="none"/>
<circle cx="1428.1" cy="148.3" r="6.6" fill="none" stroke="#3150a6" stroke-width="1.4"/>
<path d="M1421.5,148.3 h13.2 M1428.1,141.7 v13.2" stroke="#3150a6" stroke-width="1.4" fill="none"/>
<circle cx="1463" cy="189.1" r="6.6" fill="none" stroke="#3150a6" stroke-width="1.4"/>
<path d="M1456.4,189.1 h13.2 M1463,182.5 v13.2" stroke="#3150a6" stroke-width="1.4" fill="none"/>
<circle cx="1471.3" cy="208.3" r="6.6" fill="none" stroke="#3150a6" stroke-width="1.4"/>
<path d="M1464.7,208.3 h13.2 M1471.3,201.7 v13.2" stroke="#3150a6" stroke-width="1.4" fill="none"/>
<circle cx="1502.1" cy="288" r="6.6" fill="none" stroke="#3150a6" stroke-width="1.4"/>
<path d="M1495.5,288 h13.2 M1502.1,281.4 v13.2" stroke="#3150a6" stroke-width="1.4" fill="none"/>
<circle cx="1518.9" cy="372.4" r="6.6" fill="none" stroke="#3150a6" stroke-width="1.4"/>
<path d="M1512.3,372.4 h13.2 M1518.9,365.8 v13.2" stroke="#3150a6" stroke-width="1.4" fill="none"/>
<circle cx="1535.9" cy="466" r="6.6" fill="none" stroke="#3150a6" stroke-width="1.4"/>
<path d="M1529.3,466 h13.2 M1535.9,459.4 v13.2" stroke="#3150a6" stroke-width="1.4" fill="none"/>
<circle cx="1554.4" cy="552.1" r="6.6" fill="none" stroke="#3150a6" stroke-width="1.4"/>
<path d="M1547.8,552.1 h13.2 M1554.4,545.5 v13.2" stroke="#3150a6" stroke-width="1.4" fill="none"/>
<circle cx="1573.2" cy="602.8" r="6.6" fill="none" stroke="#3150a6" stroke-width="1.4"/>
<path d="M1566.6,602.8 h13.2 M1573.2,596.2 v13.2" stroke="#3150a6" stroke-width="1.4" fill="none"/>
<circle cx="1593.6" cy="630.7" r="6.6" fill="none" stroke="#3150a6" stroke-width="1.4"/>
<path d="M1587,630.7 h13.2 M1593.6,624.1 v13.2" stroke="#3150a6" stroke-width="1.4" fill="none"/>
<circle cx="1619.8" cy="637.5" r="6.6" fill="none" stroke="#3150a6" stroke-width="1.4"/>
<path d="M1613.2,637.5 h13.2 M1619.8,630.9 v13.2" stroke="#3150a6" stroke-width="1.4" fill="none"/>
<circle cx="1650.6" cy="637.4" r="6.6" fill="none" stroke="#3150a6" stroke-width="1.4"/>
<path d="M1644,637.4 h13.2 M1650.6,630.8 v13.2" stroke="#3150a6" stroke-width="1.4" fill="none"/>
<circle cx="1676.7" cy="637" r="6.6" fill="none" stroke="#3150a6" stroke-width="1.4"/>
<path d="M1670.1,637 h13.2 M1676.7,630.4 v13.2" stroke="#3150a6" stroke-width="1.4" fill="none"/>
<circle cx="1697.7" cy="636.4" r="6.6" fill="none" stroke="#3150a6" stroke-width="1.4"/>
<path d="M1691.1,636.4 h13.2 M1697.7,629.8 v13.2" stroke="#3150a6" stroke-width="1.4" fill="none"/>
<circle cx="1718" cy="636" r="6.6" fill="none" stroke="#3150a6" stroke-width="1.4"/>
<path d="M1711.4,636 h13.2 M1718,629.4 v13.2" stroke="#3150a6" stroke-width="1.4" fill="none"/>
<circle cx="1740.5" cy="635.5" r="6.6" fill="none" stroke="#3150a6" stroke-width="1.4"/>
<path d="M1733.9,635.5 h13.2 M1740.5,628.9 v13.2" stroke="#3150a6" stroke-width="1.4" fill="none"/>
<circle cx="1767.3" cy="630.9" r="6.6" fill="none" stroke="#3150a6" stroke-width="1.4"/>
<path d="M1760.7,630.9 h13.2 M1767.3,624.3 v13.2" stroke="#3150a6" stroke-width="1.4" fill="none"/>
<circle cx="1816.8" cy="623.5" r="6.6" fill="none" stroke="#3150a6" stroke-width="1.4"/>
<path d="M1810.2,623.5 h13.2 M1816.8,616.9 v13.2" stroke="#3150a6" stroke-width="1.4" fill="none"/>
<circle cx="1845.8" cy="623.5" r="6.6" fill="none" stroke="#3150a6" stroke-width="1.4"/>
<path d="M1839.2,623.5 h13.2 M1845.8,616.9 v13.2" stroke="#3150a6" stroke-width="1.4" fill="none"/>
<circle cx="1900.2" cy="623.5" r="6.6" fill="none" stroke="#3150a6" stroke-width="1.4"/>
<path d="M1893.6,623.5 h13.2 M1900.2,616.9 v13.2" stroke="#3150a6" stroke-width="1.4" fill="none"/>
<circle cx="1929.9" cy="623.5" r="6.6" fill="none" stroke="#3150a6" stroke-width="1.4"/>
<path d="M1923.3,623.5 h13.2 M1929.9,616.9 v13.2" stroke="#3150a6" stroke-width="1.4" fill="none"/>
<circle cx="1944.4" cy="623.5" r="6.6" fill="none" stroke="#3150a6" stroke-width="1.4"/>
<path d="M1937.8,623.5 h13.2 M1944.4,616.9 v13.2" stroke="#3150a6" stroke-width="1.4" fill="none"/>
<circle cx="1956" cy="623.5" r="6.6" fill="none" stroke="#3150a6" stroke-width="1.4"/>
<path d="M1949.4,623.5 h13.2 M1956,616.9 v13.2" stroke="#3150a6" stroke-width="1.4" fill="none"/>
<circle cx="1966.2" cy="623.5" r="6.6" fill="none" stroke="#3150a6" stroke-width="1.4"/>
<path d="M1959.6,623.5 h13.2 M1966.2,616.9 v13.2" stroke="#3150a6" stroke-width="1.4" fill="none"/>
<circle cx="1977.8" cy="623.5" r="6.6" fill="none" stroke="#3150a6" stroke-width="1.4"/>
<path d="M1971.2,623.5 h13.2 M1977.8,616.9 v13.2" stroke="#3150a6" stroke-width="1.4" fill="none"/>
<circle cx="1987.9" cy="623.5" r="6.6" fill="none" stroke="#3150a6" stroke-width="1.4"/>
<path d="M1981.3,623.5 h13.2 M1987.9,616.9 v13.2" stroke="#3150a6" stroke-width="1.4" fill="none"/>
<circle cx="1996.6" cy="623.5" r="6.6" fill="none" stroke="#3150a6" stroke-width="1.4"/>
<path d="M1990,623.5 h13.2 M1996.6,616.9 v13.2" stroke="#3150a6" stroke-width="1.4" fill="none"/>
<circle cx="2005.3" cy="623.5" r="6.6" fill="none" stroke="#3150a6" stroke-width="1.4"/>
<path d="M1998.7,623.5 h13.2 M2005.3,616.9 v13.2" stroke="#3150a6" stroke-width="1.4" fill="none"/>
</g>
<text font-size="29.80" text-anchor="middle" y="748.60"><tspan x="1563.35" text-anchor="start" textLength="54.24" lengthAdjust="spacingAndGlyphs">Y(m)</tspan></text>
<text transform="translate(1080.80,448.30) rotate(-90)" font-size="29.80" text-anchor="middle" x="7.45 22.35 37.25 52.15 67.05 81.95 96.85 111.75 126.65 141.55 156.45 171.35 186.25 201.15" y="0">Radiative_Qdot</text>
<rect x="1668.4" y="49.3" width="319.2" height="113.9" fill="#fff" stroke="none"/>
<rect x="1668.4" y="49.3" width="319.2" height="113.9" fill="none" stroke="#666" stroke-width="1.5"/>
<path d="M1673.9,70.4 H1739.1" stroke="#3150a6" stroke-width="3.4"/>
<circle cx="1706" cy="70.4" r="6.6" fill="none" stroke="#3150a6" stroke-width="1.4"/>
<path d="M1699.4,70.4 h13.2 M1706,63.8 v13.2" stroke="#3150a6" stroke-width="1.4" fill="none"/>
<text font-size="32.60" text-anchor="middle" y="83.30"><tspan x="1754.79" text-anchor="start" textLength="63.24" lengthAdjust="spacingAndGlyphs">Case</tspan><tspan x="1827.65 1843.95 1857.32"> 1,</tspan><tspan x="1868.73" text-anchor="start" textLength="47.43" lengthAdjust="spacingAndGlyphs">SR=</tspan><tspan x="1925.45 1938.82 1958.05 1974.35">0.10</tspan></text>
<path d="M1673.9,106.2 H1739.1" stroke="#ee1d23" stroke-width="3.3"/>
<path d="M1706,97.4 L1714.8,106.2 L1706,115 L1697.2,106.2 z" fill="#fff" stroke="#ee1d23" stroke-width="1.25"/>
<text font-size="32.60" text-anchor="middle" y="119.10"><tspan x="1754.79" text-anchor="start" textLength="63.24" lengthAdjust="spacingAndGlyphs">Case</tspan><tspan x="1827.65 1843.95 1857.32"> 2,</tspan><tspan x="1868.73" text-anchor="start" textLength="47.43" lengthAdjust="spacingAndGlyphs">SR=</tspan><tspan x="1925.45 1938.82 1958.05 1974.35">0.28</tspan></text>
<path d="M1673.9,142 H1739.1" stroke="#5ac4d9" stroke-width="3.2"/>
<path d="M1698,137.3 L1714,137.3 L1706,151.3 z" fill="#fff" stroke="#5ac4d9" stroke-width="1.15"/>
<text font-size="32.60" text-anchor="middle" y="154.90"><tspan x="1754.79" text-anchor="start" textLength="63.24" lengthAdjust="spacingAndGlyphs">Case</tspan><tspan x="1827.65 1843.95 1857.32"> 3,</tspan><tspan x="1868.73" text-anchor="start" textLength="47.43" lengthAdjust="spacingAndGlyphs">SR=</tspan><tspan x="1925.45 1938.82 1958.05 1974.35">0.55</tspan></text>
<path d="M117.4,1511.1 v-11.5 M117.4,851.2 v11.5 M180.1,1511.1 v-6 M180.1,851.2 v6 M242.9,1511.1 v-11.5 M242.9,851.2 v11.5 M305.6,1511.1 v-6 M305.6,851.2 v6 M368.3,1511.1 v-11.5 M368.3,851.2 v11.5 M431,1511.1 v-6 M431,851.2 v6 M493.8,1511.1 v-11.5 M493.8,851.2 v11.5 M556.5,1511.1 v-6 M556.5,851.2 v6 M619.2,1511.1 v-11.5 M619.2,851.2 v11.5 M682,1511.1 v-6 M682,851.2 v6 M744.7,1511.1 v-11.5 M744.7,851.2 v11.5 M807.4,1511.1 v-6 M807.4,851.2 v6 M870.1,1511.1 v-11.5 M870.1,851.2 v11.5 M932.9,1511.1 v-6 M932.9,851.2 v6 M995.6,1511.1 v-11.5 M995.6,851.2 v11.5 M117.4,851.2 h11.5 M995.6,851.2 h-11.5 M117.4,917.2 h6 M995.6,917.2 h-6 M117.4,983.2 h11.5 M995.6,983.2 h-11.5 M117.4,1049.2 h6 M995.6,1049.2 h-6 M117.4,1115.2 h11.5 M995.6,1115.2 h-11.5 M117.4,1181.2 h6 M995.6,1181.2 h-6 M117.4,1247.1 h11.5 M995.6,1247.1 h-11.5 M117.4,1313.1 h6 M995.6,1313.1 h-6 M117.4,1379.1 h11.5 M995.6,1379.1 h-11.5 M117.4,1445.1 h6 M995.6,1445.1 h-6 M117.4,1511.1 h11.5 M995.6,1511.1 h-11.5" stroke="#111" stroke-width="2.5" fill="none"/>
<rect x="117.4" y="851.2" width="878.2" height="659.9" fill="none" stroke="#111" stroke-width="2.5"/>
<text font-size="26.60" text-anchor="middle" x="97.45 108.36 124.05 137.35" y="1548.60">0.00</text>
<text font-size="26.60" text-anchor="middle" x="222.91 233.81 249.51 262.81" y="1548.60">0.25</text>
<text font-size="26.60" text-anchor="middle" x="348.36 359.27 374.96 388.26" y="1548.60">0.50</text>
<text font-size="26.60" text-anchor="middle" x="473.82 484.73 500.42 513.72" y="1548.60">0.75</text>
<text font-size="26.60" text-anchor="middle" x="599.28 610.18 625.88 639.18" y="1548.60">1.00</text>
<text font-size="26.60" text-anchor="middle" x="724.74 735.64 751.34 764.64" y="1548.60">1.25</text>
<text font-size="26.60" text-anchor="middle" x="850.19 861.10 876.79 890.09" y="1548.60">1.50</text>
<text font-size="26.60" text-anchor="middle" x="975.65 986.56 1002.25 1015.55" y="1548.60">1.75</text>
<text font-size="26.60" text-anchor="middle" x="56.05 66.96 82.65 95.95" y="862.00">0.04</text>
<text font-size="26.60" text-anchor="middle" x="56.05 66.96 82.65 95.95" y="993.98">0.03</text>
<text font-size="26.60" text-anchor="middle" x="56.05 66.96 82.65 95.95" y="1125.96">0.02</text>
<text font-size="26.60" text-anchor="middle" x="56.05 66.96 82.65 95.95" y="1257.94">0.01</text>
<text font-size="26.60" text-anchor="middle" x="56.05 66.96 82.65 95.95" y="1389.92">0.00</text>
<text font-size="26.60" text-anchor="middle" x="42.75 56.05 66.96 82.65 95.95" y="1521.90">−0.01</text>
<g clip-path="url(#c3)">
<path d="M119,1520 L120.2,1466 L121.3,1423.2 L122.5,1400 L123.7,1390.7 L124.8,1384.4 L126,1381.5 L127.2,1380.5 L128.5,1379.8 L129.8,1379.4 L131,1379.2 L141.2,1379.2 L151.5,1379.2 L161.8,1379.2 L172,1379.2 L182.2,1379.2 L192.5,1379.2 L202.8,1379.2 L213,1379.2 L223.2,1379.2 L233.5,1379.2 L243.8,1379.2 L254,1379.2 L255.2,1380.4 L256.5,1383.5 L257.8,1387.7 L259,1392 L260.3,1398 L261.7,1406.3 L263,1415.3 L264.3,1423.6 L265.7,1429.6 L267,1432 L268.2,1430.5 L269.5,1426.8 L270.8,1422 L272,1417 L273.4,1410.1 L274.8,1401 L276.2,1391.8 L277.6,1384.5 L279,1381 L280.2,1380.3 L281.5,1379.7 L282.8,1379.3 L284,1379.2 L286.8,1379.2 L289.7,1379.2 L292.5,1379.2 L295.3,1379.2 L298.2,1379.2 L301,1379.2 L303.8,1379.2 L306.7,1379.2 L309.5,1379.2 L312.3,1379.2 L315.2,1379.2 L318,1379.2 L319.2,1371.7 L320.3,1355.5 L321.5,1340 L322.6,1330 L323.6,1320.8 L324.6,1311.3 L325.7,1300 L327.2,1279.3 L328.7,1254.6 L330.3,1227.1 L331.8,1198.3 L333.3,1169.5 L334.7,1140.3 L336,1106.3 L337.4,1071.5 L338.8,1040 L340.1,1015.8 L341.5,1003 L342.2,1000.3 L342.8,998.3 L343.5,997.5 L346.4,997.7 L349.4,998.2 L352.3,998.9 L355.2,999.9 L358.2,1001.1 L361.1,1002.4 L364,1003.7 L367,1005.2 L369.9,1006.6 L372.8,1008 L375.8,1009.3 L378.7,1010.5 L380.4,1011.1 L382.1,1011.7 L383.7,1012.3 L385.4,1012.9 L387.1,1013.5 L388.8,1014.1 L390.5,1014.8 L392.2,1015.4 L393.8,1016.1 L395.5,1016.8 L397.2,1017.5 L400,1018.8 L402.8,1020.1 L405.5,1021.5 L408.3,1023 L411.1,1024.5 L413.9,1026.1 L416.6,1027.7 L419.4,1029.4 L422.2,1031.1 L424.9,1032.9 L427.7,1034.7 L430.5,1036.5 L432.4,1037.7 L434.2,1038.9 L436.1,1040.1 L437.9,1041.4 L439.8,1042.6 L441.6,1044 L443.4,1045.3 L445.3,1046.8 L447.1,1048.3 L449,1049.9 L450.8,1051.6 L452.7,1053.5 L454.4,1055.4 L456.2,1057.4 L457.9,1059.6 L459.6,1062 L461.4,1064.5 L463.1,1067.2 L464.8,1070.1 L466.5,1073.2 L468.3,1076.5 L470,1080 L471.6,1083.5 L473.1,1087.5 L474.7,1091.9 L476.2,1096.6 L477.8,1101.7 L479.3,1106.9 L480.9,1112.2 L482.4,1117.6 L484,1123 L485.7,1128.9 L487.4,1135 L489.1,1141.3 L490.8,1147.7 L492.4,1154.3 L494.1,1161.1 L495.8,1167.9 L497.5,1174.9 L499.2,1181.9 L500.9,1189 L503.7,1201.5 L506.5,1215 L509.4,1229.3 L512.2,1244.1 L515,1259.2 L517.8,1274.1 L520.7,1288.7 L523.5,1302.7 L526.3,1315.8 L529.1,1327.7 L532,1338.2 L534.8,1347 L536.9,1352.7 L539,1358.3 L541.1,1363.6 L543.2,1368.7 L545.3,1373.6 L547.4,1378.1 L549.5,1382.3 L551.6,1386.3 L553.7,1389.8 L555.8,1393 L557.9,1395.7 L560,1398 L561.8,1399.7 L563.5,1401.3 L565.3,1402.9 L567,1404.3 L568.8,1405.6 L570.5,1406.9 L572.3,1408 L574,1408.9 L575.8,1409.8 L577.5,1410.5 L579.3,1411 L582.1,1411.7 L585,1412.4 L587.8,1413 L590.6,1413.6 L593.5,1414.1 L596.3,1414.6 L599.1,1415 L602,1415.3 L604.8,1415.6 L607.6,1415.8 L610.5,1416 L613.3,1416 L620.6,1416 L627.8,1416 L635.1,1416 L642.4,1416 L649.7,1416 L657,1415.9 L664.2,1415.9 L671.5,1415.9 L678.8,1415.8 L686,1415.8 L693.3,1415.8 L700.6,1415.7 L702.3,1415.7 L704,1415.7 L705.7,1415.6 L707.4,1415.6 L709.2,1415.5 L710.9,1415.4 L712.6,1415.3 L714.3,1415.2 L716,1415 L717.5,1414.2 L719,1412.2 L720.5,1409.5 L722,1406.3 L723.5,1403.1 L725,1400 L726.6,1396.4 L728.2,1391.9 L729.8,1387.3 L731.4,1383.3 L733,1380.3 L734.6,1379.2 L736,1379.2 L737.3,1379.2 L738.6,1379.2 L740,1379.2 L758,1379.2 L776.1,1379.2 L794.1,1379.2 L812.2,1379.2 L830.2,1379.2 L848.3,1379.2 L866.4,1379.2 L884.4,1379.2 L902.5,1379.2 L920.5,1379.2 L938.5,1379.2 L956.6,1379.2 L957.1,1384.7 L957.6,1395 L958.6,1417.4 L959.7,1444.7 L960.8,1477.1 L961.8,1515" fill="none" stroke="#5ac4d9" stroke-width="4.8" stroke-linejoin="round" stroke-linecap="butt"/>
<path d="M127,1369.2 L118.8,1384.2 L135.2,1384.2 z" fill="#fff" stroke="#5ac4d9" stroke-width="1.4"/>
<path d="M127,1369.2 L127,1384.2 L135.2,1384.2 z" fill="#5ac4d9" stroke="#5ac4d9" stroke-width="1.4"/>
<path d="M141,1369.2 L132.8,1384.2 L149.2,1384.2 z" fill="#fff" stroke="#5ac4d9" stroke-width="1.4"/>
<path d="M141,1369.2 L141,1384.2 L149.2,1384.2 z" fill="#5ac4d9" stroke="#5ac4d9" stroke-width="1.4"/>
<path d="M165,1369.2 L156.8,1384.2 L173.2,1384.2 z" fill="#fff" stroke="#5ac4d9" stroke-width="1.4"/>
<path d="M165,1369.2 L165,1384.2 L173.2,1384.2 z" fill="#5ac4d9" stroke="#5ac4d9" stroke-width="1.4"/>
<path d="M206,1369.2 L197.8,1384.2 L214.2,1384.2 z" fill="#fff" stroke="#5ac4d9" stroke-width="1.4"/>
<path d="M206,1369.2 L206,1384.2 L214.2,1384.2 z" fill="#5ac4d9" stroke="#5ac4d9" stroke-width="1.4"/>
<path d="M242,1369.2 L233.8,1384.2 L250.2,1384.2 z" fill="#fff" stroke="#5ac4d9" stroke-width="1.4"/>
<path d="M242,1369.2 L242,1384.2 L250.2,1384.2 z" fill="#5ac4d9" stroke="#5ac4d9" stroke-width="1.4"/>
<path d="M280,1369.2 L271.8,1384.2 L288.2,1384.2 z" fill="#fff" stroke="#5ac4d9" stroke-width="1.4"/>
<path d="M280,1369.2 L280,1384.2 L288.2,1384.2 z" fill="#5ac4d9" stroke="#5ac4d9" stroke-width="1.4"/>
<path d="M299,1369.2 L290.8,1384.2 L307.2,1384.2 z" fill="#fff" stroke="#5ac4d9" stroke-width="1.4"/>
<path d="M299,1369.2 L299,1384.2 L307.2,1384.2 z" fill="#5ac4d9" stroke="#5ac4d9" stroke-width="1.4"/>
<path d="M322,1369.2 L313.8,1384.2 L330.2,1384.2 z" fill="#fff" stroke="#5ac4d9" stroke-width="1.4"/>
<path d="M322,1369.2 L322,1384.2 L330.2,1384.2 z" fill="#5ac4d9" stroke="#5ac4d9" stroke-width="1.4"/>
<path d="M340.3,987.6 L332.1,1002.6 L348.6,1002.6 z" fill="#fff" stroke="#5ac4d9" stroke-width="1.4"/>
<path d="M340.3,987.6 L340.3,1002.6 L348.6,1002.6 z" fill="#5ac4d9" stroke="#5ac4d9" stroke-width="1.4"/>
<path d="M378.7,1000.9 L370.4,1015.9 L386.9,1015.9 z" fill="#fff" stroke="#5ac4d9" stroke-width="1.4"/>
<path d="M378.7,1000.9 L378.7,1015.9 L386.9,1015.9 z" fill="#5ac4d9" stroke="#5ac4d9" stroke-width="1.4"/>
<path d="M397.2,1007.5 L388.9,1022.5 L405.4,1022.5 z" fill="#fff" stroke="#5ac4d9" stroke-width="1.4"/>
<path d="M397.2,1007.5 L397.2,1022.5 L405.4,1022.5 z" fill="#5ac4d9" stroke="#5ac4d9" stroke-width="1.4"/>
<path d="M430.5,1026.7 L422.2,1041.7 L438.8,1041.7 z" fill="#fff" stroke="#5ac4d9" stroke-width="1.4"/>
<path d="M430.5,1026.7 L430.5,1041.7 L438.8,1041.7 z" fill="#5ac4d9" stroke="#5ac4d9" stroke-width="1.4"/>
<path d="M452.7,1043.7 L444.4,1058.7 L460.9,1058.7 z" fill="#fff" stroke="#5ac4d9" stroke-width="1.4"/>
<path d="M452.7,1043.7 L452.7,1058.7 L460.9,1058.7 z" fill="#5ac4d9" stroke="#5ac4d9" stroke-width="1.4"/>
<path d="M484,1113.4 L475.8,1128.4 L492.2,1128.4 z" fill="#fff" stroke="#5ac4d9" stroke-width="1.4"/>
<path d="M484,1113.4 L484,1128.4 L492.2,1128.4 z" fill="#5ac4d9" stroke="#5ac4d9" stroke-width="1.4"/>
<path d="M500.9,1179.1 L492.6,1194.1 L509.1,1194.1 z" fill="#fff" stroke="#5ac4d9" stroke-width="1.4"/>
<path d="M500.9,1179.1 L500.9,1194.1 L509.1,1194.1 z" fill="#5ac4d9" stroke="#5ac4d9" stroke-width="1.4"/>
<path d="M534.8,1338.3 L526.5,1353.3 L543,1353.3 z" fill="#fff" stroke="#5ac4d9" stroke-width="1.4"/>
<path d="M534.8,1338.3 L534.8,1353.3 L543,1353.3 z" fill="#5ac4d9" stroke="#5ac4d9" stroke-width="1.4"/>
<path d="M579.3,1401.6 L571,1416.6 L587.5,1416.6 z" fill="#fff" stroke="#5ac4d9" stroke-width="1.4"/>
<path d="M579.3,1401.6 L579.3,1416.6 L587.5,1416.6 z" fill="#5ac4d9" stroke="#5ac4d9" stroke-width="1.4"/>
<path d="M613.3,1405.9 L605,1420.9 L621.5,1420.9 z" fill="#fff" stroke="#5ac4d9" stroke-width="1.4"/>
<path d="M613.3,1405.9 L613.3,1420.9 L621.5,1420.9 z" fill="#5ac4d9" stroke="#5ac4d9" stroke-width="1.4"/>
<path d="M644.4,1405.5 L636.1,1420.5 L652.6,1420.5 z" fill="#fff" stroke="#5ac4d9" stroke-width="1.4"/>
<path d="M644.4,1405.5 L644.4,1420.5 L652.6,1420.5 z" fill="#5ac4d9" stroke="#5ac4d9" stroke-width="1.4"/>
<path d="M662.4,1405.3 L654.1,1420.3 L670.6,1420.3 z" fill="#fff" stroke="#5ac4d9" stroke-width="1.4"/>
<path d="M662.4,1405.3 L662.4,1420.3 L670.6,1420.3 z" fill="#5ac4d9" stroke="#5ac4d9" stroke-width="1.4"/>
<path d="M700.6,1405.3 L692.4,1420.3 L708.9,1420.3 z" fill="#fff" stroke="#5ac4d9" stroke-width="1.4"/>
<path d="M700.6,1405.3 L700.6,1420.3 L708.9,1420.3 z" fill="#5ac4d9" stroke="#5ac4d9" stroke-width="1.4"/>
<path d="M734.6,1369.2 L726.4,1384.2 L742.9,1384.2 z" fill="#fff" stroke="#5ac4d9" stroke-width="1.4"/>
<path d="M734.6,1369.2 L734.6,1384.2 L742.9,1384.2 z" fill="#5ac4d9" stroke="#5ac4d9" stroke-width="1.4"/>
<path d="M774.3,1369.2 L766,1384.2 L782.5,1384.2 z" fill="#fff" stroke="#5ac4d9" stroke-width="1.4"/>
<path d="M774.3,1369.2 L774.3,1384.2 L782.5,1384.2 z" fill="#5ac4d9" stroke="#5ac4d9" stroke-width="1.4"/>
<path d="M850,1369.2 L841.8,1384.2 L858.2,1384.2 z" fill="#fff" stroke="#5ac4d9" stroke-width="1.4"/>
<path d="M850,1369.2 L850,1384.2 L858.2,1384.2 z" fill="#5ac4d9" stroke="#5ac4d9" stroke-width="1.4"/>
<path d="M898,1369.2 L889.8,1384.2 L906.2,1384.2 z" fill="#fff" stroke="#5ac4d9" stroke-width="1.4"/>
<path d="M898,1369.2 L898,1384.2 L906.2,1384.2 z" fill="#5ac4d9" stroke="#5ac4d9" stroke-width="1.4"/>
<path d="M912,1369.2 L903.8,1384.2 L920.2,1384.2 z" fill="#fff" stroke="#5ac4d9" stroke-width="1.4"/>
<path d="M912,1369.2 L912,1384.2 L920.2,1384.2 z" fill="#5ac4d9" stroke="#5ac4d9" stroke-width="1.4"/>
<path d="M928,1369.2 L919.8,1384.2 L936.2,1384.2 z" fill="#fff" stroke="#5ac4d9" stroke-width="1.4"/>
<path d="M928,1369.2 L928,1384.2 L936.2,1384.2 z" fill="#5ac4d9" stroke="#5ac4d9" stroke-width="1.4"/>
<path d="M940,1369.2 L931.8,1384.2 L948.2,1384.2 z" fill="#fff" stroke="#5ac4d9" stroke-width="1.4"/>
<path d="M940,1369.2 L940,1384.2 L948.2,1384.2 z" fill="#5ac4d9" stroke="#5ac4d9" stroke-width="1.4"/>
<path d="M952,1369.2 L943.8,1384.2 L960.2,1384.2 z" fill="#fff" stroke="#5ac4d9" stroke-width="1.4"/>
<path d="M952,1369.2 L952,1384.2 L960.2,1384.2 z" fill="#5ac4d9" stroke="#5ac4d9" stroke-width="1.4"/>
<path d="M118.6,1520 L119.5,1466.1 L120.4,1422.9 L121.3,1400 L122.4,1390.4 L123.4,1384.2 L124.5,1381.5 L125.9,1380.5 L127.2,1379.8 L128.6,1379.3 L130,1379.2 L140.3,1379.2 L150.6,1379.2 L160.9,1379.2 L171.2,1379.2 L181.5,1379.2 L191.8,1379.2 L202,1379.2 L212.3,1379.2 L222.6,1379.2 L232.9,1379.2 L243.2,1379.2 L253.5,1379.2 L254.6,1380.5 L255.8,1383.7 L256.9,1387.8 L258,1392 L259.6,1399.3 L261.3,1409 L262.9,1419.3 L264.5,1428.7 L266.2,1435.6 L267.8,1438.2 L269.1,1436 L270.4,1430.6 L271.7,1423.7 L273,1417 L274.3,1409.5 L275.6,1400.4 L276.9,1391.4 L278.2,1384.4 L279.5,1381 L280.6,1380.3 L281.8,1379.7 L282.9,1379.3 L284,1379.2 L286.9,1379.2 L289.8,1379.2 L292.6,1379.2 L295.5,1379.2 L298.4,1379.2 L301.2,1379.2 L304.1,1379.2 L307,1379.2 L309.9,1379.2 L312.8,1379.2 L315.6,1379.2 L318.5,1379.2 L319.7,1371.8 L320.8,1355.6 L322,1340 L323,1330.1 L324,1320.8 L325,1311.2 L326,1300 L327.5,1278.7 L329.1,1253.6 L330.6,1226.1 L332.2,1197.5 L333.7,1169.5 L335.3,1137.5 L336.9,1100.9 L338.5,1063.8 L340.1,1030.2 L341.7,1004.3 L343.3,990 L344,986.9 L344.8,984.5 L345.5,983.5 L347.2,983.5 L348.9,983.6 L350.7,983.7 L352.4,983.9 L354.1,984.1 L355.8,984.3 L357.6,984.5 L359.3,984.8 L361,985 L362.8,985.3 L364.5,985.7 L366.3,986.1 L368.1,986.6 L369.9,987.1 L371.6,987.7 L373.4,988.3 L375.2,988.9 L376.9,989.5 L378.7,990 L380.4,990.5 L382.1,991 L383.7,991.6 L385.4,992.1 L387.1,992.6 L388.8,993.2 L390.5,993.7 L392.2,994.3 L393.8,994.8 L395.5,995.4 L397.2,996 L400.1,997 L403,997.9 L405.9,998.9 L408.8,999.8 L411.7,1000.8 L414.6,1001.8 L417.5,1002.8 L420.4,1003.9 L423.3,1005.1 L426.2,1006.5 L429.1,1007.9 L432,1009.5 L433.5,1010.4 L434.9,1011.6 L436.4,1012.8 L437.9,1014.2 L439.3,1015.6 L440.8,1017 L443,1019.1 L445.2,1021.2 L447.4,1023.2 L449.7,1025.4 L451.9,1027.5 L454.1,1029.8 L456.3,1032.2 L458.5,1034.8 L460.8,1037.6 L463,1040.6 L465.2,1043.8 L467.4,1047.3 L469,1050.3 L470.7,1053.8 L472.3,1057.8 L473.9,1062.1 L475.5,1066.7 L477.2,1071.5 L478.8,1076.4 L480.4,1081.3 L482.1,1086.2 L483.7,1090.9 L485.3,1095.5 L487,1100 L488.6,1104.4 L490.2,1108.9 L491.9,1113.5 L493.5,1118.2 L495.2,1123 L496.8,1128.2 L498.4,1133.6 L500.1,1139.3 L501.7,1145.5 L503.5,1153.1 L505.3,1161.8 L507.1,1171.4 L508.9,1181.6 L510.6,1192.2 L512.4,1203 L514.2,1213.7 L516,1224.2 L517.8,1234.2 L519.6,1243.5 L521.3,1251.9 L523,1260.2 L524.7,1268.5 L526.4,1276.7 L528.1,1284.7 L529.8,1292.5 L531.5,1300.1 L533.2,1307.5 L534.9,1314.5 L536.6,1321.2 L538.3,1327.5 L540.2,1334.2 L542,1340.9 L543.9,1347.6 L545.7,1354.2 L547.6,1360.5 L549.5,1366.6 L551.3,1372.3 L553.2,1377.7 L555,1382.5 L556.9,1386.8 L558.7,1390.5 L560.6,1393.5 L562.6,1396.3 L564.7,1399 L566.8,1401.5 L568.8,1403.8 L570.9,1406 L572.9,1408 L575,1409.9 L577,1411.5 L579.1,1412.9 L581.1,1414.1 L583.2,1415.1 L585.2,1415.9 L587.5,1416.6 L589.9,1417.3 L592.2,1418 L594.6,1418.6 L596.9,1419.2 L599.2,1419.7 L601.6,1420.2 L603.9,1420.6 L606.3,1420.9 L608.6,1421.1 L611,1421.3 L613.3,1421.3 L620.6,1421.3 L627.8,1421.3 L635.1,1421.3 L642.4,1421.3 L649.7,1421.3 L657,1421.2 L664.2,1421.2 L671.5,1421.2 L678.8,1421.1 L686,1421.1 L693.3,1421.1 L700.6,1421 L702.3,1421 L704,1420.9 L705.7,1420.9 L707.4,1420.8 L709.2,1420.7 L710.9,1420.6 L712.6,1420.4 L714.3,1420.2 L716,1420 L717.5,1419.4 L719,1418.1 L720.5,1416.2 L722,1413.8 L723.5,1411.1 L725,1408.2 L726.5,1405.2 L727.9,1401.4 L729.2,1396.1 L730.5,1390.2 L731.9,1384.7 L733.2,1380.8 L734.6,1379.2 L736,1379.2 L737.3,1379.2 L738.6,1379.2 L740,1379.2 L758,1379.2 L776.1,1379.2 L794.1,1379.2 L812.2,1379.2 L830.2,1379.2 L848.3,1379.2 L866.4,1379.2 L884.4,1379.2 L902.5,1379.2 L920.5,1379.2 L938.5,1379.2 L956.6,1379.2 L957.1,1384.7 L957.6,1395 L958.6,1417.4 L959.7,1444.7 L960.8,1477.1 L961.8,1515" fill="none" stroke="#ee1d23" stroke-width="4.8" stroke-linejoin="round" stroke-linecap="butt"/>
<path d="M132.9,1369.6 L140.9,1379.2 L132.9,1388.8 L124.9,1379.2 z" fill="#fff" stroke="#ee1d23" stroke-width="1.4"/>
<path d="M132.9,1369.6 L140.9,1379.2 L132.9,1388.8 z" fill="#ee1d23" stroke="#ee1d23" stroke-width="1.4"/>
<path d="M153.2,1369.6 L161.2,1379.2 L153.2,1388.8 L145.2,1379.2 z" fill="#fff" stroke="#ee1d23" stroke-width="1.4"/>
<path d="M153.2,1369.6 L161.2,1379.2 L153.2,1388.8 z" fill="#ee1d23" stroke="#ee1d23" stroke-width="1.4"/>
<path d="M173.5,1369.6 L181.5,1379.2 L173.5,1388.8 L165.5,1379.2 z" fill="#fff" stroke="#ee1d23" stroke-width="1.4"/>
<path d="M173.5,1369.6 L181.5,1379.2 L173.5,1388.8 z" fill="#ee1d23" stroke="#ee1d23" stroke-width="1.4"/>
<path d="M206.7,1369.6 L214.7,1379.2 L206.7,1388.8 L198.7,1379.2 z" fill="#fff" stroke="#ee1d23" stroke-width="1.4"/>
<path d="M206.7,1369.6 L214.7,1379.2 L206.7,1388.8 z" fill="#ee1d23" stroke="#ee1d23" stroke-width="1.4"/>
<path d="M226.6,1369.6 L234.6,1379.2 L226.6,1388.8 L218.6,1379.2 z" fill="#fff" stroke="#ee1d23" stroke-width="1.4"/>
<path d="M226.6,1369.6 L234.6,1379.2 L226.6,1388.8 z" fill="#ee1d23" stroke="#ee1d23" stroke-width="1.4"/>
<path d="M258.5,1369.6 L266.5,1379.2 L258.5,1388.8 L250.5,1379.2 z" fill="#fff" stroke="#ee1d23" stroke-width="1.4"/>
<path d="M258.5,1369.6 L266.5,1379.2 L258.5,1388.8 z" fill="#ee1d23" stroke="#ee1d23" stroke-width="1.4"/>
<path d="M267.8,1428.6 L275.8,1438.2 L267.8,1447.8 L259.8,1438.2 z" fill="#fff" stroke="#ee1d23" stroke-width="1.4"/>
<path d="M267.8,1428.6 L275.8,1438.2 L267.8,1447.8 z" fill="#ee1d23" stroke="#ee1d23" stroke-width="1.4"/>
<path d="M286.6,1369.6 L294.6,1379.2 L286.6,1388.8 L278.6,1379.2 z" fill="#fff" stroke="#ee1d23" stroke-width="1.4"/>
<path d="M286.6,1369.6 L294.6,1379.2 L286.6,1388.8 z" fill="#ee1d23" stroke="#ee1d23" stroke-width="1.4"/>
<path d="M299.1,1369.6 L307.1,1379.2 L299.1,1388.8 L291.1,1379.2 z" fill="#fff" stroke="#ee1d23" stroke-width="1.4"/>
<path d="M299.1,1369.6 L307.1,1379.2 L299.1,1388.8 z" fill="#ee1d23" stroke="#ee1d23" stroke-width="1.4"/>
<path d="M312.7,1369.6 L320.7,1379.2 L312.7,1388.8 L304.7,1379.2 z" fill="#fff" stroke="#ee1d23" stroke-width="1.4"/>
<path d="M312.7,1369.6 L320.7,1379.2 L312.7,1388.8 z" fill="#ee1d23" stroke="#ee1d23" stroke-width="1.4"/>
<path d="M341,972.4 L349,982 L341,991.6 L333,982 z" fill="#fff" stroke="#ee1d23" stroke-width="1.4"/>
<path d="M341,972.4 L349,982 L341,991.6 z" fill="#ee1d23" stroke="#ee1d23" stroke-width="1.4"/>
<path d="M361,974.4 L369,984 L361,993.6 L353,984 z" fill="#fff" stroke="#ee1d23" stroke-width="1.4"/>
<path d="M361,974.4 L369,984 L361,993.6 z" fill="#ee1d23" stroke="#ee1d23" stroke-width="1.4"/>
<path d="M378.7,979.5 L386.7,989.1 L378.7,998.7 L370.7,989.1 z" fill="#fff" stroke="#ee1d23" stroke-width="1.4"/>
<path d="M378.7,979.5 L386.7,989.1 L378.7,998.7 z" fill="#ee1d23" stroke="#ee1d23" stroke-width="1.4"/>
<path d="M397.2,985.5 L405.2,995.1 L397.2,1004.7 L389.2,995.1 z" fill="#fff" stroke="#ee1d23" stroke-width="1.4"/>
<path d="M397.2,985.5 L405.2,995.1 L397.2,1004.7 z" fill="#ee1d23" stroke="#ee1d23" stroke-width="1.4"/>
<path d="M432,998.8 L440,1008.4 L432,1018 L424,1008.4 z" fill="#fff" stroke="#ee1d23" stroke-width="1.4"/>
<path d="M432,998.8 L440,1008.4 L432,1018 z" fill="#ee1d23" stroke="#ee1d23" stroke-width="1.4"/>
<path d="M440.8,1006.2 L448.8,1015.8 L440.8,1025.4 L432.8,1015.8 z" fill="#fff" stroke="#ee1d23" stroke-width="1.4"/>
<path d="M440.8,1006.2 L448.8,1015.8 L440.8,1025.4 z" fill="#ee1d23" stroke="#ee1d23" stroke-width="1.4"/>
<path d="M467.4,1036.5 L475.4,1046.1 L467.4,1055.7 L459.4,1046.1 z" fill="#fff" stroke="#ee1d23" stroke-width="1.4"/>
<path d="M467.4,1036.5 L475.4,1046.1 L467.4,1055.7 z" fill="#ee1d23" stroke="#ee1d23" stroke-width="1.4"/>
<path d="M483.7,1080.1 L491.7,1089.7 L483.7,1099.3 L475.7,1089.7 z" fill="#fff" stroke="#ee1d23" stroke-width="1.4"/>
<path d="M483.7,1080.1 L491.7,1089.7 L483.7,1099.3 z" fill="#ee1d23" stroke="#ee1d23" stroke-width="1.4"/>
<path d="M501.7,1134.8 L509.7,1144.4 L501.7,1154 L493.7,1144.4 z" fill="#fff" stroke="#ee1d23" stroke-width="1.4"/>
<path d="M501.7,1134.8 L509.7,1144.4 L501.7,1154 z" fill="#ee1d23" stroke="#ee1d23" stroke-width="1.4"/>
<path d="M519.6,1233.2 L527.6,1242.8 L519.6,1252.4 L511.6,1242.8 z" fill="#fff" stroke="#ee1d23" stroke-width="1.4"/>
<path d="M519.6,1233.2 L527.6,1242.8 L519.6,1252.4 z" fill="#ee1d23" stroke="#ee1d23" stroke-width="1.4"/>
<path d="M538.3,1317.5 L546.3,1327.1 L538.3,1336.7 L530.3,1327.1 z" fill="#fff" stroke="#ee1d23" stroke-width="1.4"/>
<path d="M538.3,1317.5 L546.3,1327.1 L538.3,1336.7 z" fill="#ee1d23" stroke="#ee1d23" stroke-width="1.4"/>
<path d="M560.6,1383.1 L568.6,1392.7 L560.6,1402.3 L552.6,1392.7 z" fill="#fff" stroke="#ee1d23" stroke-width="1.4"/>
<path d="M560.6,1383.1 L568.6,1392.7 L560.6,1402.3 z" fill="#ee1d23" stroke="#ee1d23" stroke-width="1.4"/>
<path d="M585.2,1405.3 L593.2,1414.9 L585.2,1424.5 L577.2,1414.9 z" fill="#fff" stroke="#ee1d23" stroke-width="1.4"/>
<path d="M585.2,1405.3 L593.2,1414.9 L585.2,1424.5 z" fill="#ee1d23" stroke="#ee1d23" stroke-width="1.4"/>
<path d="M613.3,1411.4 L621.3,1421 L613.3,1430.6 L605.3,1421 z" fill="#fff" stroke="#ee1d23" stroke-width="1.4"/>
<path d="M613.3,1411.4 L621.3,1421 L613.3,1430.6 z" fill="#ee1d23" stroke="#ee1d23" stroke-width="1.4"/>
<path d="M639,1411.4 L647,1421 L639,1430.6 L631,1421 z" fill="#fff" stroke="#ee1d23" stroke-width="1.4"/>
<path d="M639,1411.4 L647,1421 L639,1430.6 z" fill="#ee1d23" stroke="#ee1d23" stroke-width="1.4"/>
<path d="M662.4,1410.9 L670.4,1420.5 L662.4,1430.1 L654.4,1420.5 z" fill="#fff" stroke="#ee1d23" stroke-width="1.4"/>
<path d="M662.4,1410.9 L670.4,1420.5 L662.4,1430.1 z" fill="#ee1d23" stroke="#ee1d23" stroke-width="1.4"/>
<path d="M681.2,1410.4 L689.2,1420 L681.2,1429.6 L673.2,1420 z" fill="#fff" stroke="#ee1d23" stroke-width="1.4"/>
<path d="M681.2,1410.4 L689.2,1420 L681.2,1429.6 z" fill="#ee1d23" stroke="#ee1d23" stroke-width="1.4"/>
<path d="M700.6,1410.4 L708.6,1420 L700.6,1429.6 L692.6,1420 z" fill="#fff" stroke="#ee1d23" stroke-width="1.4"/>
<path d="M700.6,1410.4 L708.6,1420 L700.6,1429.6 z" fill="#ee1d23" stroke="#ee1d23" stroke-width="1.4"/>
<path d="M726.5,1395.6 L734.5,1405.2 L726.5,1414.8 L718.5,1405.2 z" fill="#fff" stroke="#ee1d23" stroke-width="1.4"/>
<path d="M726.5,1395.6 L734.5,1405.2 L726.5,1414.8 z" fill="#ee1d23" stroke="#ee1d23" stroke-width="1.4"/>
<path d="M774.2,1369.6 L782.2,1379.2 L774.2,1388.8 L766.2,1379.2 z" fill="#fff" stroke="#ee1d23" stroke-width="1.4"/>
<path d="M774.2,1369.6 L782.2,1379.2 L774.2,1388.8 z" fill="#ee1d23" stroke="#ee1d23" stroke-width="1.4"/>
<path d="M801.9,1369.6 L809.9,1379.2 L801.9,1388.8 L793.9,1379.2 z" fill="#fff" stroke="#ee1d23" stroke-width="1.4"/>
<path d="M801.9,1369.6 L809.9,1379.2 L801.9,1388.8 z" fill="#ee1d23" stroke="#ee1d23" stroke-width="1.4"/>
<path d="M853.6,1369.6 L861.6,1379.2 L853.6,1388.8 L845.6,1379.2 z" fill="#fff" stroke="#ee1d23" stroke-width="1.4"/>
<path d="M853.6,1369.6 L861.6,1379.2 L853.6,1388.8 z" fill="#ee1d23" stroke="#ee1d23" stroke-width="1.4"/>
<path d="M858.1,1369.6 L866.1,1379.2 L858.1,1388.8 L850.1,1379.2 z" fill="#fff" stroke="#ee1d23" stroke-width="1.4"/>
<path d="M858.1,1369.6 L866.1,1379.2 L858.1,1388.8 z" fill="#ee1d23" stroke="#ee1d23" stroke-width="1.4"/>
<path d="M884.3,1369.6 L892.3,1379.2 L884.3,1388.8 L876.3,1379.2 z" fill="#fff" stroke="#ee1d23" stroke-width="1.4"/>
<path d="M884.3,1369.6 L892.3,1379.2 L884.3,1388.8 z" fill="#ee1d23" stroke="#ee1d23" stroke-width="1.4"/>
<path d="M898.5,1369.6 L906.5,1379.2 L898.5,1388.8 L890.5,1379.2 z" fill="#fff" stroke="#ee1d23" stroke-width="1.4"/>
<path d="M898.5,1369.6 L906.5,1379.2 L898.5,1388.8 z" fill="#ee1d23" stroke="#ee1d23" stroke-width="1.4"/>
<path d="M912,1369.6 L920,1379.2 L912,1388.8 L904,1379.2 z" fill="#fff" stroke="#ee1d23" stroke-width="1.4"/>
<path d="M912,1369.6 L920,1379.2 L912,1388.8 z" fill="#ee1d23" stroke="#ee1d23" stroke-width="1.4"/>
<path d="M918.8,1369.6 L926.8,1379.2 L918.8,1388.8 L910.8,1379.2 z" fill="#fff" stroke="#ee1d23" stroke-width="1.4"/>
<path d="M918.8,1369.6 L926.8,1379.2 L918.8,1388.8 z" fill="#ee1d23" stroke="#ee1d23" stroke-width="1.4"/>
<path d="M928.5,1369.6 L936.5,1379.2 L928.5,1388.8 L920.5,1379.2 z" fill="#fff" stroke="#ee1d23" stroke-width="1.4"/>
<path d="M928.5,1369.6 L936.5,1379.2 L928.5,1388.8 z" fill="#ee1d23" stroke="#ee1d23" stroke-width="1.4"/>
<path d="M939.7,1369.6 L947.7,1379.2 L939.7,1388.8 L931.7,1379.2 z" fill="#fff" stroke="#ee1d23" stroke-width="1.4"/>
<path d="M939.7,1369.6 L947.7,1379.2 L939.7,1388.8 z" fill="#ee1d23" stroke="#ee1d23" stroke-width="1.4"/>
<path d="M947.2,1369.6 L955.2,1379.2 L947.2,1388.8 L939.2,1379.2 z" fill="#fff" stroke="#ee1d23" stroke-width="1.4"/>
<path d="M947.2,1369.6 L955.2,1379.2 L947.2,1388.8 z" fill="#ee1d23" stroke="#ee1d23" stroke-width="1.4"/>
<path d="M960.7,1369.6 L968.7,1379.2 L960.7,1388.8 L952.7,1379.2 z" fill="#fff" stroke="#ee1d23" stroke-width="1.4"/>
<path d="M960.7,1369.6 L968.7,1379.2 L960.7,1388.8 z" fill="#ee1d23" stroke="#ee1d23" stroke-width="1.4"/>
<path d="M118.4,1441.1 L119.1,1424.1 L119.8,1409.8 L120.5,1400 L121.5,1391.1 L122.5,1384.6 L123.5,1381.5 L124.5,1380.5 L125.5,1379.8 L126.6,1379.4 L127.6,1379.2 L138,1379.2 L148.4,1379.2 L158.9,1379.2 L169.3,1379.2 L179.7,1379.2 L190.1,1379.2 L200.6,1379.2 L211,1379.2 L221.4,1379.2 L231.8,1379.2 L242.3,1379.2 L252.7,1379.2 L253.8,1380.3 L254.8,1382.9 L255.9,1386.4 L257,1390 L258.3,1394.4 L259.6,1399.5 L260.8,1405 L262.1,1410.8 L263.4,1416.6 L264.6,1423.1 L265.8,1430.6 L267,1436.7 L268.2,1439.2 L269.3,1436.8 L270.4,1431 L271.4,1423.7 L272.5,1417 L273.8,1409 L275,1399.9 L276.3,1391.1 L277.5,1384.3 L278.8,1381 L279.9,1380.3 L280.9,1379.7 L281.9,1379.3 L283,1379.2 L285.9,1379.2 L288.8,1379.2 L291.6,1379.2 L294.5,1379.2 L297.4,1379.2 L300.2,1379.2 L303.1,1379.2 L306,1379.2 L308.9,1379.2 L311.8,1379.2 L314.6,1379.2 L317.5,1379.2 L318.7,1371.7 L319.8,1355.5 L321,1340 L322.1,1330 L323.1,1320.8 L324.1,1311.2 L325.2,1300 L326.7,1279.3 L328.3,1254.5 L329.8,1227.1 L331.4,1198.3 L332.9,1169.5 L334.5,1136.8 L336.1,1099.8 L337.7,1061.9 L339.3,1026.1 L340.9,995.9 L342.5,974.4 L343.1,968.8 L343.6,965.9 L344.9,965.9 L346.2,966 L347.4,966.2 L348.7,966.3 L350,966.5 L352.4,966.8 L354.7,967.1 L357.1,967.5 L359.5,968 L361.8,968.4 L364.2,968.9 L366.6,969.4 L368.9,970 L371.3,970.6 L373.7,971.2 L376,971.9 L378.4,972.6 L380.1,973.2 L381.8,973.9 L383.5,974.6 L385.2,975.5 L386.9,976.3 L388.7,977.2 L390.4,978.1 L392.1,979 L393.8,979.9 L395.5,980.7 L397.2,981.5 L400,982.6 L402.8,983.7 L405.6,984.7 L408.4,985.7 L411.2,986.6 L414,987.5 L416.8,988.5 L419.6,989.4 L422.4,990.5 L425.2,991.5 L428,992.7 L430.8,993.9 L432.7,994.8 L434.5,995.6 L436.4,996.6 L438.2,997.5 L440.1,998.5 L442,999.5 L443.8,1000.6 L445.7,1001.7 L447.5,1002.9 L449.4,1004.2 L451.2,1005.5 L453.1,1006.9 L454.9,1008.3 L456.6,1009.7 L458.4,1011.3 L460.1,1012.9 L461.9,1014.8 L463.6,1016.8 L465.4,1019.1 L467.1,1021.7 L468.9,1024.6 L470.4,1028 L471.9,1032.7 L473.3,1038 L474.8,1043.4 L476.3,1048.3 L477.7,1052.4 L479.2,1056.2 L480.6,1060 L482,1063.8 L483.5,1067.8 L484.9,1072.2 L486.6,1077.9 L488.3,1083.9 L489.9,1090.4 L491.6,1097.1 L493.3,1104.1 L495,1111.3 L496.7,1118.7 L498.3,1126.3 L500,1134 L501.7,1141.7 L504.7,1156.1 L507.6,1171.7 L510.6,1188.3 L513.5,1205.5 L516.5,1223.2 L519.5,1241 L522.4,1258.6 L525.4,1275.7 L528.3,1292.1 L531.3,1307.5 L534.2,1321.6 L537.2,1334.1 L539.2,1342.1 L541.3,1350 L543.3,1357.7 L545.4,1365.3 L547.4,1372.6 L549.5,1379.5 L551.5,1386.1 L553.5,1392.3 L555.6,1397.9 L557.6,1403 L559.7,1407.6 L561.7,1411.4 L563.4,1414.3 L565.1,1417 L566.8,1419.6 L568.5,1422.1 L570.2,1424.4 L571.8,1426.4 L573.5,1428.3 L575.2,1429.8 L576.9,1431.1 L578.6,1432 L581.5,1433.2 L584.4,1434.4 L587.3,1435.4 L590.2,1436.4 L593.1,1437.2 L596,1437.9 L598.8,1438.6 L601.7,1439.2 L604.6,1439.7 L607.5,1440.1 L610.4,1440.4 L613.3,1440.7 L615.9,1440.9 L618.5,1441.1 L621.1,1441.3 L623.7,1441.5 L626.3,1441.7 L628.8,1441.8 L631.4,1442 L634,1442.1 L636.6,1442.2 L639.2,1442.2 L641.8,1442.3 L644.4,1442.3 L646,1442.3 L647.7,1442.2 L649.3,1442.2 L650.9,1442.1 L652.6,1442 L654.2,1441.9 L655.9,1441.7 L657.5,1441.6 L659.1,1441.5 L660.8,1441.5 L662.4,1441.4 L665.6,1441.3 L668.8,1441.2 L672,1441.2 L675.1,1441.1 L678.3,1441.1 L681.5,1441.1 L684.7,1441 L687.9,1441 L691,1440.9 L694.2,1440.9 L697.4,1440.8 L700.6,1440.7 L702.3,1440.7 L704,1440.6 L705.7,1440.6 L707.4,1440.5 L709.2,1440.4 L710.9,1440.3 L712.6,1440.2 L714.3,1440 L716,1439.8 L717.2,1438.5 L718.5,1435.5 L719.8,1431.8 L721,1428 L722.7,1422.3 L724.4,1415.1 L726.1,1407.1 L727.8,1398.9 L729.5,1391.3 L731.2,1385.1 L732.9,1380.8 L734.6,1379.2 L736,1379.2 L737.3,1379.2 L738.6,1379.2 L740,1379.2 L758,1379.2 L776,1379.2 L794.1,1379.2 L812.1,1379.2 L830.1,1379.2 L848.1,1379.2 L866.2,1379.2 L884.2,1379.2 L902.2,1379.2 L920.2,1379.2 L938.3,1379.2 L956.3,1379.2 L956.8,1384.7 L957.3,1395 L958.3,1417.4 L959.4,1444.7 L960.5,1477.1 L961.5,1515" fill="none" stroke="#3150a6" stroke-width="5" stroke-linejoin="round" stroke-linecap="butt"/>
<circle cx="118.4" cy="1441.1" r="6.8" fill="#fff" stroke="#3150a6" stroke-width="1.6"/>
<circle cx="127.6" cy="1379.2" r="6.8" fill="#fff" stroke="#3150a6" stroke-width="1.6"/>
<circle cx="141.6" cy="1379.2" r="6.8" fill="#fff" stroke="#3150a6" stroke-width="1.6"/>
<circle cx="165.7" cy="1379.2" r="6.8" fill="#fff" stroke="#3150a6" stroke-width="1.6"/>
<circle cx="206.7" cy="1379.2" r="6.8" fill="#fff" stroke="#3150a6" stroke-width="1.6"/>
<circle cx="242.5" cy="1379.2" r="6.8" fill="#fff" stroke="#3150a6" stroke-width="1.6"/>
<circle cx="263.4" cy="1416.6" r="6.8" fill="#fff" stroke="#3150a6" stroke-width="1.6"/>
<circle cx="279.8" cy="1379.2" r="6.8" fill="#fff" stroke="#3150a6" stroke-width="1.6"/>
<circle cx="299.1" cy="1379.2" r="6.8" fill="#fff" stroke="#3150a6" stroke-width="1.6"/>
<circle cx="322.3" cy="1379.2" r="6.8" fill="#fff" stroke="#3150a6" stroke-width="1.6"/>
<circle cx="343.2" cy="965.9" r="6.8" fill="#fff" stroke="#3150a6" stroke-width="1.6"/>
<circle cx="378.4" cy="972.6" r="6.8" fill="#fff" stroke="#3150a6" stroke-width="1.6"/>
<circle cx="397.2" cy="981.5" r="6.8" fill="#fff" stroke="#3150a6" stroke-width="1.6"/>
<circle cx="430.8" cy="993.9" r="6.8" fill="#fff" stroke="#3150a6" stroke-width="1.6"/>
<circle cx="453.1" cy="1006.9" r="6.8" fill="#fff" stroke="#3150a6" stroke-width="1.6"/>
<circle cx="484.9" cy="1072.2" r="6.8" fill="#fff" stroke="#3150a6" stroke-width="1.6"/>
<circle cx="501.7" cy="1141.7" r="6.8" fill="#fff" stroke="#3150a6" stroke-width="1.6"/>
<circle cx="537.2" cy="1334.1" r="6.8" fill="#fff" stroke="#3150a6" stroke-width="1.6"/>
<circle cx="538.8" cy="1338.8" r="6.8" fill="#fff" stroke="#3150a6" stroke-width="1.6"/>
<circle cx="578.6" cy="1432" r="6.8" fill="#fff" stroke="#3150a6" stroke-width="1.6"/>
<circle cx="613.3" cy="1440.7" r="6.8" fill="#fff" stroke="#3150a6" stroke-width="1.6"/>
<circle cx="644.4" cy="1442.3" r="6.8" fill="#fff" stroke="#3150a6" stroke-width="1.6"/>
<circle cx="662.4" cy="1441.4" r="6.8" fill="#fff" stroke="#3150a6" stroke-width="1.6"/>
<circle cx="700.6" cy="1440.7" r="6.8" fill="#fff" stroke="#3150a6" stroke-width="1.6"/>
<circle cx="734.6" cy="1379.2" r="6.8" fill="#fff" stroke="#3150a6" stroke-width="1.6"/>
<circle cx="774.3" cy="1379.2" r="6.8" fill="#fff" stroke="#3150a6" stroke-width="1.6"/>
<circle cx="850.6" cy="1379.2" r="6.8" fill="#fff" stroke="#3150a6" stroke-width="1.6"/>
<circle cx="858.8" cy="1379.2" r="6.8" fill="#fff" stroke="#3150a6" stroke-width="1.6"/>
<circle cx="897.8" cy="1379.2" r="6.8" fill="#fff" stroke="#3150a6" stroke-width="1.6"/>
<circle cx="912" cy="1379.2" r="6.8" fill="#fff" stroke="#3150a6" stroke-width="1.6"/>
<circle cx="927.7" cy="1379.2" r="6.8" fill="#fff" stroke="#3150a6" stroke-width="1.6"/>
<circle cx="939.7" cy="1379.2" r="6.8" fill="#fff" stroke="#3150a6" stroke-width="1.6"/>
<circle cx="952.2" cy="1379.2" r="6.8" fill="#fff" stroke="#3150a6" stroke-width="1.6"/>
</g>
<text font-size="33.30" text-anchor="middle" y="1590.60"><tspan x="524.67" text-anchor="start" textLength="60.42" lengthAdjust="spacingAndGlyphs">Y(m)</tspan></text>
<text transform="translate(39.30,1239.00) rotate(-90)" font-size="33.30" text-anchor="middle" x="8.25 24.75 41.25 57.75 74.25 90.75 107.25" y="0">Stanton</text>
<rect x="595.6" y="889.8" width="347.1" height="122.5" fill="#fff" stroke="none"/>
<path d="M595.6,889.8 H942.7 V1012.3" fill="none" stroke="#888" stroke-width="1.5"/><path d="M595.6,889.8 V1012.3 H942.7" fill="none" stroke="#222" stroke-width="1.3"/>
<path d="M600.2,911.8 H670.9" stroke="#3150a6" stroke-width="4.6"/>
<circle cx="635.1" cy="911.8" r="6.8" fill="#fff" stroke="#3150a6" stroke-width="1.6"/>
<text font-size="35.60" text-anchor="middle" y="925.10"><tspan x="688.54" text-anchor="start" textLength="69.26" lengthAdjust="spacingAndGlyphs">Case</tspan><tspan x="768.33 786.17 800.82"> 1,</tspan><tspan x="813.31" text-anchor="start" textLength="51.94" lengthAdjust="spacingAndGlyphs">SR=</tspan><tspan x="875.42 890.07 911.12 928.98">0.10</tspan></text>
<path d="M600.2,951 H670.9" stroke="#ee1d23" stroke-width="5"/>
<path d="M635.1,941.4 L643.1,951 L635.1,960.6 L627.1,951 z" fill="#fff" stroke="#ee1d23" stroke-width="1.4"/>
<path d="M635.1,941.4 L643.1,951 L635.1,960.6 z" fill="#ee1d23" stroke="#ee1d23" stroke-width="1.4"/>
<text font-size="35.60" text-anchor="middle" y="964.00"><tspan x="688.54" text-anchor="start" textLength="69.26" lengthAdjust="spacingAndGlyphs">Case</tspan><tspan x="768.33 786.17 800.82"> 2,</tspan><tspan x="813.31" text-anchor="start" textLength="51.94" lengthAdjust="spacingAndGlyphs">SR=</tspan><tspan x="875.42 890.07 911.12 928.98">0.28</tspan></text>
<path d="M600.2,990.4 H670.9" stroke="#5ac4d9" stroke-width="5"/>
<path d="M635.1,980.4 L626.9,995.4 L643.4,995.4 z" fill="#fff" stroke="#5ac4d9" stroke-width="1.4"/>
<path d="M635.1,980.4 L635.1,995.4 L643.4,995.4 z" fill="#5ac4d9" stroke="#5ac4d9" stroke-width="1.4"/>
<text font-size="35.60" text-anchor="middle" y="1003.20"><tspan x="688.54" text-anchor="start" textLength="69.26" lengthAdjust="spacingAndGlyphs">Case</tspan><tspan x="768.33 786.17 800.82"> 3,</tspan><tspan x="813.31" text-anchor="start" textLength="51.94" lengthAdjust="spacingAndGlyphs">SR=</tspan><tspan x="875.42 890.07 911.12 928.98">0.55</tspan></text>
<path d="M1181.5,1518.3 v-12 M1181.5,845.4 v12 M1243,1518.3 v-6 M1243,845.4 v6 M1304.5,1518.3 v-12 M1304.5,845.4 v12 M1366,1518.3 v-6 M1366,845.4 v6 M1427.6,1518.3 v-12 M1427.6,845.4 v12 M1489.1,1518.3 v-6 M1489.1,845.4 v6 M1550.6,1518.3 v-12 M1550.6,845.4 v12 M1612.1,1518.3 v-6 M1612.1,845.4 v6 M1673.6,1518.3 v-12 M1673.6,845.4 v12 M1735.1,1518.3 v-6 M1735.1,845.4 v6 M1796.6,1518.3 v-12 M1796.6,845.4 v12 M1858.2,1518.3 v-6 M1858.2,845.4 v6 M1919.7,1518.3 v-12 M1919.7,845.4 v12 M1981.2,1518.3 v-6 M1981.2,845.4 v6 M2042.7,1518.3 v-12 M2042.7,845.4 v12 M1181.5,845.4 h12 M2042.7,845.4 h-12 M1181.5,929.5 h6 M2042.7,929.5 h-6 M1181.5,1013.6 h12 M2042.7,1013.6 h-12 M1181.5,1097.7 h6 M2042.7,1097.7 h-6 M1181.5,1181.8 h12 M2042.7,1181.8 h-12 M1181.5,1266 h6 M2042.7,1266 h-6 M1181.5,1350.1 h12 M2042.7,1350.1 h-12 M1181.5,1434.2 h6 M2042.7,1434.2 h-6 M1181.5,1518.3 h12 M2042.7,1518.3 h-12" stroke="#111" stroke-width="2.8" fill="none"/>
<rect x="1181.5" y="845.4" width="861.2" height="672.9" fill="none" stroke="#111" stroke-width="2.8"/>
<text font-size="26.60" text-anchor="middle" x="1161.55 1172.46 1188.15 1201.45" y="1555.50">0.00</text>
<text font-size="26.60" text-anchor="middle" x="1284.58 1295.48 1311.18 1324.48" y="1555.50">0.25</text>
<text font-size="26.60" text-anchor="middle" x="1407.61 1418.51 1434.21 1447.51" y="1555.50">0.50</text>
<text font-size="26.60" text-anchor="middle" x="1530.64 1541.54 1557.24 1570.54" y="1555.50">0.75</text>
<text font-size="26.60" text-anchor="middle" x="1653.66 1664.57 1680.26 1693.56" y="1555.50">1.00</text>
<text font-size="26.60" text-anchor="middle" x="1776.69 1787.60 1803.29 1816.59" y="1555.50">1.25</text>
<text font-size="26.60" text-anchor="middle" x="1899.72 1910.63 1926.32 1939.62" y="1555.50">1.50</text>
<text font-size="26.60" text-anchor="middle" x="2022.75 2033.66 2049.35 2062.65" y="1555.50">1.75</text>
<text font-size="26.60" text-anchor="middle" x="1094.25 1105.16 1120.85 1134.15 1147.45 1160.75" y="857.40">0.0008</text>
<text font-size="26.60" text-anchor="middle" x="1094.25 1105.16 1120.85 1134.15 1147.45 1160.75" y="1025.62">0.0006</text>
<text font-size="26.60" text-anchor="middle" x="1094.25 1105.16 1120.85 1134.15 1147.45 1160.75" y="1193.85">0.0004</text>
<text font-size="26.60" text-anchor="middle" x="1094.25 1105.16 1120.85 1134.15 1147.45 1160.75" y="1362.07">0.0002</text>
<text font-size="26.60" text-anchor="middle" x="1094.25 1105.16 1120.85 1134.15 1147.45 1160.75" y="1530.30">0.0000</text>
<g clip-path="url(#c4)">
<path d="M1182.3,1518.5 L1183,1505 L1183.8,1492.1 L1184.5,1480 L1185.6,1466.4 L1186.7,1453.3 L1187.7,1441.4 L1188.8,1431.5 L1190.5,1425.3 L1192.1,1419.6 L1193.8,1414.3 L1195.5,1409.4 L1197.2,1404.8 L1198.8,1400.6 L1200.5,1396.7 L1202.2,1393 L1203.8,1389.6 L1205.5,1386.5 L1207,1385.4 L1208.6,1384.3 L1210.1,1383.4 L1211.7,1382.5 L1213.2,1381.6 L1214.7,1380.8 L1216.3,1380 L1217.8,1379.3 L1219.4,1378.8 L1220.9,1378.4 L1222.5,1378 L1224,1377.6 L1225.6,1377.2 L1227.1,1376.8 L1228.7,1376.4 L1230.4,1375.9 L1232.2,1375.4 L1233.9,1374.9 L1235.6,1374.4 L1237.3,1373.9 L1239,1373.4 L1240.8,1373.1 L1242.5,1372.8 L1244.7,1373.3 L1247,1373.9 L1249.2,1374.6 L1251.4,1375.4 L1253.7,1376.3 L1255.9,1377.3 L1258.1,1378.2 L1260.4,1379.3 L1262.6,1380.3 L1264.8,1381.4 L1267.1,1382.5 L1269.3,1383.6 L1271,1384.8 L1272.6,1386.1 L1274.3,1387.5 L1276,1388.9 L1277.7,1390.3 L1279.3,1391.8 L1281,1393.3 L1282.7,1394.9 L1284.3,1396.5 L1286,1398.1 L1287.6,1400.2 L1289.3,1402.4 L1290.9,1404.7 L1292.6,1407 L1294.2,1409.4 L1295.9,1411.8 L1297.5,1414.2 L1299.2,1416.7 L1300.8,1419.2 L1302.5,1421.7 L1304.1,1424.2 L1305.6,1426.8 L1307.2,1429.4 L1308.7,1432 L1310.2,1434.6 L1311.8,1437.3 L1313.3,1440.1 L1314.9,1443 L1316.4,1446 L1317.9,1449.9 L1319.3,1454 L1320.8,1458.3 L1322.2,1462.7 L1323.6,1467.1 L1325.1,1471.4 L1326.5,1475.6 L1328,1479.9 L1329.4,1484.1 L1330.9,1488.3 L1332.3,1492.5 L1333.8,1496.7 L1335.3,1501.1 L1336.7,1505.8 L1338.2,1510.4 L1339.6,1514.2 L1341.1,1517 L1344.7,1517 L1348.3,1517 L1352,1517 L1355.6,1517 L1359.2,1517 L1362.8,1517 L1366.5,1517 L1370.1,1517 L1373.7,1517 L1377.3,1517 L1381,1517 L1384.6,1517 L1386.3,1514.8 L1388.1,1512 L1389.8,1508.6 L1391.6,1504.9 L1393.3,1500.9 L1395,1496.7 L1396.8,1492.4 L1398.5,1488.3 L1400.3,1484.4 L1402,1480.8 L1403.7,1477.8 L1405.5,1474.8 L1407.2,1471.7 L1409,1468.7 L1410.7,1465.7 L1412.4,1462.9 L1414.2,1460.2 L1415.9,1457.6 L1417.7,1455.3 L1419.4,1453.2 L1421,1452.4 L1422.7,1451.5 L1424.3,1450.7 L1426,1450 L1427.6,1449.2 L1429.3,1448.5 L1430.9,1447.9 L1432.6,1447.3 L1434.2,1446.8 L1435.9,1446.4 L1437.5,1446 L1439.2,1446.6 L1440.8,1447.3 L1442.5,1448.2 L1444.2,1449.2 L1445.9,1450.3 L1447.5,1451.4 L1449.2,1452.5 L1450.9,1453.6 L1452.6,1454.5 L1454.2,1455.4 L1455.9,1456.1 L1457.5,1456.3 L1459.2,1456.6 L1460.8,1456.8 L1462.5,1457 L1464.1,1457.2 L1465.7,1457.4 L1467.4,1457.5 L1469,1457.6 L1470.7,1456.5 L1472.4,1455 L1474.1,1453.2 L1475.8,1451.2 L1477.5,1449.1 L1479.3,1446.8 L1481,1444.6 L1482.7,1442.5 L1484.4,1440.5 L1486.1,1438.8 L1487.8,1437.3 L1489.3,1436.8 L1490.7,1436.3 L1492.2,1435.8 L1493.6,1435.4 L1495.1,1435 L1496.5,1434.6 L1498,1434.4 L1499.7,1434.9 L1501.3,1435.5 L1503,1436.3 L1504.6,1437.2 L1506.3,1438.1 L1507.9,1439.1 L1509.6,1440.2 L1511.2,1442.8 L1512.8,1445.9 L1514.4,1449.4 L1516,1453.1 L1517.7,1456.9 L1519.3,1460.6 L1520.9,1464 L1522.5,1466.9 L1524.1,1469.2 L1525.5,1469.7 L1527,1470.1 L1528.4,1470.5 L1529.9,1470.9 L1531.3,1471.2 L1532.8,1471.4 L1534.2,1471.2 L1535.7,1471.1 L1537.2,1470.8 L1538.6,1470.5 L1540,1470.2 L1541.5,1469.9 L1543,1468.8 L1544.4,1467.4 L1545.8,1465.8 L1547.3,1464.1 L1548.8,1462.3 L1550.2,1460.5 L1551.7,1457.7 L1553.1,1454.5 L1554.6,1451.2 L1556,1448 L1557.5,1445.2 L1558.9,1443.1 L1560.7,1442.7 L1562.4,1442.4 L1564.2,1442.1 L1566,1441.8 L1567.7,1441.6 L1569.5,1441.4 L1571.3,1441.2 L1573,1441 L1574.8,1440.9 L1576.5,1441.2 L1578.2,1441.6 L1580,1442.1 L1581.7,1442.6 L1583.4,1443.2 L1585.1,1443.7 L1586.8,1444.3 L1588.5,1444.8 L1590.3,1445.3 L1592,1445.7 L1593.7,1446 L1595.4,1445.1 L1597.2,1443.9 L1598.9,1442.4 L1600.7,1440.8 L1602.4,1439.1 L1604.1,1437.4 L1605.9,1435.8 L1607.6,1434.3 L1609.4,1433.1 L1611.1,1432.2 L1612.5,1433.2 L1614,1434.7 L1615.4,1436.4 L1616.9,1438.3 L1618.3,1440.2 L1619.9,1443.9 L1621.5,1448.2 L1623.1,1453 L1624.7,1457.9 L1626.4,1462.8 L1628,1467.5 L1629.6,1471.7 L1631.2,1475.3 L1632.8,1477.9 L1634.3,1476.3 L1635.7,1474.1 L1637.2,1471.6 L1638.6,1468.7 L1640.1,1465.8 L1641.5,1463 L1643,1460.5 L1644.6,1458.1 L1646.2,1455.6 L1647.8,1453.1 L1649.4,1450.5 L1651.1,1448.1 L1652.7,1445.9 L1654.3,1443.9 L1655.9,1442.2 L1657.5,1440.9 L1658.9,1441.5 L1660.4,1442.4 L1661.8,1443.5 L1663.3,1444.6 L1664.7,1445.7 L1666.2,1446.7 L1667.6,1447.4 L1669.3,1447.6 L1670.9,1447.7 L1672.6,1447.8 L1674.2,1447.9 L1675.9,1448 L1677.5,1448.1 L1679.2,1448.2 L1680.9,1447.7 L1682.6,1447.1 L1684.4,1446.4 L1686.1,1445.5 L1687.8,1444.7 L1689.5,1443.7 L1691.2,1442.9 L1692.9,1442 L1694.7,1441.3 L1696.4,1440.7 L1698.1,1440.2 L1699.8,1440.8 L1701.4,1441.6 L1703.1,1442.6 L1704.7,1443.6 L1706.4,1444.6 L1708,1445.4 L1709.7,1446 L1711.1,1444.5 L1712.6,1442.3 L1714,1439.9 L1715.5,1437.6 L1716.9,1435.8 L1718.5,1435.2 L1720.2,1434.6 L1721.8,1434.1 L1723.5,1433.6 L1725.1,1433.2 L1726.7,1432.8 L1728.4,1432.5 L1730,1432.2 L1732,1433.1 L1733.9,1434.4 L1735.9,1435.8 L1737.9,1437.5 L1739.8,1439.3 L1741.8,1441.2 L1743.8,1443 L1745.7,1444.8 L1747.7,1446.5 L1749.7,1447.9 L1751.6,1449.2 L1753.6,1450.1 L1755.3,1447 L1756.9,1442.9 L1758.6,1437.8 L1760.3,1432.2 L1761.9,1426.2 L1763.6,1420.1 L1765.2,1414.1 L1766.9,1408.5 L1768.6,1403.4 L1770.2,1399.3 L1771.9,1396.2 L1773.6,1397.2 L1775.3,1398.5 L1777,1400.1 L1778.7,1401.9 L1780.3,1403.7 L1782,1405.5 L1783.7,1407.1 L1785.4,1408.4 L1787.1,1409.4 L1788.4,1409.3 L1789.8,1409.2 L1791.2,1409 L1792.5,1408.8 L1793.8,1408.6 L1795.2,1408.4 L1797.7,1405.9 L1800.1,1402.8 L1802.6,1399.2 L1805,1395.2 L1807.5,1390.9 L1810,1386.5 L1812.4,1382 L1814.9,1377.6 L1817.3,1373.3 L1819.8,1369.3 L1822.2,1365.8 L1824.7,1362.7 L1826.5,1361.7 L1828.3,1360.6 L1830,1359.6 L1831.8,1358.6 L1833.6,1357.7 L1835.4,1356.8 L1837.2,1355.9 L1839,1355.1 L1840.8,1354.4 L1842.5,1353.7 L1844.3,1353.1 L1846.1,1352.5 L1847.7,1352.4 L1849.3,1352.3 L1851,1352.2 L1852.6,1352.1 L1854.2,1352 L1855.8,1351.9 L1857.4,1351.8 L1859.1,1351.7 L1860.7,1351.6 L1862.3,1351.5 L1863.8,1351.3 L1865.3,1351 L1866.9,1350.7 L1868.4,1350.4 L1869.9,1350.1 L1871.5,1349.9 L1873,1349.7 L1874.5,1349.5 L1876.5,1350.5 L1878.6,1351.8 L1880.6,1353.4 L1882.6,1355.1 L1884.7,1357 L1886.7,1358.9 L1888.7,1361 L1890.8,1363.1 L1892.8,1365.1 L1894.8,1367.1 L1896.9,1369 L1898.9,1370.8 L1900.3,1371.9 L1901.6,1372.9 L1903,1374 L1904.4,1375 L1905.7,1376 L1907.1,1376.9 L1909.3,1377.8 L1911.5,1378.8 L1913.7,1379.7 L1915.9,1380.6 L1918.1,1381.5 L1920.3,1382.3 L1922.5,1383.1 L1924.7,1383.9 L1926.9,1384.5 L1929.1,1385.1 L1931.3,1385.7 L1933.5,1386.1 L1935,1386 L1936.5,1385.9 L1938.1,1385.8 L1939.6,1385.7 L1941.1,1385.5 L1942.7,1385.3 L1944.2,1385.2 L1945.7,1385 L1947.4,1384.5 L1949.1,1384 L1950.8,1383.4 L1952.5,1382.8 L1954.2,1382.1 L1955.9,1381.4 L1957.6,1380.6 L1959.3,1379.8 L1961,1378.9 L1962.5,1377.3 L1964,1375.4 L1965.5,1373.4 L1967.1,1371.3 L1968.6,1369 L1970.1,1366.7 L1971.4,1363.7 L1972.8,1360.6 L1974.2,1357.3 L1975.5,1353.8 L1976.8,1350.2 L1978.2,1346.4 L1979.6,1340.8 L1980.9,1334.9 L1982.3,1328.7 L1983.7,1322.1 L1985,1315.2 L1986.4,1307.8 L1987.6,1297.7 L1988.8,1286.8 L1990.1,1275.1 L1991.3,1263.1 L1992.5,1250.8 L1993.5,1239.2 L1994.5,1227.3 L1995.5,1214.5 L1996.5,1200 L1998,1140.8 L1999.6,1065.9 L2001.1,987.6 L2002.7,918.4 L2004.2,870.6 L2005.3,935.7 L2006.4,1029.2 L2007.5,1133 L2008.6,1229 L2009.6,1304 L2010.7,1377.5 L2011.8,1449.6 L2012.8,1520" fill="none" stroke="#5db531" stroke-width="3.3" stroke-linejoin="round" stroke-linecap="butt"/>
<path d="M1182.3,1511 L1173.8,1526 L1190.8,1526 z" fill="#fff" stroke="#5db531" stroke-width="1.4"/>
<path d="M1182.3,1511 L1176.6,1521 L1188,1521 z" fill="#5db531" stroke="#5db531" stroke-width="1.4"/>
<path d="M1194.6,1418.9 L1186.1,1433.9 L1203.1,1433.9 z" fill="#fff" stroke="#5db531" stroke-width="1.4"/>
<path d="M1194.6,1418.9 L1188.9,1429 L1200.3,1429 z" fill="#5db531" stroke="#5db531" stroke-width="1.4"/>
<path d="M1205.5,1376.9 L1197,1391.9 L1214,1391.9 z" fill="#fff" stroke="#5db531" stroke-width="1.4"/>
<path d="M1205.5,1376.9 L1199.8,1387 L1211.2,1387 z" fill="#5db531" stroke="#5db531" stroke-width="1.4"/>
<path d="M1228.7,1371.1 L1220.2,1386.1 L1237.2,1386.1 z" fill="#fff" stroke="#5db531" stroke-width="1.4"/>
<path d="M1228.7,1371.1 L1223,1381.1 L1234.4,1381.1 z" fill="#5db531" stroke="#5db531" stroke-width="1.4"/>
<path d="M1269.3,1376.9 L1260.8,1391.9 L1277.8,1391.9 z" fill="#fff" stroke="#5db531" stroke-width="1.4"/>
<path d="M1269.3,1376.9 L1263.6,1387 L1275,1387 z" fill="#5db531" stroke="#5db531" stroke-width="1.4"/>
<path d="M1304.1,1417.5 L1295.6,1432.5 L1312.6,1432.5 z" fill="#fff" stroke="#5db531" stroke-width="1.4"/>
<path d="M1304.1,1417.5 L1298.4,1427.5 L1309.8,1427.5 z" fill="#5db531" stroke="#5db531" stroke-width="1.4"/>
<path d="M1325.1,1463.9 L1316.6,1478.9 L1333.6,1478.9 z" fill="#fff" stroke="#5db531" stroke-width="1.4"/>
<path d="M1325.1,1463.9 L1319.4,1474 L1330.8,1474 z" fill="#5db531" stroke="#5db531" stroke-width="1.4"/>
<path d="M1341.1,1508.5 L1332.6,1523.5 L1349.6,1523.5 z" fill="#fff" stroke="#5db531" stroke-width="1.4"/>
<path d="M1341.1,1508.5 L1335.4,1518.5 L1346.8,1518.5 z" fill="#5db531" stroke="#5db531" stroke-width="1.4"/>
<path d="M1359.9,1509.5 L1351.4,1524.5 L1368.4,1524.5 z" fill="#fff" stroke="#5db531" stroke-width="1.4"/>
<path d="M1359.9,1509.5 L1354.2,1519.5 L1365.6,1519.5 z" fill="#5db531" stroke="#5db531" stroke-width="1.4"/>
<path d="M1382.4,1508.5 L1373.9,1523.5 L1390.9,1523.5 z" fill="#fff" stroke="#5db531" stroke-width="1.4"/>
<path d="M1382.4,1508.5 L1376.7,1518.5 L1388.1,1518.5 z" fill="#5db531" stroke="#5db531" stroke-width="1.4"/>
<path d="M1402,1474.7 L1393.5,1489.7 L1410.5,1489.7 z" fill="#fff" stroke="#5db531" stroke-width="1.4"/>
<path d="M1402,1474.7 L1396.3,1484.8 L1407.7,1484.8 z" fill="#5db531" stroke="#5db531" stroke-width="1.4"/>
<path d="M1437.5,1437 L1429,1452 L1446,1452 z" fill="#fff" stroke="#5db531" stroke-width="1.4"/>
<path d="M1437.5,1437 L1431.8,1447 L1443.2,1447 z" fill="#5db531" stroke="#5db531" stroke-width="1.4"/>
<path d="M1455.9,1450.1 L1447.4,1465.1 L1464.4,1465.1 z" fill="#fff" stroke="#5db531" stroke-width="1.4"/>
<path d="M1455.9,1450.1 L1450.2,1460.1 L1461.6,1460.1 z" fill="#5db531" stroke="#5db531" stroke-width="1.4"/>
<path d="M1489.3,1429.8 L1480.8,1444.8 L1497.8,1444.8 z" fill="#fff" stroke="#5db531" stroke-width="1.4"/>
<path d="M1489.3,1429.8 L1483.6,1439.8 L1495,1439.8 z" fill="#5db531" stroke="#5db531" stroke-width="1.4"/>
<path d="M1509.6,1432.7 L1501.1,1447.7 L1518.1,1447.7 z" fill="#fff" stroke="#5db531" stroke-width="1.4"/>
<path d="M1509.6,1432.7 L1503.9,1442.8 L1515.3,1442.8 z" fill="#5db531" stroke="#5db531" stroke-width="1.4"/>
<path d="M1541.5,1460.2 L1533,1475.2 L1550,1475.2 z" fill="#fff" stroke="#5db531" stroke-width="1.4"/>
<path d="M1541.5,1460.2 L1535.8,1470.2 L1547.2,1470.2 z" fill="#5db531" stroke="#5db531" stroke-width="1.4"/>
<path d="M1558.9,1437 L1550.4,1452 L1567.4,1452 z" fill="#fff" stroke="#5db531" stroke-width="1.4"/>
<path d="M1558.9,1437 L1553.2,1447 L1564.6,1447 z" fill="#5db531" stroke="#5db531" stroke-width="1.4"/>
<path d="M1593.7,1438.5 L1585.2,1453.5 L1602.2,1453.5 z" fill="#fff" stroke="#5db531" stroke-width="1.4"/>
<path d="M1593.7,1438.5 L1588,1448.5 L1599.4,1448.5 z" fill="#5db531" stroke="#5db531" stroke-width="1.4"/>
<path d="M1632.8,1468.9 L1624.3,1483.9 L1641.3,1483.9 z" fill="#fff" stroke="#5db531" stroke-width="1.4"/>
<path d="M1632.8,1468.9 L1627.1,1479 L1638.5,1479 z" fill="#5db531" stroke="#5db531" stroke-width="1.4"/>
<path d="M1667.6,1440.7 L1659.1,1455.7 L1676.1,1455.7 z" fill="#fff" stroke="#5db531" stroke-width="1.4"/>
<path d="M1667.6,1440.7 L1661.9,1450.8 L1673.3,1450.8 z" fill="#5db531" stroke="#5db531" stroke-width="1.4"/>
<path d="M1698.1,1432.7 L1689.6,1447.7 L1706.6,1447.7 z" fill="#fff" stroke="#5db531" stroke-width="1.4"/>
<path d="M1698.1,1432.7 L1692.4,1442.8 L1703.8,1442.8 z" fill="#5db531" stroke="#5db531" stroke-width="1.4"/>
<path d="M1715.5,1430.5 L1707,1445.5 L1724,1445.5 z" fill="#fff" stroke="#5db531" stroke-width="1.4"/>
<path d="M1715.5,1430.5 L1709.8,1440.5 L1721.2,1440.5 z" fill="#5db531" stroke="#5db531" stroke-width="1.4"/>
<path d="M1753.6,1441.6 L1745.1,1456.6 L1762.1,1456.6 z" fill="#fff" stroke="#5db531" stroke-width="1.4"/>
<path d="M1753.6,1441.6 L1747.9,1451.6 L1759.3,1451.6 z" fill="#5db531" stroke="#5db531" stroke-width="1.4"/>
<path d="M1787.1,1401.9 L1778.6,1416.9 L1795.6,1416.9 z" fill="#fff" stroke="#5db531" stroke-width="1.4"/>
<path d="M1787.1,1401.9 L1781.4,1412 L1792.8,1412 z" fill="#5db531" stroke="#5db531" stroke-width="1.4"/>
<path d="M1824.7,1355.2 L1816.2,1370.2 L1833.2,1370.2 z" fill="#fff" stroke="#5db531" stroke-width="1.4"/>
<path d="M1824.7,1355.2 L1819,1365.2 L1830.4,1365.2 z" fill="#5db531" stroke="#5db531" stroke-width="1.4"/>
<path d="M1898.9,1363.3 L1890.4,1378.3 L1907.4,1378.3 z" fill="#fff" stroke="#5db531" stroke-width="1.4"/>
<path d="M1898.9,1363.3 L1893.2,1373.3 L1904.6,1373.3 z" fill="#5db531" stroke="#5db531" stroke-width="1.4"/>
<path d="M1907.1,1369.4 L1898.6,1384.4 L1915.6,1384.4 z" fill="#fff" stroke="#5db531" stroke-width="1.4"/>
<path d="M1907.1,1369.4 L1901.4,1379.5 L1912.8,1379.5 z" fill="#5db531" stroke="#5db531" stroke-width="1.4"/>
<path d="M1941.6,1377.5 L1933.1,1392.5 L1950.1,1392.5 z" fill="#fff" stroke="#5db531" stroke-width="1.4"/>
<path d="M1941.6,1377.5 L1935.9,1387.5 L1947.3,1387.5 z" fill="#5db531" stroke="#5db531" stroke-width="1.4"/>
<path d="M1946.7,1377.5 L1938.2,1392.5 L1955.2,1392.5 z" fill="#fff" stroke="#5db531" stroke-width="1.4"/>
<path d="M1946.7,1377.5 L1941,1387.5 L1952.4,1387.5 z" fill="#5db531" stroke="#5db531" stroke-width="1.4"/>
<path d="M1961,1371.4 L1952.5,1386.4 L1969.5,1386.4 z" fill="#fff" stroke="#5db531" stroke-width="1.4"/>
<path d="M1961,1371.4 L1955.3,1381.5 L1966.7,1381.5 z" fill="#5db531" stroke="#5db531" stroke-width="1.4"/>
<path d="M1986.4,1298.2 L1977.9,1313.2 L1994.9,1313.2 z" fill="#fff" stroke="#5db531" stroke-width="1.4"/>
<path d="M1986.4,1298.2 L1980.7,1308.2 L1992.1,1308.2 z" fill="#5db531" stroke="#5db531" stroke-width="1.4"/>
<path d="M1997.5,1044.2 L1989,1059.2 L2006,1059.2 z" fill="#fff" stroke="#5db531" stroke-width="1.4"/>
<path d="M1997.5,1044.2 L1991.8,1054.2 L2003.2,1054.2 z" fill="#5db531" stroke="#5db531" stroke-width="1.4"/>
<path d="M2012.6,1510.8 L2004.1,1525.8 L2021.1,1525.8 z" fill="#fff" stroke="#5db531" stroke-width="1.4"/>
<path d="M2012.6,1510.8 L2006.9,1520.8 L2018.3,1520.8 z" fill="#5db531" stroke="#5db531" stroke-width="1.4"/>
<path d="M1182.3,1518.5 L1183.2,1501.2 L1184.1,1484.7 L1185,1470 L1186.3,1456.6 L1187.7,1443.8 L1189,1432.2 L1190.4,1422.2 L1191.7,1414.1 L1193.4,1411.6 L1195.2,1409.2 L1196.9,1407 L1198.7,1405 L1200.4,1403.2 L1202.1,1401.6 L1203.9,1400.1 L1205.6,1398.8 L1207.4,1397.7 L1209.1,1396.7 L1210.8,1397.3 L1212.6,1398.1 L1214.3,1399 L1216.1,1400 L1217.8,1401.1 L1219.5,1402.3 L1221.3,1403.4 L1223,1404.6 L1224.8,1405.7 L1226.5,1406.8 L1230.1,1409 L1233.6,1411.2 L1237.2,1413.4 L1240.8,1415.7 L1244.3,1418 L1247.9,1420.2 L1251.5,1422.5 L1255,1424.7 L1258.6,1426.8 L1262.2,1429 L1265.7,1431 L1269.3,1433 L1271.9,1434.2 L1274.5,1435.3 L1277.1,1436.5 L1279.7,1437.7 L1282.3,1438.9 L1284.9,1440.1 L1287.5,1441.2 L1290.1,1442.2 L1292.7,1443.1 L1295.3,1444 L1297.9,1444.7 L1300.5,1445.3 L1302.1,1445.1 L1303.7,1444.9 L1305.3,1444.6 L1306.9,1444.4 L1308.6,1444 L1310.2,1443.8 L1311.8,1443.5 L1313.4,1443.3 L1315,1443.1 L1316.2,1445.6 L1317.4,1449.2 L1318.6,1453.4 L1319.8,1457.8 L1321,1462 L1322.4,1467.7 L1323.8,1473.9 L1325.2,1480.1 L1326.7,1486.3 L1328.1,1492.2 L1329.5,1497.5 L1331,1501.3 L1332.5,1505.2 L1334,1508.9 L1335.5,1512.2 L1337,1515 L1338.5,1517 L1342,1517 L1345.5,1517 L1348.9,1517 L1352.4,1517 L1355.9,1517 L1359.3,1517 L1362.8,1517 L1366.3,1517 L1369.8,1517 L1373.2,1517 L1376.7,1517 L1380.2,1517 L1382.4,1515.7 L1384.5,1514.1 L1386.7,1512.3 L1388.9,1510.3 L1391.1,1508.1 L1393.2,1505.7 L1395.4,1503.1 L1397.6,1500.5 L1399.8,1497.7 L1402,1494.8 L1404.1,1491.9 L1406.3,1489 L1408,1484.8 L1409.7,1479.9 L1411.4,1474.7 L1413.2,1469.2 L1414.9,1463.8 L1416.6,1458.7 L1418.3,1454 L1420,1450 L1421.8,1448.1 L1423.5,1446.2 L1425.2,1444.4 L1427,1442.7 L1428.8,1441.1 L1430.5,1439.6 L1432.2,1438.2 L1434,1437 L1435.8,1435.9 L1437.5,1435.1 L1439.1,1435.5 L1440.8,1436.1 L1442.4,1436.8 L1444.1,1437.5 L1445.7,1438.3 L1447.4,1439.2 L1449,1440 L1450.7,1440.7 L1452.3,1441.4 L1454,1442 L1455.6,1442.4 L1457.3,1441.9 L1459,1441.3 L1460.7,1440.5 L1462.4,1439.6 L1464.1,1438.7 L1465.8,1437.7 L1467.5,1436.7 L1469.2,1435.7 L1470.9,1434.7 L1472.6,1433.7 L1474.3,1432.4 L1476,1430.9 L1477.7,1429.3 L1479.4,1427.6 L1481.1,1425.9 L1482.8,1424.2 L1484.4,1422.5 L1486.1,1421 L1487.8,1419.5 L1489.5,1418.2 L1491.2,1417.2 L1492.9,1416.3 L1494.6,1416.3 L1496.4,1416.4 L1498.1,1416.4 L1499.9,1416.5 L1501.6,1416.6 L1503.3,1416.6 L1505.1,1416.7 L1506.8,1416.8 L1508.6,1416.9 L1510.3,1417 L1511.6,1419.6 L1513,1423.2 L1514.3,1427.4 L1515.6,1431.8 L1517,1436.2 L1518.3,1440.2 L1519.8,1443.9 L1521.2,1447.8 L1522.7,1451.7 L1524.1,1455.2 L1525.5,1458.3 L1527,1460.5 L1528.7,1460.6 L1530.3,1460.8 L1532,1460.9 L1533.6,1461 L1535.3,1461.1 L1536.9,1461.1 L1538.6,1461.2 L1540.3,1459.9 L1541.9,1458.1 L1543.6,1456 L1545.2,1453.7 L1546.9,1451.2 L1548.5,1448.6 L1550.2,1446 L1551.7,1442.4 L1553.1,1438.3 L1554.6,1434 L1556,1429.8 L1557.5,1425.9 L1558.9,1422.8 L1560.7,1421.4 L1562.4,1420.1 L1564.2,1418.8 L1566,1417.6 L1567.7,1416.5 L1569.5,1415.6 L1571.3,1414.7 L1573,1414 L1574.8,1413.4 L1576.5,1414.2 L1578.2,1415.4 L1580,1416.7 L1581.7,1418.2 L1583.4,1419.8 L1585.1,1421.5 L1586.8,1423.1 L1588.5,1424.6 L1590.3,1425.9 L1592,1427.1 L1593.7,1427.9 L1595.4,1426.9 L1597.1,1425.6 L1598.8,1423.9 L1600.5,1422.1 L1602.2,1420.2 L1604,1418.2 L1605.7,1416.3 L1607.4,1414.5 L1609.1,1412.8 L1610.8,1411.5 L1612.5,1410.5 L1614,1412.1 L1615.4,1414.3 L1616.9,1417 L1618.3,1419.9 L1619.8,1422.8 L1621.5,1428.6 L1623.1,1435.4 L1624.8,1442.7 L1626.4,1450.1 L1628.1,1457 L1629.7,1463.1 L1631.4,1467.7 L1632.6,1468.3 L1633.8,1468.8 L1635,1469.2 L1636.6,1466.8 L1638.1,1463.6 L1639.7,1459.8 L1641.2,1455.7 L1642.8,1451.3 L1644.3,1447.1 L1645.9,1443.1 L1647.5,1439.1 L1649,1434.9 L1650.6,1430.5 L1652.1,1426.4 L1653.7,1422.6 L1655.2,1419.4 L1656.8,1417 L1658.3,1418.2 L1659.9,1420 L1661.4,1422 L1663,1424.2 L1664.5,1426.4 L1666.1,1428.4 L1667.6,1430 L1669.1,1430.7 L1670.5,1431.3 L1672,1431.9 L1673.4,1432.5 L1674.9,1433 L1676.3,1433.4 L1677.8,1433.7 L1679.2,1433.3 L1680.7,1432.8 L1682.2,1432.1 L1683.6,1431.5 L1685,1430.7 L1686.5,1430 L1688.2,1428.7 L1689.8,1427.3 L1691.5,1425.7 L1693.1,1424.1 L1694.8,1422.7 L1696.4,1421.5 L1698.1,1420.6 L1699.8,1421.5 L1701.4,1422.9 L1703.1,1424.5 L1704.7,1426.1 L1706.4,1427.7 L1708,1429.1 L1709.7,1430 L1711.1,1428.6 L1712.6,1426.7 L1714,1424.4 L1715.5,1421.9 L1716.9,1419.5 L1718.4,1417.3 L1719.8,1415.5 L1721.3,1414.7 L1722.7,1414 L1724.2,1413.3 L1725.6,1412.6 L1727.1,1412 L1728.5,1411.6 L1730,1411.2 L1732,1412.4 L1733.9,1413.9 L1735.9,1415.8 L1737.9,1417.9 L1739.8,1420.2 L1741.8,1422.5 L1743.8,1424.8 L1745.7,1427.1 L1747.7,1429.2 L1749.7,1431.1 L1751.6,1432.6 L1753.6,1433.8 L1755.3,1426.8 L1757,1417.3 L1758.8,1405.9 L1760.5,1393.2 L1762.2,1379.8 L1763.9,1366.3 L1765.6,1353.4 L1767.4,1341.6 L1769.1,1331.6 L1770.8,1324 L1772.2,1323.1 L1773.5,1322.3 L1774.9,1321.6 L1776.3,1320.9 L1777.6,1320.4 L1779,1320 L1780.3,1320.5 L1781.7,1321.3 L1783,1322.2 L1784.4,1323.1 L1785.8,1324.1 L1787.1,1325 L1788.3,1325.9 L1789.5,1326.8 L1790.8,1327.7 L1792,1328.5 L1793.2,1329.1 L1795.7,1329.1 L1798.3,1329.1 L1800.8,1329.1 L1803.4,1329.1 L1805.9,1329.1 L1808.5,1329.1 L1811,1329.1 L1813.5,1329.1 L1816.1,1329.1 L1818.6,1329.1 L1821.2,1329.1 L1823.7,1329.1 L1825.6,1328.5 L1827.4,1327.7 L1829.3,1326.7 L1831.2,1325.6 L1833,1324.5 L1834.9,1323.3 L1836.8,1322 L1838.6,1320.7 L1840.5,1319.4 L1842.4,1318.2 L1844.2,1317 L1846.1,1315.9 L1848.1,1314.8 L1850.2,1313.7 L1852.2,1312.5 L1854.2,1311.3 L1856.3,1310.1 L1858.3,1309 L1860.3,1307.9 L1862.4,1306.8 L1864.4,1305.9 L1866.4,1305 L1868.5,1304.3 L1870.5,1303.7 L1873.5,1305.2 L1876.6,1307 L1879.7,1309 L1882.7,1311.3 L1885.8,1313.8 L1888.8,1316.6 L1891.8,1319.4 L1894.9,1322.4 L1897.9,1325.6 L1901,1328.7 L1904,1332 L1907.1,1335.2 L1910.3,1341.5 L1913.5,1348.5 L1916.8,1356.1 L1920,1364.2 L1923.2,1372.6 L1926.4,1381.1 L1929.6,1389.7 L1932.8,1398.1 L1936,1406.2 L1939.3,1414 L1942.5,1421.2 L1945.7,1427.7 L1947.4,1429.7 L1949,1431.8 L1950.7,1433.7 L1952.3,1435.6 L1954,1437.4 L1955.6,1439.1 L1957.2,1440.6 L1958.9,1442 L1960.7,1442.6 L1962.4,1443.2 L1964.2,1443.8 L1965.9,1444.3 L1967.7,1444.8 L1969.4,1445.3 L1971.2,1445.8 L1972.9,1446.2 L1974.7,1446.5 L1976.4,1446.8 L1978.2,1447.1 L1979.7,1445.7 L1981.1,1444 L1982.6,1442 L1984,1439.6 L1985.5,1436.8 L1986.9,1433.5 L1988.4,1429.8 L1989.4,1404.9 L1990.5,1371.5 L1991.5,1342.3 L1992.5,1330 L1993.5,1319.6 L1994.5,1309.3 L1995.5,1297.6 L1996.6,1276.4 L1997.7,1253.2 L1998.7,1227.8 L1999.8,1200 L2000.9,1144.6 L2002,1078.9 L2003.1,1017.5 L2004.2,975 L2005.2,1020.2 L2006.3,1085 L2007.4,1158.3 L2008.4,1229 L2009.5,1299.9 L2010.5,1372.1 L2011.5,1445.5 L2012.6,1520" fill="none" stroke="#ee1d23" stroke-width="3.3" stroke-linejoin="round" stroke-linecap="butt"/>
<circle cx="1182.3" cy="1518.5" r="7.2" fill="#fff" stroke="#ee1d23" stroke-width="1.4"/>
<path d="M1174.5,1519 a7.8,7.8 0 0 1 15.6,0 z" fill="#ee1d23"/>
<circle cx="1193.9" cy="1411.2" r="7.2" fill="#fff" stroke="#ee1d23" stroke-width="1.4"/>
<path d="M1186.1,1411.7 a7.8,7.8 0 0 1 15.6,0 z" fill="#ee1d23"/>
<circle cx="1226.5" cy="1409" r="7.2" fill="#fff" stroke="#ee1d23" stroke-width="1.4"/>
<path d="M1218.7,1409.5 a7.8,7.8 0 0 1 15.6,0 z" fill="#ee1d23"/>
<circle cx="1269.3" cy="1434.4" r="7.2" fill="#fff" stroke="#ee1d23" stroke-width="1.4"/>
<path d="M1261.5,1434.9 a7.8,7.8 0 0 1 15.6,0 z" fill="#ee1d23"/>
<circle cx="1315" cy="1443.1" r="7.2" fill="#fff" stroke="#ee1d23" stroke-width="1.4"/>
<path d="M1307.2,1443.6 a7.8,7.8 0 0 1 15.6,0 z" fill="#ee1d23"/>
<circle cx="1338.9" cy="1517" r="7.2" fill="#fff" stroke="#ee1d23" stroke-width="1.4"/>
<path d="M1331.1,1517.5 a7.8,7.8 0 0 1 15.6,0 z" fill="#ee1d23"/>
<circle cx="1365.7" cy="1516" r="7.2" fill="#fff" stroke="#ee1d23" stroke-width="1.4"/>
<path d="M1357.9,1516.5 a7.8,7.8 0 0 1 15.6,0 z" fill="#ee1d23"/>
<circle cx="1406.3" cy="1492.4" r="7.2" fill="#fff" stroke="#ee1d23" stroke-width="1.4"/>
<path d="M1398.5,1492.9 a7.8,7.8 0 0 1 15.6,0 z" fill="#ee1d23"/>
<circle cx="1437.5" cy="1435.8" r="7.2" fill="#fff" stroke="#ee1d23" stroke-width="1.4"/>
<path d="M1429.7,1436.3 a7.8,7.8 0 0 1 15.6,0 z" fill="#ee1d23"/>
<circle cx="1472.6" cy="1433.7" r="7.2" fill="#fff" stroke="#ee1d23" stroke-width="1.4"/>
<path d="M1464.8,1434.2 a7.8,7.8 0 0 1 15.6,0 z" fill="#ee1d23"/>
<circle cx="1510.3" cy="1417" r="7.2" fill="#fff" stroke="#ee1d23" stroke-width="1.4"/>
<path d="M1502.5,1417.5 a7.8,7.8 0 0 1 15.6,0 z" fill="#ee1d23"/>
<circle cx="1561.8" cy="1420.6" r="7.2" fill="#fff" stroke="#ee1d23" stroke-width="1.4"/>
<path d="M1554,1421.1 a7.8,7.8 0 0 1 15.6,0 z" fill="#ee1d23"/>
<circle cx="1574.8" cy="1413.4" r="7.2" fill="#fff" stroke="#ee1d23" stroke-width="1.4"/>
<path d="M1567,1413.9 a7.8,7.8 0 0 1 15.6,0 z" fill="#ee1d23"/>
<circle cx="1612.5" cy="1406.8" r="7.2" fill="#fff" stroke="#ee1d23" stroke-width="1.4"/>
<path d="M1604.7,1407.3 a7.8,7.8 0 0 1 15.6,0 z" fill="#ee1d23"/>
<circle cx="1656.8" cy="1417.7" r="7.2" fill="#fff" stroke="#ee1d23" stroke-width="1.4"/>
<path d="M1649,1418.2 a7.8,7.8 0 0 1 15.6,0 z" fill="#ee1d23"/>
<circle cx="1698.1" cy="1420.6" r="7.2" fill="#fff" stroke="#ee1d23" stroke-width="1.4"/>
<path d="M1690.3,1421.1 a7.8,7.8 0 0 1 15.6,0 z" fill="#ee1d23"/>
<circle cx="1730" cy="1410.5" r="7.2" fill="#fff" stroke="#ee1d23" stroke-width="1.4"/>
<path d="M1722.2,1411 a7.8,7.8 0 0 1 15.6,0 z" fill="#ee1d23"/>
<circle cx="1752.5" cy="1433.8" r="7.2" fill="#fff" stroke="#ee1d23" stroke-width="1.4"/>
<path d="M1744.7,1434.3 a7.8,7.8 0 0 1 15.6,0 z" fill="#ee1d23"/>
<circle cx="1788.1" cy="1325" r="7.2" fill="#fff" stroke="#ee1d23" stroke-width="1.4"/>
<path d="M1780.3,1325.5 a7.8,7.8 0 0 1 15.6,0 z" fill="#ee1d23"/>
<circle cx="1870.5" cy="1303.7" r="7.2" fill="#fff" stroke="#ee1d23" stroke-width="1.4"/>
<path d="M1862.7,1304.2 a7.8,7.8 0 0 1 15.6,0 z" fill="#ee1d23"/>
<circle cx="1907.1" cy="1335.2" r="7.2" fill="#fff" stroke="#ee1d23" stroke-width="1.4"/>
<path d="M1899.3,1335.7 a7.8,7.8 0 0 1 15.6,0 z" fill="#ee1d23"/>
<circle cx="1945.7" cy="1427.7" r="7.2" fill="#fff" stroke="#ee1d23" stroke-width="1.4"/>
<path d="M1937.9,1428.2 a7.8,7.8 0 0 1 15.6,0 z" fill="#ee1d23"/>
<circle cx="1958.9" cy="1442" r="7.2" fill="#fff" stroke="#ee1d23" stroke-width="1.4"/>
<path d="M1951.1,1442.5 a7.8,7.8 0 0 1 15.6,0 z" fill="#ee1d23"/>
<circle cx="1978.2" cy="1447.1" r="7.2" fill="#fff" stroke="#ee1d23" stroke-width="1.4"/>
<path d="M1970.4,1447.6 a7.8,7.8 0 0 1 15.6,0 z" fill="#ee1d23"/>
<circle cx="1995.5" cy="1297.6" r="7.2" fill="#fff" stroke="#ee1d23" stroke-width="1.4"/>
<path d="M1987.7,1298.1 a7.8,7.8 0 0 1 15.6,0 z" fill="#ee1d23"/>
<circle cx="2012.6" cy="1518.3" r="7.2" fill="#fff" stroke="#ee1d23" stroke-width="1.4"/>
<path d="M2004.8,1518.8 a7.8,7.8 0 0 1 15.6,0 z" fill="#ee1d23"/>
<path d="M1182.3,1518.5 L1183,1501 L1183.8,1484.4 L1184.5,1470 L1186,1454.8 L1187.4,1441.2 L1188.8,1429.5 L1190.3,1420 L1191.8,1417.1 L1193.2,1414.7 L1194.7,1412.5 L1196.1,1410.5 L1197.5,1408.6 L1199,1406.8 L1200.6,1405.4 L1202.2,1404 L1203.9,1402.6 L1205.5,1401.3 L1207.1,1400.1 L1208.8,1399 L1210.4,1398.1 L1212,1397.4 L1213.3,1397.6 L1214.7,1397.8 L1216,1398.1 L1217.3,1398.4 L1218.7,1398.7 L1220,1399 L1221.3,1399.5 L1222.7,1400.2 L1224,1400.9 L1225.3,1401.5 L1226.7,1402.1 L1228,1402.5 L1229.4,1402.4 L1230.9,1402.1 L1232.3,1401.9 L1233.8,1401.6 L1235.2,1401.4 L1236.7,1401.1 L1238.1,1401 L1240.8,1402.1 L1243.4,1403.5 L1246.1,1405 L1248.7,1406.8 L1251.4,1408.7 L1254,1410.8 L1256.7,1413 L1259.4,1415.2 L1262,1417.5 L1264.7,1419.8 L1267.3,1422.1 L1270,1424.3 L1271.7,1426.2 L1273.4,1428.2 L1275.2,1430.4 L1276.9,1432.5 L1278.6,1434.7 L1280.3,1437 L1282,1439.2 L1283.7,1441.4 L1285.5,1443.5 L1287.2,1445.5 L1288.9,1447.4 L1290.6,1448.8 L1292.4,1450.2 L1294.1,1451.6 L1295.9,1452.9 L1297.6,1454.3 L1299.3,1455.5 L1301.1,1456.8 L1302.8,1458 L1304.6,1459.3 L1306.3,1460.5 L1307.8,1461.4 L1309.2,1462.1 L1310.7,1462.9 L1312.1,1463.7 L1313.5,1464.6 L1315,1465.6 L1316.6,1468.3 L1318.2,1471.3 L1319.8,1474.6 L1321.4,1478.2 L1323.1,1481.9 L1324.7,1485.7 L1326.3,1489.5 L1327.9,1493.2 L1329.5,1496.7 L1330.9,1499.8 L1332.4,1503.1 L1333.8,1506.5 L1335.3,1509.8 L1336.7,1512.7 L1338.2,1515.2 L1339.6,1517 L1343,1517 L1346.4,1517 L1349.8,1517 L1353.1,1517 L1356.5,1517 L1359.9,1517 L1363.3,1517 L1366.7,1517 L1370,1517 L1373.4,1517 L1376.8,1517 L1380.2,1517 L1382.1,1515.7 L1384,1514.1 L1385.8,1512.3 L1387.7,1510.2 L1389.6,1508 L1391.5,1505.6 L1393.3,1503.1 L1395.2,1500.4 L1397.1,1497.7 L1399,1495 L1400.8,1492.2 L1402.7,1489.5 L1404.4,1485.8 L1406,1481.6 L1407.7,1477.2 L1409.4,1472.6 L1411.1,1467.9 L1412.7,1463.2 L1414.4,1458.8 L1416.1,1454.6 L1417.7,1450.7 L1419.4,1447.4 L1421,1445.9 L1422.7,1444.4 L1424.3,1443 L1426,1441.6 L1427.6,1440.3 L1429.3,1439 L1430.9,1437.9 L1432.6,1436.8 L1434.2,1435.9 L1435.9,1435.1 L1437.5,1434.4 L1439.2,1435.9 L1440.8,1437.9 L1442.5,1440.3 L1444.2,1443.1 L1445.9,1446 L1447.5,1448.9 L1449.2,1451.8 L1450.9,1454.6 L1452.6,1457 L1454.2,1459 L1455.9,1460.5 L1457.6,1459.5 L1459.3,1458.3 L1461,1456.9 L1462.7,1455.3 L1464.4,1453.6 L1466.1,1451.7 L1467.7,1449.8 L1469.4,1447.9 L1471.1,1445.9 L1472.8,1443.9 L1474.5,1442 L1476.2,1440.2 L1477.9,1438.2 L1479.5,1435.9 L1481.2,1433.6 L1482.9,1431.2 L1484.6,1428.9 L1486.2,1426.7 L1487.9,1424.6 L1489.6,1422.7 L1491.2,1421.1 L1492.9,1419.9 L1494.6,1420.5 L1496.3,1421.2 L1498,1422 L1499.7,1423 L1501.3,1424 L1503,1425.1 L1504.7,1426.3 L1506.4,1427.4 L1508.1,1428.6 L1509.8,1430.7 L1511.5,1433 L1513.3,1435.6 L1515,1438.4 L1516.7,1441.2 L1518.4,1444 L1520.1,1446.7 L1521.8,1449.2 L1523.6,1451.4 L1525.3,1453.3 L1527,1454.7 L1528.6,1454.2 L1530.2,1453.6 L1531.8,1452.9 L1533.4,1452.2 L1535.1,1451.3 L1536.7,1450.4 L1538.3,1449.4 L1539.9,1448.4 L1541.5,1447.4 L1543.1,1445.5 L1544.8,1443.5 L1546.4,1441.3 L1548,1439 L1549.6,1436.5 L1551.2,1434 L1552.9,1431.3 L1554.5,1428.6 L1555.6,1425.8 L1556.7,1422.7 L1557.8,1419.6 L1558.9,1417 L1560.7,1414.8 L1562.4,1412.7 L1564.2,1410.7 L1566,1408.8 L1567.7,1407 L1569.5,1405.4 L1571.3,1404 L1573,1402.8 L1574.8,1401.8 L1576.5,1401.8 L1578.2,1401.9 L1580,1402 L1581.7,1402 L1583.4,1402.1 L1585.1,1402.2 L1586.8,1402.3 L1588.5,1402.3 L1590.3,1402.4 L1592,1402.5 L1593.7,1402.5 L1595.4,1401.6 L1597.1,1400.5 L1598.8,1399 L1600.5,1397.5 L1602.2,1395.8 L1604,1394 L1605.7,1392.3 L1607.4,1390.8 L1609.1,1389.3 L1610.8,1388.2 L1612.5,1387.3 L1614,1389.7 L1615.4,1393.1 L1616.9,1397.1 L1618.3,1401.3 L1619.8,1405.4 L1621.4,1411 L1623,1417.3 L1624.7,1423.9 L1626.3,1430.6 L1627.9,1437 L1629.5,1442.8 L1631.2,1447.9 L1632.8,1451.8 L1634.1,1452.2 L1635.3,1452.6 L1636.6,1453 L1637.9,1453.2 L1639.7,1450.3 L1641.5,1446.4 L1643.2,1441.7 L1645,1436.4 L1646.8,1430.7 L1648.6,1425 L1650.4,1419.3 L1652.2,1414 L1653.9,1409.3 L1655.7,1405.4 L1657.5,1402.5 L1658.9,1403.5 L1660.4,1404.9 L1661.8,1406.7 L1663.3,1408.4 L1664.7,1410.2 L1666.2,1411.6 L1667.6,1412.6 L1669.3,1412.6 L1670.9,1412.6 L1672.6,1412.6 L1674.2,1412.6 L1675.9,1412.6 L1677.5,1412.6 L1679.2,1412.6 L1680.8,1411.8 L1682.5,1410.7 L1684.1,1409.4 L1685.8,1407.9 L1687.4,1406.4 L1689,1405.1 L1690.7,1404 L1692.3,1403.2 L1694,1403.9 L1695.7,1404.9 L1697.4,1406 L1699.1,1407.3 L1700.8,1408.7 L1702.6,1410 L1704.3,1411.4 L1706,1412.7 L1707.7,1413.8 L1709.4,1414.8 L1711.1,1415.5 L1712.2,1413.8 L1713.3,1411.4 L1714.4,1408.9 L1715.5,1406.8 L1716.9,1405.5 L1718.4,1404.4 L1719.8,1403.3 L1721.3,1402.4 L1722.7,1401.8 L1724.2,1401.8 L1725.6,1401.8 L1727.1,1401.8 L1728.5,1401.8 L1730,1401.8 L1731.4,1401.8 L1733.2,1403.3 L1735.1,1405.3 L1737,1407.7 L1738.8,1410.4 L1740.7,1413.3 L1742.5,1416.3 L1744.3,1419.3 L1746.2,1422.2 L1748,1424.9 L1749.9,1427.3 L1751.8,1429.3 L1753.6,1430.8 L1755.3,1425.9 L1756.9,1419.3 L1758.6,1411.4 L1760.3,1402.4 L1761.9,1392.9 L1763.6,1383.3 L1765.2,1373.8 L1766.9,1364.8 L1768.6,1356.9 L1770.2,1350.3 L1771.9,1345.4 L1773.4,1345.4 L1774.9,1345.4 L1776.5,1345.4 L1778,1345.4 L1779.5,1345.4 L1781,1345.4 L1782.5,1346.7 L1784.1,1348.7 L1785.6,1351 L1787.1,1353.3 L1788.7,1355.3 L1790.2,1356.6 L1793.1,1353.5 L1796,1349.5 L1798.8,1344.8 L1801.7,1339.6 L1804.6,1333.9 L1807.5,1327.9 L1810.3,1321.7 L1813.2,1315.5 L1816.1,1309.5 L1819,1303.7 L1821.8,1298.3 L1824.7,1293.5 L1827,1290.9 L1829.3,1288.3 L1831.6,1285.8 L1833.9,1283.3 L1836.2,1281 L1838.5,1278.6 L1840.7,1276.3 L1843,1274 L1845.3,1271.8 L1847.6,1269.5 L1849.9,1267.3 L1852.2,1265.1 L1854.4,1263.2 L1856.6,1261.3 L1858.8,1259.3 L1861,1257.4 L1863.2,1255.5 L1865.4,1253.6 L1867.6,1251.8 L1869.8,1250 L1872,1248.3 L1874.2,1246.6 L1876.4,1245.1 L1878.6,1243.7 L1880.6,1243 L1882.7,1242.2 L1884.7,1241.5 L1886.7,1240.8 L1888.8,1240.1 L1890.8,1239.5 L1892.8,1238.9 L1894.9,1238.3 L1896.9,1237.8 L1898.9,1237.3 L1901,1236.9 L1903,1236.6 L1904,1237.3 L1905,1238.4 L1906.1,1239.6 L1907.1,1240.7 L1909.2,1243 L1911.3,1245.3 L1913.4,1247.6 L1915.6,1250 L1917.7,1252.3 L1919.8,1254.6 L1921.9,1257.1 L1924,1259.5 L1926.2,1262 L1928.3,1264.7 L1930.4,1267.4 L1932.5,1270.2 L1934.2,1273.5 L1935.9,1277 L1937.6,1280.7 L1939.3,1284.5 L1940.9,1288.4 L1942.6,1292.3 L1944.3,1296.2 L1946,1300 L1947.7,1303.7 L1949.2,1306.7 L1950.6,1309.6 L1952.1,1312.5 L1953.5,1315.4 L1955,1318.3 L1956.4,1321.2 L1957.9,1324 L1959.2,1326.4 L1960.6,1328.9 L1962,1331.3 L1963.3,1333.7 L1964.7,1336 L1966,1338.3 L1967.5,1340.4 L1968.9,1342.5 L1970.4,1344.6 L1971.8,1346.6 L1973.3,1348.6 L1974.7,1350.6 L1976.2,1352.5 L1977.7,1354.3 L1979.1,1356.1 L1980.6,1358 L1982,1359.8 L1983.5,1361.4 L1984.9,1362.7 L1986.4,1363.7 L1987.7,1356 L1989,1345 L1990.2,1332.8 L1991.5,1322 L1992.5,1316.4 L1993.5,1311.4 L1994.5,1306.1 L1995.5,1299.6 L1996.5,1279.9 L1997.5,1255.9 L1998.6,1228.8 L1999.6,1200 L2000.8,1141.3 L2001.9,1072.1 L2003,1007.6 L2004.2,963 L2005.2,1010.5 L2006.3,1078.6 L2007.4,1155.4 L2008.4,1229 L2009.5,1300.5 L2010.5,1372.9 L2011.5,1446.1 L2012.6,1520" fill="none" stroke="#3150a6" stroke-width="3.5" stroke-linejoin="round" stroke-linecap="butt"/>
<path d="M1182.3,1509.5 L1191.3,1518.5 L1182.3,1527.5 L1173.3,1518.5 z M1173.3,1518.5 h18 M1182.3,1509.5 v18" fill="none" stroke="#3150a6" stroke-width="1.4"/>
<path d="M1190.3,1405.1 L1199.3,1414.1 L1190.3,1423.1 L1181.3,1414.1 z M1181.3,1414.1 h18 M1190.3,1405.1 v18" fill="none" stroke="#3150a6" stroke-width="1.4"/>
<path d="M1199,1397.8 L1208,1406.8 L1199,1415.8 L1190,1406.8 z M1190,1406.8 h18 M1199,1397.8 v18" fill="none" stroke="#3150a6" stroke-width="1.4"/>
<path d="M1216.4,1387.7 L1225.4,1396.7 L1216.4,1405.7 L1207.4,1396.7 z M1207.4,1396.7 h18 M1216.4,1387.7 v18" fill="none" stroke="#3150a6" stroke-width="1.4"/>
<path d="M1234.5,1392 L1243.5,1401 L1234.5,1410 L1225.5,1401 z M1225.5,1401 h18 M1234.5,1392 v18" fill="none" stroke="#3150a6" stroke-width="1.4"/>
<path d="M1270,1413.8 L1279,1422.8 L1270,1431.8 L1261,1422.8 z M1261,1422.8 h18 M1270,1413.8 v18" fill="none" stroke="#3150a6" stroke-width="1.4"/>
<path d="M1288.9,1437 L1297.9,1446 L1288.9,1455 L1279.9,1446 z M1279.9,1446 h18 M1288.9,1437 v18" fill="none" stroke="#3150a6" stroke-width="1.4"/>
<path d="M1315,1455.8 L1324,1464.8 L1315,1473.8 L1306,1464.8 z M1306,1464.8 h18 M1315,1455.8 v18" fill="none" stroke="#3150a6" stroke-width="1.4"/>
<path d="M1329.5,1489.2 L1338.5,1498.2 L1329.5,1507.2 L1320.5,1498.2 z M1320.5,1498.2 h18 M1329.5,1489.2 v18" fill="none" stroke="#3150a6" stroke-width="1.4"/>
<path d="M1346.9,1508 L1355.9,1517 L1346.9,1526 L1337.9,1517 z M1337.9,1517 h18 M1346.9,1508 v18" fill="none" stroke="#3150a6" stroke-width="1.4"/>
<path d="M1359.9,1508 L1368.9,1517 L1359.9,1526 L1350.9,1517 z M1350.9,1517 h18 M1359.9,1508 v18" fill="none" stroke="#3150a6" stroke-width="1.4"/>
<path d="M1372.3,1508 L1381.3,1517 L1372.3,1526 L1363.3,1517 z M1363.3,1517 h18 M1372.3,1508 v18" fill="none" stroke="#3150a6" stroke-width="1.4"/>
<path d="M1402.7,1483.4 L1411.7,1492.4 L1402.7,1501.4 L1393.7,1492.4 z M1393.7,1492.4 h18 M1402.7,1483.4 v18" fill="none" stroke="#3150a6" stroke-width="1.4"/>
<path d="M1419.4,1437.7 L1428.4,1446.7 L1419.4,1455.7 L1410.4,1446.7 z M1410.4,1446.7 h18 M1419.4,1437.7 v18" fill="none" stroke="#3150a6" stroke-width="1.4"/>
<path d="M1437.5,1423.9 L1446.5,1432.9 L1437.5,1441.9 L1428.5,1432.9 z M1428.5,1432.9 h18 M1437.5,1423.9 v18" fill="none" stroke="#3150a6" stroke-width="1.4"/>
<path d="M1455.9,1452.9 L1464.9,1461.9 L1455.9,1470.9 L1446.9,1461.9 z M1446.9,1461.9 h18 M1455.9,1452.9 v18" fill="none" stroke="#3150a6" stroke-width="1.4"/>
<path d="M1492.9,1415.2 L1501.9,1424.2 L1492.9,1433.2 L1483.9,1424.2 z M1483.9,1424.2 h18 M1492.9,1415.2 v18" fill="none" stroke="#3150a6" stroke-width="1.4"/>
<path d="M1498,1415 L1507,1424 L1498,1433 L1489,1424 z M1489,1424 h18 M1498,1415 v18" fill="none" stroke="#3150a6" stroke-width="1.4"/>
<path d="M1527,1444.2 L1536,1453.2 L1527,1462.2 L1518,1453.2 z M1518,1453.2 h18 M1527,1444.2 v18" fill="none" stroke="#3150a6" stroke-width="1.4"/>
<path d="M1540,1438.4 L1549,1447.4 L1540,1456.4 L1531,1447.4 z M1531,1447.4 h18 M1540,1438.4 v18" fill="none" stroke="#3150a6" stroke-width="1.4"/>
<path d="M1558.2,1408 L1567.2,1417 L1558.2,1426 L1549.2,1417 z M1549.2,1417 h18 M1558.2,1408 v18" fill="none" stroke="#3150a6" stroke-width="1.4"/>
<path d="M1574.8,1392 L1583.8,1401 L1574.8,1410 L1565.8,1401 z M1565.8,1401 h18 M1574.8,1392 v18" fill="none" stroke="#3150a6" stroke-width="1.4"/>
<path d="M1593,1394.2 L1602,1403.2 L1593,1412.2 L1584,1403.2 z M1584,1403.2 h18 M1593,1394.2 v18" fill="none" stroke="#3150a6" stroke-width="1.4"/>
<path d="M1614,1373.9 L1623,1382.9 L1614,1391.9 L1605,1382.9 z M1605,1382.9 h18 M1614,1373.9 v18" fill="none" stroke="#3150a6" stroke-width="1.4"/>
<path d="M1637.9,1438.4 L1646.9,1447.4 L1637.9,1456.4 L1628.9,1447.4 z M1628.9,1447.4 h18 M1637.9,1438.4 v18" fill="none" stroke="#3150a6" stroke-width="1.4"/>
<path d="M1667.6,1403.6 L1676.6,1412.6 L1667.6,1421.6 L1658.6,1412.6 z M1658.6,1412.6 h18 M1667.6,1403.6 v18" fill="none" stroke="#3150a6" stroke-width="1.4"/>
<path d="M1692.3,1392.8 L1701.3,1401.8 L1692.3,1410.8 L1683.3,1401.8 z M1683.3,1401.8 h18 M1692.3,1392.8 v18" fill="none" stroke="#3150a6" stroke-width="1.4"/>
<path d="M1711.1,1409.4 L1720.1,1418.4 L1711.1,1427.4 L1702.1,1418.4 z M1702.1,1418.4 h18 M1711.1,1409.4 v18" fill="none" stroke="#3150a6" stroke-width="1.4"/>
<path d="M1731.4,1390.6 L1740.4,1399.6 L1731.4,1408.6 L1722.4,1399.6 z M1722.4,1399.6 h18 M1731.4,1390.6 v18" fill="none" stroke="#3150a6" stroke-width="1.4"/>
<path d="M1752.5,1412.6 L1761.5,1421.6 L1752.5,1430.6 L1743.5,1421.6 z M1743.5,1421.6 h18 M1752.5,1412.6 v18" fill="none" stroke="#3150a6" stroke-width="1.4"/>
<path d="M1778,1335.4 L1787,1344.4 L1778,1353.4 L1769,1344.4 z M1769,1344.4 h18 M1778,1335.4 v18" fill="none" stroke="#3150a6" stroke-width="1.4"/>
<path d="M1824.7,1285.5 L1833.7,1294.5 L1824.7,1303.5 L1815.7,1294.5 z M1815.7,1294.5 h18 M1824.7,1285.5 v18" fill="none" stroke="#3150a6" stroke-width="1.4"/>
<path d="M1852.2,1257.1 L1861.2,1266.1 L1852.2,1275.1 L1843.2,1266.1 z M1843.2,1266.1 h18 M1852.2,1257.1 v18" fill="none" stroke="#3150a6" stroke-width="1.4"/>
<path d="M1902,1227.6 L1911,1236.6 L1902,1245.6 L1893,1236.6 z M1893,1236.6 h18 M1902,1227.6 v18" fill="none" stroke="#3150a6" stroke-width="1.4"/>
<path d="M1908.1,1232.7 L1917.1,1241.7 L1908.1,1250.7 L1899.1,1241.7 z M1899.1,1241.7 h18 M1908.1,1232.7 v18" fill="none" stroke="#3150a6" stroke-width="1.4"/>
<path d="M1932.5,1262.2 L1941.5,1271.2 L1932.5,1280.2 L1923.5,1271.2 z M1923.5,1271.2 h18 M1932.5,1262.2 v18" fill="none" stroke="#3150a6" stroke-width="1.4"/>
<path d="M1947.7,1294.7 L1956.7,1303.7 L1947.7,1312.7 L1938.7,1303.7 z M1938.7,1303.7 h18 M1947.7,1294.7 v18" fill="none" stroke="#3150a6" stroke-width="1.4"/>
<path d="M1957.9,1314 L1966.9,1323 L1957.9,1332 L1948.9,1323 z M1948.9,1323 h18 M1957.9,1314 v18" fill="none" stroke="#3150a6" stroke-width="1.4"/>
<path d="M1966,1329.3 L1975,1338.3 L1966,1347.3 L1957,1338.3 z M1957,1338.3 h18 M1966,1329.3 v18" fill="none" stroke="#3150a6" stroke-width="1.4"/>
<path d="M1976.2,1343.5 L1985.2,1352.5 L1976.2,1361.5 L1967.2,1352.5 z M1967.2,1352.5 h18 M1976.2,1343.5 v18" fill="none" stroke="#3150a6" stroke-width="1.4"/>
<path d="M1986.4,1354.7 L1995.4,1363.7 L1986.4,1372.7 L1977.4,1363.7 z M1977.4,1363.7 h18 M1986.4,1354.7 v18" fill="none" stroke="#3150a6" stroke-width="1.4"/>
<path d="M1995.5,1290.6 L2004.5,1299.6 L1995.5,1308.6 L1986.5,1299.6 z M1986.5,1299.6 h18 M1995.5,1290.6 v18" fill="none" stroke="#3150a6" stroke-width="1.4"/>
<path d="M2004.2,935.6 L2013.2,944.6 L2004.2,953.6 L1995.2,944.6 z M1995.2,944.6 h18 M2004.2,935.6 v18" fill="none" stroke="#3150a6" stroke-width="1.4"/>
<path d="M2012.6,1509.3 L2021.6,1518.3 L2012.6,1527.3 L2003.6,1518.3 z M2003.6,1518.3 h18 M2012.6,1509.3 v18" fill="none" stroke="#3150a6" stroke-width="1.4"/>
</g>
<text font-size="33.00" text-anchor="middle" y="1599.30"><tspan x="1579.46" text-anchor="start" textLength="60.06" lengthAdjust="spacingAndGlyphs">Y(m)</tspan></text>
<text transform="translate(1075.00,1199.80) rotate(-90)" font-size="32.40" text-anchor="middle" y="0"><tspan x="0.00" text-anchor="start" textLength="31.95" lengthAdjust="spacingAndGlyphs">Ma</tspan></text>
<rect x="1238.9" y="881.7" width="304.7" height="113.3" fill="#fff" stroke="none"/>
<path d="M1238.9,995 H1543.6 V881.7" fill="none" stroke="#666" stroke-width="1.4"/><path d="M1238.9,995 V881.7 H1543.6" fill="none" stroke="#111" stroke-width="1.7"/>
<path d="M1243.7,902.4 H1309" stroke="#3150a6" stroke-width="3.4"/>
<path d="M1276.3,893.4 L1285.3,902.4 L1276.3,911.4 L1267.3,902.4 z M1267.3,902.4 h18 M1276.3,893.4 v18" fill="none" stroke="#3150a6" stroke-width="1.4"/>
<text font-size="32.60" text-anchor="middle" y="915.10"><tspan x="1325.29" text-anchor="start" textLength="63.24" lengthAdjust="spacingAndGlyphs">Case</tspan><tspan x="1398.15 1411.52">1,</tspan><tspan x="1422.93" text-anchor="start" textLength="47.43" lengthAdjust="spacingAndGlyphs">SR=</tspan><tspan x="1479.65 1493.02 1512.25 1528.55">0.10</tspan></text>
<path d="M1243.7,938.5 H1309" stroke="#ee1d23" stroke-width="3.3"/>
<circle cx="1276.3" cy="938.5" r="7.2" fill="#fff" stroke="#ee1d23" stroke-width="1.4"/>
<path d="M1268.5,939 a7.8,7.8 0 0 1 15.6,0 z" fill="#ee1d23"/>
<text font-size="32.60" text-anchor="middle" y="950.90"><tspan x="1325.29" text-anchor="start" textLength="63.24" lengthAdjust="spacingAndGlyphs">Case</tspan><tspan x="1398.15 1411.52">2,</tspan><tspan x="1422.93" text-anchor="start" textLength="47.43" lengthAdjust="spacingAndGlyphs">SR=</tspan><tspan x="1479.65 1493.02 1512.25 1528.55">0.28</tspan></text>
<path d="M1243.7,974.4 H1309" stroke="#5db531" stroke-width="3.3"/>
<path d="M1276.3,964.4 L1267.8,979.4 L1284.8,979.4 z" fill="#fff" stroke="#5db531" stroke-width="1.4"/>
<path d="M1276.3,964.4 L1270.6,974.4 L1282,974.4 z" fill="#5db531" stroke="#5db531" stroke-width="1.4"/>
<text font-size="32.60" text-anchor="middle" y="986.70"><tspan x="1325.29" text-anchor="start" textLength="63.24" lengthAdjust="spacingAndGlyphs">Case</tspan><tspan x="1398.15 1411.52">3,</tspan><tspan x="1422.93" text-anchor="start" textLength="47.43" lengthAdjust="spacingAndGlyphs">SR=</tspan><tspan x="1479.65 1493.02 1512.25 1528.55">0.55</tspan></text>
</svg>
</body></html>
